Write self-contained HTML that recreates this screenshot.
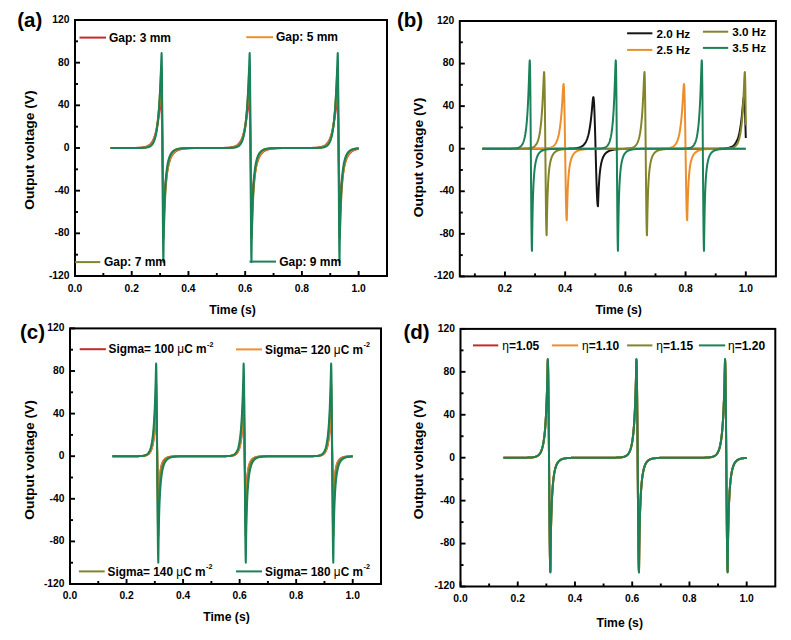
<!DOCTYPE html>
<html><head><meta charset="utf-8"><style>
html,body{margin:0;padding:0;background:#fff;}
svg{display:block;}
text{font-family:"Liberation Sans",sans-serif;font-weight:bold;fill:#000;}
.tk{font-size:10.3px;}
.lg{font-size:11.7px;}
.lga{font-size:12px;}
.lgc{font-size:11.85px;}
.ti{font-size:12.2px;}
.pl{font-size:20.5px;}
.mu{font-weight:normal;}
.sup{font-size:7.2px;}
</style></head><body>
<svg width="791" height="640" viewBox="0 0 791 640">
<rect width="791" height="640" fill="#fff"/>
<rect x="75.00" y="20.00" width="312.00" height="256.00" fill="none" stroke="#000" stroke-width="2.00"/>
<line x1="75.00" y1="276.00" x2="75.00" y2="271.00" stroke="#000" stroke-width="1.9"/>
<line x1="131.73" y1="276.00" x2="131.73" y2="271.00" stroke="#000" stroke-width="1.9"/>
<line x1="188.45" y1="276.00" x2="188.45" y2="271.00" stroke="#000" stroke-width="1.9"/>
<line x1="245.18" y1="276.00" x2="245.18" y2="271.00" stroke="#000" stroke-width="1.9"/>
<line x1="301.91" y1="276.00" x2="301.91" y2="271.00" stroke="#000" stroke-width="1.9"/>
<line x1="358.64" y1="276.00" x2="358.64" y2="271.00" stroke="#000" stroke-width="1.9"/>
<line x1="103.36" y1="276.00" x2="103.36" y2="273.00" stroke="#000" stroke-width="1.9"/>
<line x1="160.09" y1="276.00" x2="160.09" y2="273.00" stroke="#000" stroke-width="1.9"/>
<line x1="216.82" y1="276.00" x2="216.82" y2="273.00" stroke="#000" stroke-width="1.9"/>
<line x1="273.55" y1="276.00" x2="273.55" y2="273.00" stroke="#000" stroke-width="1.9"/>
<line x1="330.27" y1="276.00" x2="330.27" y2="273.00" stroke="#000" stroke-width="1.9"/>
<line x1="75.00" y1="276.00" x2="80.00" y2="276.00" stroke="#000" stroke-width="1.9"/>
<line x1="75.00" y1="233.33" x2="80.00" y2="233.33" stroke="#000" stroke-width="1.9"/>
<line x1="75.00" y1="190.67" x2="80.00" y2="190.67" stroke="#000" stroke-width="1.9"/>
<line x1="75.00" y1="148.00" x2="80.00" y2="148.00" stroke="#000" stroke-width="1.9"/>
<line x1="75.00" y1="105.33" x2="80.00" y2="105.33" stroke="#000" stroke-width="1.9"/>
<line x1="75.00" y1="62.67" x2="80.00" y2="62.67" stroke="#000" stroke-width="1.9"/>
<line x1="75.00" y1="20.00" x2="80.00" y2="20.00" stroke="#000" stroke-width="1.9"/>
<line x1="75.00" y1="254.67" x2="78.00" y2="254.67" stroke="#000" stroke-width="1.9"/>
<line x1="75.00" y1="212.00" x2="78.00" y2="212.00" stroke="#000" stroke-width="1.9"/>
<line x1="75.00" y1="169.33" x2="78.00" y2="169.33" stroke="#000" stroke-width="1.9"/>
<line x1="75.00" y1="126.67" x2="78.00" y2="126.67" stroke="#000" stroke-width="1.9"/>
<line x1="75.00" y1="84.00" x2="78.00" y2="84.00" stroke="#000" stroke-width="1.9"/>
<line x1="75.00" y1="41.33" x2="78.00" y2="41.33" stroke="#000" stroke-width="1.9"/>
<text x="75.00" y="291.50" class="tk" text-anchor="middle">0.0</text>
<text x="131.73" y="291.50" class="tk" text-anchor="middle">0.2</text>
<text x="188.45" y="291.50" class="tk" text-anchor="middle">0.4</text>
<text x="245.18" y="291.50" class="tk" text-anchor="middle">0.6</text>
<text x="301.91" y="291.50" class="tk" text-anchor="middle">0.8</text>
<text x="358.64" y="291.50" class="tk" text-anchor="middle">1.0</text>
<text x="69.50" y="278.90" class="tk" text-anchor="end">-120</text>
<text x="69.50" y="236.23" class="tk" text-anchor="end">-80</text>
<text x="69.50" y="193.57" class="tk" text-anchor="end">-40</text>
<text x="69.50" y="150.90" class="tk" text-anchor="end">0</text>
<text x="69.50" y="108.23" class="tk" text-anchor="end">40</text>
<text x="69.50" y="65.57" class="tk" text-anchor="end">80</text>
<text x="69.50" y="22.90" class="tk" text-anchor="end">120</text>
<path d="M110.45,148.00 111.95,148.00 113.45,148.00 114.95,148.00 116.45,148.00 117.95,148.00 119.45,148.00 120.95,148.00 122.45,148.00 123.95,147.99 125.45,147.99 126.95,147.99 128.46,147.98 129.96,147.98 131.46,147.96 132.96,147.95 134.46,147.93 135.96,147.89 137.46,147.84 138.96,147.77 139.35,147.75 139.75,147.72 140.16,147.69 140.56,147.66 140.96,147.62 141.35,147.58 141.75,147.54 142.16,147.49 142.56,147.44 142.96,147.38 143.35,147.31 143.75,147.24 144.16,147.16 144.56,147.07 144.96,146.97 145.35,146.87 145.75,146.75 146.16,146.61 146.56,146.47 146.96,146.31 147.35,146.13 147.75,145.93 148.16,145.72 148.56,145.48 148.96,145.21 149.35,144.92 149.75,144.60 150.16,144.24 150.56,143.84 150.96,143.41 151.35,142.92 151.75,142.39 152.16,141.80 152.56,141.15 152.96,140.43 153.35,139.64 153.75,138.76 154.16,137.79 154.56,136.72 154.96,135.54 155.35,134.23 155.75,132.79 156.16,131.20 156.56,129.44 156.96,127.50 157.35,125.37 157.75,123.01 157.85,122.39 157.96,121.75 158.06,121.09 158.16,120.42 158.25,119.73 158.35,119.03 158.46,118.31 158.56,117.57 158.66,116.82 158.75,116.05 158.85,115.26 158.96,114.45 159.06,113.63 159.16,112.79 159.25,111.93 159.35,111.06 159.46,110.16 159.56,109.26 159.66,108.33 159.75,107.40 159.85,106.45 159.96,105.49 160.06,104.53 160.16,103.57 160.25,102.62 160.35,101.69 160.46,100.80 160.56,99.96 160.66,99.21 160.75,98.58 160.85,98.13 160.96,97.89 161.00,97.87 161.06,97.95 161.16,98.53 161.25,99.67 161.35,101.36 161.46,103.58 161.56,106.31 161.66,109.50 161.75,113.14 161.85,117.18 161.96,121.57 162.06,126.27 162.16,131.22 162.25,136.38 162.35,141.68 162.46,147.06 162.56,152.48 162.66,157.86 162.75,163.16 162.85,168.30 162.96,173.24 163.06,177.92 163.16,182.29 163.25,186.30 163.35,189.91 163.46,193.08 163.56,195.77 163.66,197.96 163.75,199.61 163.85,200.72 163.96,201.27 164.00,201.33 164.06,201.21 164.16,200.58 164.25,199.63 164.35,198.48 164.46,197.22 164.56,195.91 164.66,194.59 164.75,193.29 164.85,192.00 164.96,190.75 165.06,189.53 165.16,188.35 165.25,187.21 165.35,186.11 165.46,185.05 165.56,184.02 165.66,183.02 165.75,182.06 165.85,181.14 165.96,180.24 166.06,179.37 166.16,178.53 166.25,177.72 166.35,176.94 166.46,176.18 166.56,175.44 166.66,174.73 166.75,174.04 166.85,173.37 166.96,172.72 167.06,172.10 167.16,171.49 167.25,170.89 167.35,170.32 167.46,169.76 167.56,169.22 167.96,167.21 168.35,165.41 168.75,163.81 169.16,162.37 169.56,161.08 169.96,159.91 170.35,158.86 170.75,157.91 171.16,157.05 171.56,156.28 171.96,155.57 172.35,154.93 172.75,154.35 173.16,153.82 173.56,153.34 173.96,152.90 174.35,152.50 174.75,152.13 175.16,151.80 175.56,151.49 175.96,151.21 176.35,150.96 176.75,150.72 177.16,150.51 177.56,150.31 177.96,150.13 178.35,149.96 178.75,149.81 179.16,149.67 179.56,149.54 179.96,149.42 180.35,149.32 180.75,149.21 181.16,149.12 181.56,149.04 181.96,148.96 182.35,148.89 182.75,148.82 183.16,148.76 183.56,148.70 183.96,148.65 184.35,148.60 184.75,148.56 185.16,148.52 185.56,148.48 185.96,148.44 186.35,148.41 186.75,148.38 187.16,148.35 187.56,148.33 189.06,148.25 190.56,148.19 192.06,148.14 193.56,148.11 195.06,148.08 196.56,148.06 198.06,148.05 199.56,148.04 201.06,148.03 202.56,148.02 204.06,148.02 205.56,148.01 207.06,148.01 208.56,148.01 210.06,148.00 211.56,148.00 213.06,148.00 214.56,147.99 216.06,147.99 217.56,147.98 219.06,147.97 220.56,147.96 222.06,147.93 223.56,147.90 225.06,147.86 226.56,147.80 226.96,147.78 227.35,147.75 227.75,147.73 228.16,147.70 228.56,147.66 228.96,147.63 229.35,147.59 229.75,147.55 230.16,147.50 230.56,147.45 230.96,147.39 231.35,147.32 231.75,147.25 232.16,147.17 232.56,147.09 232.96,146.99 233.35,146.89 233.75,146.77 234.16,146.64 234.56,146.50 234.96,146.34 235.35,146.16 235.75,145.97 236.16,145.76 236.56,145.52 236.96,145.26 237.35,144.97 237.75,144.65 238.16,144.30 238.56,143.91 238.96,143.48 239.35,143.01 239.75,142.49 240.16,141.91 240.56,141.27 240.96,140.56 241.35,139.78 241.75,138.92 242.16,137.96 242.56,136.91 242.96,135.75 243.35,134.47 243.75,133.05 244.16,131.48 244.56,129.76 244.96,127.85 245.35,125.75 245.75,123.43 245.85,122.82 245.96,122.19 246.06,121.55 246.16,120.89 246.25,120.21 246.35,119.52 246.46,118.81 246.56,118.08 246.66,117.34 246.75,116.58 246.85,115.81 246.96,115.01 247.06,114.20 247.16,113.37 247.25,112.53 247.35,111.66 247.46,110.78 247.56,109.88 247.66,108.97 247.75,108.04 247.85,107.10 247.96,106.15 248.06,105.20 248.16,104.24 248.25,103.28 248.35,102.33 248.46,101.41 248.56,100.53 248.66,99.72 248.75,99.00 248.85,98.42 248.96,98.03 249.06,97.87 249.07,97.87 249.16,98.07 249.25,98.83 249.35,100.14 249.46,102.00 249.56,104.37 249.66,107.25 249.75,110.58 249.85,114.35 249.96,118.50 250.06,122.99 250.16,127.77 250.25,132.80 250.35,138.00 250.46,143.34 250.56,148.74 250.66,154.15 250.75,159.51 250.85,164.76 250.96,169.85 251.06,174.72 251.16,179.31 251.25,183.57 251.35,187.46 251.46,190.94 251.56,193.97 251.66,196.50 251.75,198.53 251.85,200.02 251.96,200.95 252.06,201.33 252.07,201.33 252.16,201.06 252.25,200.31 252.35,199.29 252.46,198.10 252.56,196.82 252.66,195.51 252.75,194.19 252.85,192.89 252.96,191.61 253.06,190.37 253.16,189.16 253.25,188.00 253.35,186.87 253.46,185.78 253.56,184.72 253.66,183.71 253.75,182.72 253.85,181.77 253.96,180.86 254.06,179.97 254.16,179.11 254.25,178.28 254.35,177.48 254.46,176.70 254.56,175.95 254.66,175.22 254.75,174.52 254.85,173.83 254.96,173.17 255.06,172.53 255.16,171.91 255.25,171.30 255.35,170.72 255.46,170.15 255.56,169.59 255.66,169.06 256.06,167.06 256.45,165.28 256.86,163.69 257.25,162.26 257.65,160.98 258.06,159.83 258.45,158.78 258.86,157.84 259.25,156.99 259.65,156.22 260.06,155.52 260.45,154.88 260.86,154.31 261.25,153.78 261.65,153.30 262.06,152.87 262.45,152.47 262.86,152.10 263.25,151.77 263.65,151.47 264.06,151.19 264.45,150.94 264.86,150.70 265.25,150.49 265.65,150.30 266.06,150.12 266.45,149.95 266.86,149.80 267.25,149.66 267.65,149.53 268.06,149.42 268.45,149.31 268.86,149.21 269.25,149.12 269.65,149.03 270.06,148.95 270.45,148.88 270.86,148.82 271.25,148.76 271.65,148.70 272.06,148.65 272.45,148.60 272.86,148.56 273.25,148.51 273.65,148.48 274.06,148.44 274.45,148.41 274.86,148.38 275.25,148.35 275.65,148.33 277.15,148.25 278.65,148.19 280.15,148.14 281.65,148.11 283.15,148.08 284.65,148.06 286.15,148.05 287.65,148.04 289.15,148.03 290.65,148.02 292.15,148.02 293.65,148.01 295.15,148.01 296.65,148.01 298.15,148.00 299.65,148.00 301.15,148.00 302.65,147.99 304.15,147.99 305.65,147.98 307.15,147.97 308.65,147.96 310.15,147.93 311.65,147.90 313.15,147.86 314.65,147.80 315.06,147.77 315.45,147.75 315.86,147.72 316.25,147.69 316.65,147.66 317.06,147.63 317.45,147.59 317.86,147.54 318.25,147.50 318.65,147.44 319.06,147.38 319.45,147.32 319.86,147.25 320.25,147.17 320.65,147.08 321.06,146.98 321.45,146.88 321.86,146.76 322.25,146.63 322.65,146.48 323.06,146.32 323.45,146.15 323.86,145.95 324.25,145.74 324.65,145.50 325.06,145.24 325.45,144.95 325.86,144.63 326.25,144.27 326.65,143.88 327.06,143.45 327.45,142.97 327.86,142.44 328.25,141.86 328.65,141.21 329.06,140.50 329.45,139.72 329.86,138.85 330.25,137.89 330.65,136.83 331.06,135.65 331.45,134.36 331.86,132.93 332.25,131.36 332.65,129.62 333.06,127.70 333.45,125.58 333.86,123.25 333.95,122.63 334.06,121.99 334.15,121.34 334.25,120.68 334.36,120.00 334.45,119.30 334.56,118.59 334.65,117.86 334.75,117.11 334.86,116.34 334.95,115.56 335.06,114.76 335.15,113.95 335.25,113.11 335.36,112.26 335.45,111.39 335.56,110.51 335.65,109.60 335.75,108.69 335.86,107.76 335.95,106.81 336.06,105.86 336.15,104.90 336.25,103.94 336.36,102.98 336.45,102.04 336.56,101.13 336.65,100.27 336.75,99.48 336.86,98.80 336.95,98.28 337.06,97.96 337.14,97.87 337.15,97.87 337.25,98.24 337.36,99.17 337.45,100.66 337.56,102.68 337.65,105.21 337.75,108.23 337.86,111.70 337.95,115.59 338.06,119.85 338.15,124.44 338.25,129.30 338.36,134.39 338.45,139.64 338.56,145.00 338.65,150.41 338.75,155.82 338.86,161.15 338.95,166.36 339.06,171.38 339.15,176.17 339.25,180.66 339.36,184.82 339.45,188.58 339.56,191.93 339.65,194.80 339.75,197.19 339.86,199.05 339.95,200.37 340.06,201.13 340.14,201.33 340.15,201.32 340.25,200.86 340.36,200.02 340.45,198.93 340.56,197.71 340.65,196.42 340.75,195.10 340.86,193.78 340.95,192.49 341.06,191.22 341.15,189.99 341.25,188.80 341.36,187.64 341.45,186.53 341.56,185.45 341.65,184.41 341.75,183.40 341.86,182.43 341.95,181.49 342.06,180.58 342.15,179.70 342.25,178.85 342.36,178.03 342.45,177.24 342.56,176.47 342.65,175.72 342.75,175.00 342.86,174.30 342.95,173.63 343.06,172.97 343.15,172.33 343.25,171.72 343.36,171.12 343.45,170.54 343.56,169.97 343.65,169.43 344.06,167.39 344.45,165.58 344.86,163.96 345.25,162.50 345.65,161.19 346.06,160.02 346.45,158.96 346.86,158.00 347.25,157.13 347.65,156.35 348.06,155.64 348.45,154.99 348.86,154.40 349.25,153.87 349.65,153.38 350.06,152.94 350.45,152.53 350.86,152.16 351.25,151.83 351.65,151.52 352.06,151.24 352.45,150.98 352.86,150.74 353.25,150.53 353.65,150.33 354.06,150.15 354.45,149.98 354.86,149.82 355.25,149.68 355.65,149.55 356.06,149.43 356.45,149.33 356.86,149.22 357.25,149.13 357.65,149.05 358.06,148.97 358.45,148.89 358.64,148.86" fill="none" stroke="#c42a2c" stroke-width="2.00" stroke-linejoin="round"/>
<path d="M110.45,148.00 111.95,148.00 113.45,148.00 114.95,148.00 116.45,148.00 117.95,148.00 119.45,148.00 120.95,148.00 122.45,148.00 123.95,148.00 125.45,148.00 126.95,148.00 128.46,147.99 129.96,147.99 131.46,147.99 132.96,147.98 134.46,147.97 135.96,147.95 137.46,147.92 138.96,147.88 139.35,147.86 139.75,147.84 140.16,147.82 140.56,147.80 140.96,147.78 141.35,147.75 141.75,147.72 142.16,147.69 142.56,147.65 142.96,147.61 143.35,147.56 143.75,147.51 144.16,147.45 144.56,147.38 144.96,147.31 145.35,147.23 145.75,147.13 146.16,147.03 146.56,146.91 146.96,146.78 147.35,146.63 147.75,146.46 148.16,146.28 148.56,146.07 148.96,145.84 149.35,145.57 149.75,145.28 150.16,144.95 150.56,144.58 150.96,144.17 151.35,143.70 151.75,143.19 152.16,142.60 152.56,141.95 152.96,141.22 153.35,140.40 153.75,139.48 154.16,138.45 154.56,137.30 154.96,136.00 155.35,134.55 155.75,132.93 156.16,131.11 156.56,129.07 156.96,126.79 157.35,124.24 157.75,121.38 157.85,120.61 157.96,119.82 158.06,119.01 158.16,118.18 158.25,117.32 158.35,116.44 158.46,115.54 158.56,114.61 158.66,113.65 158.75,112.67 158.85,111.66 158.96,110.62 159.06,109.55 159.16,108.46 159.25,107.34 159.35,106.18 159.46,105.00 159.56,103.79 159.66,102.55 159.75,101.27 159.85,99.97 159.96,98.64 160.06,97.29 160.16,95.91 160.25,94.51 160.35,93.10 160.46,91.68 160.56,90.26 160.66,88.88 160.75,87.55 160.85,86.32 160.96,85.27 161.06,84.48 161.16,84.05 161.20,84.00 161.25,84.14 161.35,85.13 161.46,87.07 161.56,89.93 161.66,93.67 161.75,98.23 161.85,103.55 161.96,109.55 162.06,116.14 162.16,123.22 162.25,130.70 162.35,138.46 162.46,146.39 162.56,154.38 162.66,162.30 162.75,170.05 162.85,177.51 162.96,184.56 163.06,191.12 163.16,197.08 163.25,202.35 163.35,206.86 163.46,210.54 163.56,213.35 163.66,215.23 163.75,216.16 163.80,216.27 163.85,216.04 163.96,214.94 164.06,213.33 164.16,211.45 164.25,209.47 164.35,207.45 164.46,205.47 164.56,203.54 164.66,201.68 164.75,199.88 164.85,198.15 164.96,196.50 165.06,194.91 165.16,193.38 165.25,191.92 165.35,190.51 165.46,189.16 165.56,187.87 165.66,186.62 165.75,185.42 165.85,184.27 165.96,183.16 166.06,182.09 166.16,181.06 166.25,180.07 166.35,179.11 166.46,178.19 166.56,177.29 166.66,176.43 166.75,175.60 166.85,174.80 166.96,174.03 167.06,173.28 167.16,172.55 167.25,171.85 167.35,171.18 167.46,170.52 167.56,169.89 167.96,167.55 168.35,165.49 168.75,163.67 169.16,162.06 169.56,160.63 169.96,159.36 170.35,158.23 170.75,157.21 171.16,156.31 171.56,155.50 171.96,154.78 172.35,154.13 172.75,153.55 173.16,153.02 173.56,152.55 173.96,152.13 174.35,151.74 174.75,151.40 175.16,151.09 175.56,150.81 175.96,150.55 176.35,150.32 176.75,150.11 177.16,149.92 177.56,149.75 177.96,149.60 178.35,149.45 178.75,149.33 179.16,149.21 179.56,149.10 179.96,149.01 180.35,148.92 180.75,148.84 181.16,148.77 181.56,148.70 181.96,148.64 182.35,148.59 182.75,148.54 183.16,148.49 183.56,148.45 183.96,148.41 184.35,148.38 184.75,148.35 185.16,148.32 185.56,148.29 185.96,148.27 186.35,148.24 186.75,148.22 187.16,148.21 187.56,148.19 189.06,148.14 190.56,148.10 192.06,148.07 193.56,148.05 195.06,148.04 196.56,148.03 198.06,148.02 199.56,148.02 201.06,148.01 202.56,148.01 204.06,148.01 205.56,148.00 207.06,148.00 208.56,148.00 210.06,148.00 211.56,148.00 213.06,148.00 214.56,148.00 216.06,148.00 217.56,147.99 219.06,147.99 220.56,147.98 222.06,147.97 223.56,147.95 225.06,147.93 226.56,147.89 226.96,147.88 227.35,147.86 227.75,147.85 228.16,147.83 228.56,147.81 228.96,147.78 229.35,147.76 229.75,147.73 230.16,147.70 230.56,147.66 230.96,147.62 231.35,147.57 231.75,147.52 232.16,147.46 232.56,147.40 232.96,147.32 233.35,147.24 233.75,147.15 234.16,147.05 234.56,146.93 234.96,146.80 235.35,146.66 235.75,146.49 236.16,146.31 236.56,146.11 236.96,145.88 237.35,145.62 237.75,145.33 238.16,145.01 238.56,144.65 238.96,144.24 239.35,143.79 239.75,143.28 240.16,142.71 240.56,142.07 240.96,141.35 241.35,140.55 241.75,139.65 242.16,138.64 242.56,137.50 242.96,136.24 243.35,134.82 243.75,133.22 244.16,131.44 244.56,129.44 244.96,127.20 245.35,124.70 245.75,121.89 245.85,121.14 245.96,120.37 246.06,119.58 246.16,118.76 246.25,117.92 246.35,117.05 246.46,116.17 246.56,115.25 246.66,114.31 246.75,113.35 246.85,112.36 246.96,111.34 247.06,110.29 247.16,109.22 247.25,108.12 247.35,106.98 247.46,105.82 247.56,104.63 247.66,103.41 247.75,102.16 247.85,100.88 247.96,99.57 248.06,98.23 248.16,96.86 248.25,95.48 248.35,94.07 248.46,92.66 248.56,91.24 248.66,89.83 248.75,88.46 248.85,87.16 248.96,85.97 249.06,84.99 249.16,84.30 249.25,84.01 249.27,84.00 249.35,84.34 249.46,85.63 249.56,87.86 249.66,91.00 249.75,94.99 249.85,99.80 249.96,105.34 250.06,111.53 250.16,118.28 250.25,125.50 250.35,133.08 250.46,140.90 250.56,148.86 250.66,156.84 250.75,164.72 250.85,172.39 250.96,179.74 251.06,186.65 251.16,193.03 251.25,198.78 251.35,203.83 251.46,208.09 251.56,211.51 251.66,214.03 251.75,215.62 251.85,216.25 251.87,216.27 251.96,215.78 252.06,214.49 252.16,212.77 252.25,210.85 252.35,208.84 252.46,206.84 252.56,204.87 252.66,202.96 252.75,201.11 252.85,199.34 252.96,197.63 253.06,196.00 253.16,194.43 253.25,192.92 253.35,191.48 253.46,190.09 253.56,188.76 253.66,187.48 253.75,186.24 253.85,185.06 253.96,183.92 254.06,182.82 254.16,181.77 254.25,180.75 254.35,179.77 254.46,178.82 254.56,177.91 254.66,177.03 254.75,176.18 254.85,175.35 254.96,174.56 255.06,173.79 255.16,173.05 255.25,172.34 255.35,171.64 255.46,170.97 255.56,170.32 255.66,169.70 256.06,167.38 256.45,165.34 256.86,163.54 257.25,161.94 257.65,160.52 258.06,159.27 258.45,158.14 258.86,157.14 259.25,156.25 259.65,155.45 260.06,154.73 260.45,154.08 260.86,153.51 261.25,152.99 261.65,152.52 262.06,152.10 262.45,151.72 262.86,151.37 263.25,151.06 263.65,150.79 264.06,150.53 264.45,150.30 264.86,150.10 265.25,149.91 265.65,149.74 266.06,149.58 266.45,149.44 266.86,149.32 267.25,149.20 267.65,149.10 268.06,149.00 268.45,148.91 268.86,148.84 269.25,148.76 269.65,148.70 270.06,148.64 270.45,148.58 270.86,148.53 271.25,148.49 271.65,148.45 272.06,148.41 272.45,148.38 272.86,148.34 273.25,148.32 273.65,148.29 274.06,148.26 274.45,148.24 274.86,148.22 275.25,148.20 275.65,148.19 277.15,148.14 278.65,148.10 280.15,148.07 281.65,148.05 283.15,148.04 284.65,148.03 286.15,148.02 287.65,148.02 289.15,148.01 290.65,148.01 292.15,148.01 293.65,148.00 295.15,148.00 296.65,148.00 298.15,148.00 299.65,148.00 301.15,148.00 302.65,148.00 304.15,148.00 305.65,147.99 307.15,147.99 308.65,147.98 310.15,147.97 311.65,147.95 313.15,147.93 314.65,147.89 315.06,147.88 315.45,147.86 315.86,147.85 316.25,147.83 316.65,147.81 317.06,147.78 317.45,147.76 317.86,147.73 318.25,147.69 318.65,147.66 319.06,147.61 319.45,147.57 319.86,147.52 320.25,147.46 320.65,147.39 321.06,147.32 321.45,147.23 321.86,147.14 322.25,147.04 322.65,146.92 323.06,146.79 323.45,146.64 323.86,146.48 324.25,146.30 324.65,146.09 325.06,145.86 325.45,145.60 325.86,145.31 326.25,144.98 326.65,144.62 327.06,144.21 327.45,143.75 327.86,143.24 328.25,142.66 328.65,142.02 329.06,141.29 329.45,140.48 329.86,139.57 330.25,138.55 330.65,137.41 331.06,136.13 331.45,134.70 331.86,133.09 332.25,131.29 332.65,129.28 333.06,127.02 333.45,124.49 333.86,121.66 333.95,120.91 334.06,120.13 334.15,119.33 334.25,118.50 334.36,117.65 334.45,116.78 334.56,115.89 334.65,114.97 334.75,114.02 334.86,113.05 334.95,112.05 335.06,111.02 335.15,109.96 335.25,108.88 335.36,107.77 335.45,106.63 335.56,105.46 335.65,104.26 335.75,103.02 335.86,101.76 335.95,100.47 336.06,99.16 336.15,97.81 336.25,96.44 336.36,95.05 336.45,93.64 336.56,92.22 336.65,90.80 336.75,89.40 336.86,88.05 336.95,86.78 337.06,85.65 337.15,84.74 337.25,84.16 337.34,84.00 337.36,84.01 337.45,84.64 337.56,86.22 337.65,88.73 337.75,92.14 337.86,96.40 337.95,101.43 338.06,107.18 338.15,113.56 338.25,120.47 338.36,127.81 338.45,135.47 338.56,143.35 338.65,151.33 338.75,159.29 338.86,167.12 338.95,174.70 339.06,181.92 339.15,188.68 339.25,194.88 339.36,200.42 339.45,205.23 339.56,209.24 339.65,212.38 339.75,214.62 339.86,215.92 339.94,216.27 339.95,216.24 340.06,215.44 340.15,213.99 340.25,212.19 340.36,210.23 340.45,208.22 340.56,206.22 340.65,204.27 340.75,202.38 340.86,200.56 340.95,198.80 341.06,197.12 341.15,195.50 341.25,193.96 341.36,192.47 341.45,191.04 341.56,189.67 341.65,188.35 341.75,187.09 341.86,185.87 341.95,184.70 342.06,183.58 342.15,182.49 342.25,181.45 342.36,180.44 342.45,179.47 342.56,178.53 342.65,177.63 342.75,176.76 342.86,175.92 342.95,175.11 343.06,174.32 343.15,173.56 343.25,172.83 343.36,172.12 343.45,171.43 343.56,170.77 343.65,170.13 344.06,167.76 344.45,165.67 344.86,163.83 345.25,162.20 345.65,160.76 346.06,159.47 346.45,158.33 346.86,157.31 347.25,156.39 347.65,155.58 348.06,154.85 348.45,154.19 348.86,153.60 349.25,153.07 349.65,152.60 350.06,152.17 350.45,151.78 350.86,151.43 351.25,151.12 351.65,150.83 352.06,150.57 352.45,150.34 352.86,150.13 353.25,149.94 353.65,149.77 354.06,149.61 354.45,149.47 354.86,149.34 355.25,149.22 355.65,149.11 356.06,149.02 356.45,148.93 356.86,148.85 357.25,148.78 357.65,148.71 358.06,148.65 358.45,148.59 358.64,148.57" fill="none" stroke="#ec8e2e" stroke-width="2.00" stroke-linejoin="round"/>
<path d="M110.45,148.00 111.95,148.00 113.45,148.00 114.95,148.00 116.45,148.00 117.95,148.00 119.45,148.00 120.95,148.00 122.45,148.00 123.95,148.00 125.45,148.00 126.95,148.00 128.46,148.00 129.96,148.00 131.46,147.99 132.96,147.99 134.46,147.99 135.96,147.98 137.46,147.96 138.96,147.94 139.35,147.93 139.75,147.92 140.16,147.91 140.56,147.89 140.96,147.88 141.35,147.86 141.75,147.84 142.16,147.82 142.56,147.80 142.96,147.77 143.35,147.74 143.75,147.70 144.16,147.66 144.56,147.62 144.96,147.56 145.35,147.50 145.75,147.43 146.16,147.36 146.56,147.27 146.96,147.17 147.35,147.05 147.75,146.92 148.16,146.77 148.56,146.60 148.96,146.41 149.35,146.19 149.75,145.94 150.16,145.66 150.56,145.34 150.96,144.97 151.35,144.56 151.75,144.08 152.16,143.54 152.56,142.93 152.96,142.23 153.35,141.44 153.75,140.54 154.16,139.51 154.56,138.34 154.96,137.01 155.35,135.50 155.75,133.78 156.16,131.82 156.56,129.60 156.96,127.07 157.35,124.20 157.75,120.93 157.85,120.05 157.96,119.13 158.06,118.19 158.16,117.22 158.25,116.21 158.35,115.17 158.46,114.10 158.56,113.00 158.66,111.86 158.75,110.68 158.85,109.47 158.96,108.21 159.06,106.92 159.16,105.58 159.25,104.20 159.35,102.78 159.46,101.32 159.56,99.81 159.66,98.25 159.75,96.64 159.85,94.99 159.96,93.28 160.06,91.53 160.16,89.73 160.25,87.88 160.35,85.98 160.46,84.03 160.56,82.04 160.66,80.02 160.75,77.98 160.85,75.93 160.96,73.92 161.06,71.99 161.16,70.25 161.25,68.87 161.35,68.09 161.40,68.00 161.46,68.25 161.56,70.03 161.66,73.52 161.75,78.62 161.85,85.25 161.96,93.27 162.06,102.51 162.16,112.78 162.25,123.88 162.35,135.57 162.46,147.63 162.56,159.81 162.66,171.85 162.75,183.52 162.85,194.57 162.96,204.78 163.06,213.95 163.16,221.88 163.25,228.41 163.35,233.42 163.46,236.80 163.56,238.48 163.60,238.67 163.66,238.20 163.75,236.01 163.85,232.95 163.96,229.58 164.06,226.17 164.16,222.86 164.25,219.67 164.35,216.64 164.46,213.76 164.56,211.04 164.66,208.45 164.75,205.99 164.85,203.66 164.96,201.45 165.06,199.34 165.16,197.34 165.25,195.43 165.35,193.62 165.46,191.88 165.56,190.23 165.66,188.64 165.75,187.13 165.85,185.69 165.96,184.31 166.06,182.98 166.16,181.72 166.25,180.50 166.35,179.34 166.46,178.22 166.56,177.15 166.66,176.13 166.75,175.14 166.85,174.19 166.96,173.28 167.06,172.41 167.16,171.57 167.25,170.76 167.35,169.99 167.46,169.24 167.56,168.52 167.96,165.90 168.35,163.65 168.75,161.71 169.16,160.02 169.56,158.56 169.96,157.29 170.35,156.18 170.75,155.21 171.16,154.37 171.56,153.62 171.96,152.97 172.35,152.40 172.75,151.90 173.16,151.46 173.56,151.07 173.96,150.73 174.35,150.42 174.75,150.15 175.16,149.92 175.56,149.71 175.96,149.52 176.35,149.35 176.75,149.21 177.16,149.08 177.56,148.96 177.96,148.86 178.35,148.77 178.75,148.69 179.16,148.61 179.56,148.55 179.96,148.49 180.35,148.44 180.75,148.40 181.16,148.35 181.56,148.32 181.96,148.28 182.35,148.26 182.75,148.23 183.16,148.21 183.56,148.19 183.96,148.17 184.35,148.15 184.75,148.13 185.16,148.12 185.56,148.11 185.96,148.10 186.35,148.09 186.75,148.08 187.16,148.07 187.56,148.06 189.06,148.04 190.56,148.03 192.06,148.02 193.56,148.01 195.06,148.01 196.56,148.01 198.06,148.00 199.56,148.00 201.06,148.00 202.56,148.00 204.06,148.00 205.56,148.00 207.06,148.00 208.56,148.00 210.06,148.00 211.56,148.00 213.06,148.00 214.56,148.00 216.06,148.00 217.56,148.00 219.06,148.00 220.56,147.99 222.06,147.99 223.56,147.98 225.06,147.97 226.56,147.95 226.96,147.94 227.35,147.93 227.75,147.92 228.16,147.91 228.56,147.90 228.96,147.88 229.35,147.87 229.75,147.85 230.16,147.83 230.56,147.80 230.96,147.78 231.35,147.74 231.75,147.71 232.16,147.67 232.56,147.62 232.96,147.57 233.35,147.51 233.75,147.45 234.16,147.37 234.56,147.28 234.96,147.19 235.35,147.07 235.75,146.95 236.16,146.80 236.56,146.63 236.96,146.45 237.35,146.23 237.75,145.99 238.16,145.71 238.56,145.40 238.96,145.04 239.35,144.63 239.75,144.17 240.16,143.64 240.56,143.04 240.96,142.36 241.35,141.58 241.75,140.70 242.16,139.70 242.56,138.55 242.96,137.25 243.35,135.77 243.75,134.09 244.16,132.18 244.56,130.01 244.96,127.53 245.35,124.72 245.75,121.52 245.85,120.66 245.96,119.77 246.06,118.84 246.16,117.89 246.25,116.91 246.35,115.89 246.46,114.85 246.56,113.77 246.66,112.65 246.75,111.50 246.85,110.31 246.96,109.08 247.06,107.82 247.16,106.51 247.25,105.16 247.35,103.77 247.46,102.33 247.56,100.85 247.66,99.33 247.75,97.76 247.85,96.14 247.96,94.47 248.06,92.75 248.16,90.98 248.25,89.16 248.35,87.29 248.46,85.38 248.56,83.42 248.66,81.42 248.75,79.39 248.85,77.35 248.96,75.30 249.06,73.31 249.16,71.43 249.25,69.78 249.35,68.56 249.46,68.01 249.47,68.00 249.56,68.61 249.66,70.93 249.75,74.93 249.85,80.52 249.96,87.59 250.06,96.00 250.16,105.58 250.25,116.13 250.35,127.44 250.46,139.27 250.56,151.39 250.66,163.56 250.75,175.51 250.85,187.01 250.96,197.83 251.06,207.74 251.16,216.54 251.25,224.05 251.35,230.13 251.46,234.64 251.56,237.50 251.66,238.64 251.67,238.67 251.75,237.66 251.85,235.12 251.96,231.92 252.06,228.52 252.16,225.14 252.25,221.86 252.35,218.72 252.46,215.74 252.56,212.91 252.66,210.22 252.75,207.68 252.85,205.26 252.96,202.97 253.06,200.79 253.16,198.72 253.25,196.74 253.35,194.86 253.46,193.07 253.56,191.36 253.66,189.73 253.75,188.17 253.85,186.68 253.96,185.26 254.06,183.89 254.16,182.59 254.25,181.34 254.35,180.14 254.46,178.99 254.56,177.89 254.66,176.83 254.75,175.82 254.85,174.84 254.96,173.91 255.06,173.01 255.16,172.15 255.25,171.32 255.35,170.52 255.46,169.75 255.56,169.01 255.66,168.30 256.06,165.72 256.45,163.49 256.86,161.57 257.25,159.90 257.65,158.45 258.06,157.20 258.45,156.10 258.86,155.14 259.25,154.30 259.65,153.57 260.06,152.93 260.45,152.36 260.86,151.86 261.25,151.43 261.65,151.04 262.06,150.70 262.45,150.40 262.86,150.13 263.25,149.90 263.65,149.69 264.06,149.51 264.45,149.34 264.86,149.20 265.25,149.07 265.65,148.95 266.06,148.85 266.45,148.76 266.86,148.68 267.25,148.61 267.65,148.55 268.06,148.49 268.45,148.44 268.86,148.39 269.25,148.35 269.65,148.31 270.06,148.28 270.45,148.25 270.86,148.23 271.25,148.20 271.65,148.18 272.06,148.16 272.45,148.15 272.86,148.13 273.25,148.12 273.65,148.11 274.06,148.10 274.45,148.09 274.86,148.08 275.25,148.07 275.65,148.06 277.15,148.04 278.65,148.03 280.15,148.02 281.65,148.01 283.15,148.01 284.65,148.01 286.15,148.00 287.65,148.00 289.15,148.00 290.65,148.00 292.15,148.00 293.65,148.00 295.15,148.00 296.65,148.00 298.15,148.00 299.65,148.00 301.15,148.00 302.65,148.00 304.15,148.00 305.65,148.00 307.15,148.00 308.65,147.99 310.15,147.99 311.65,147.98 313.15,147.97 314.65,147.95 315.06,147.94 315.45,147.93 315.86,147.92 316.25,147.91 316.65,147.90 317.06,147.88 317.45,147.86 317.86,147.85 318.25,147.82 318.65,147.80 319.06,147.77 319.45,147.74 319.86,147.71 320.25,147.67 320.65,147.62 321.06,147.57 321.45,147.51 321.86,147.44 322.25,147.36 322.65,147.28 323.06,147.18 323.45,147.06 323.86,146.93 324.25,146.79 324.65,146.62 325.06,146.43 325.45,146.22 325.86,145.97 326.25,145.69 326.65,145.37 327.06,145.01 327.45,144.60 327.86,144.13 328.25,143.60 328.65,142.99 329.06,142.30 329.45,141.52 329.86,140.63 330.25,139.61 330.65,138.46 331.06,137.14 331.45,135.65 331.86,133.95 332.25,132.02 332.65,129.83 333.06,127.33 333.45,124.49 333.86,121.26 333.95,120.39 334.06,119.48 334.15,118.55 334.25,117.59 334.36,116.60 334.45,115.57 334.56,114.52 334.65,113.42 334.75,112.30 334.86,111.13 334.95,109.93 335.06,108.69 335.15,107.42 335.25,106.10 335.36,104.73 335.45,103.33 335.56,101.88 335.65,100.39 335.75,98.85 335.86,97.26 335.95,95.62 336.06,93.94 336.15,92.21 336.25,90.42 336.36,88.59 336.45,86.71 336.56,84.78 336.65,82.81 336.75,80.80 336.86,78.76 336.95,76.71 337.06,74.68 337.15,72.71 337.25,70.88 337.36,69.34 337.45,68.30 337.54,68.00 337.56,68.02 337.65,69.15 337.75,71.99 337.86,76.49 337.95,82.55 338.06,90.05 338.15,98.85 338.25,108.75 338.36,119.56 338.45,131.05 338.56,143.00 338.65,155.16 338.75,167.28 338.86,179.12 338.95,190.44 339.06,200.99 339.15,210.58 339.25,219.01 339.36,226.09 339.45,231.70 339.56,235.71 339.65,238.04 339.74,238.67 339.75,238.61 339.86,236.99 339.95,234.17 340.06,230.88 340.15,227.47 340.25,224.11 340.36,220.87 340.45,217.78 340.56,214.85 340.65,212.06 340.75,209.42 340.86,206.92 340.95,204.54 341.06,202.28 341.15,200.14 341.25,198.09 341.36,196.15 341.45,194.30 341.56,192.53 341.65,190.85 341.75,189.24 341.86,187.70 341.95,186.23 342.06,184.83 342.15,183.48 342.25,182.19 342.36,180.96 342.45,179.78 342.56,178.64 342.65,177.56 342.75,176.51 342.86,175.51 342.95,174.55 343.06,173.63 343.15,172.74 343.25,171.89 343.36,171.07 343.45,170.28 343.56,169.52 343.65,168.79 344.06,166.14 344.45,163.85 344.86,161.88 345.25,160.17 345.65,158.69 346.06,157.40 346.45,156.28 346.86,155.30 347.25,154.44 347.65,153.69 348.06,153.03 348.45,152.45 348.86,151.95 349.25,151.50 349.65,151.10 350.06,150.76 350.45,150.45 350.86,150.18 351.25,149.94 351.65,149.72 352.06,149.54 352.45,149.37 352.86,149.22 353.25,149.09 353.65,148.97 354.06,148.87 354.45,148.78 354.86,148.69 355.25,148.62 355.65,148.56 356.06,148.50 356.45,148.45 356.86,148.40 357.25,148.36 357.65,148.32 358.06,148.29 358.45,148.26 358.64,148.25" fill="none" stroke="#84842a" stroke-width="2.00" stroke-linejoin="round"/>
<path d="M110.45,148.00 111.95,148.00 113.45,148.00 114.95,148.00 116.45,148.00 117.95,148.00 119.45,148.00 120.95,148.00 122.45,148.00 123.95,148.00 125.45,148.00 126.95,148.00 128.46,148.00 129.96,148.00 131.46,148.00 132.96,148.00 134.46,147.99 135.96,147.99 137.46,147.98 138.96,147.97 139.35,147.96 139.75,147.96 140.16,147.95 140.56,147.95 140.96,147.94 141.35,147.93 141.75,147.92 142.16,147.90 142.56,147.89 142.96,147.87 143.35,147.85 143.75,147.83 144.16,147.80 144.56,147.77 144.96,147.74 145.35,147.70 145.75,147.65 146.16,147.60 146.56,147.54 146.96,147.46 147.35,147.38 147.75,147.29 148.16,147.18 148.56,147.05 148.96,146.91 149.35,146.74 149.75,146.54 150.16,146.32 150.56,146.06 150.96,145.77 151.35,145.42 151.75,145.03 152.16,144.57 152.56,144.04 152.96,143.44 153.35,142.74 153.75,141.93 154.16,140.99 154.56,139.92 154.96,138.68 155.35,137.25 155.75,135.60 156.16,133.69 156.56,131.50 156.96,128.96 157.35,126.04 157.75,122.67 157.85,121.75 157.96,120.80 158.06,119.81 158.16,118.79 158.25,117.73 158.35,116.63 158.46,115.49 158.56,114.31 158.66,113.08 158.75,111.82 158.85,110.50 158.96,109.14 159.06,107.73 159.16,106.27 159.25,104.75 159.35,103.19 159.46,101.56 159.56,99.88 159.66,98.13 159.75,96.32 159.85,94.45 159.96,92.51 160.06,90.50 160.16,88.42 160.25,86.27 160.35,84.04 160.46,81.73 160.56,79.35 160.66,76.88 160.75,74.33 160.85,71.70 160.96,68.99 161.06,66.20 161.16,63.36 161.25,60.49 161.35,57.66 161.46,55.08 161.56,53.31 161.60,53.07 161.66,53.52 161.75,56.78 161.85,63.11 161.96,72.31 162.06,84.10 162.16,98.12 162.25,113.95 162.35,131.11 162.46,149.07 162.56,167.29 162.66,185.22 162.75,202.30 162.85,218.03 162.96,231.93 163.06,243.56 163.16,252.58 163.25,258.72 163.35,261.78 163.40,262.13 163.46,259.03 163.56,250.46 163.66,242.41 163.75,235.48 163.85,229.50 163.96,224.28 164.06,219.64 164.16,215.49 164.25,211.74 164.35,208.33 164.46,205.20 164.56,202.32 164.66,199.66 164.75,197.20 164.85,194.90 164.96,192.76 165.06,190.76 165.16,188.88 165.25,187.12 165.35,185.46 165.46,183.89 165.56,182.42 165.66,181.02 165.75,179.70 165.85,178.45 165.96,177.26 166.06,176.14 166.16,175.07 166.25,174.05 166.35,173.08 166.46,172.15 166.56,171.27 166.66,170.43 166.75,169.63 166.85,168.86 166.96,168.13 167.06,167.43 167.16,166.75 167.25,166.11 167.35,165.50 167.46,164.91 167.56,164.34 167.96,162.29 168.35,160.55 168.75,159.05 169.16,157.76 169.56,156.64 169.96,155.67 170.35,154.83 170.75,154.08 171.16,153.43 171.56,152.86 171.96,152.36 172.35,151.91 172.75,151.52 173.16,151.17 173.56,150.85 173.96,150.57 174.35,150.33 174.75,150.10 175.16,149.91 175.56,149.73 175.96,149.57 176.35,149.42 176.75,149.29 177.16,149.18 177.56,149.07 177.96,148.98 178.35,148.89 178.75,148.81 179.16,148.74 179.56,148.68 179.96,148.62 180.35,148.57 180.75,148.52 181.16,148.48 181.56,148.44 181.96,148.40 182.35,148.37 182.75,148.34 183.16,148.31 183.56,148.29 183.96,148.26 184.35,148.24 184.75,148.22 185.16,148.20 185.56,148.19 185.96,148.17 186.35,148.16 186.75,148.15 187.16,148.14 187.56,148.13 189.06,148.09 190.56,148.07 192.06,148.05 193.56,148.04 195.06,148.03 196.56,148.02 198.06,148.02 199.56,148.01 201.06,148.01 202.56,148.01 204.06,148.01 205.56,148.00 207.06,148.00 208.56,148.00 210.06,148.00 211.56,148.00 213.06,148.00 214.56,148.00 216.06,148.00 217.56,148.00 219.06,148.00 220.56,148.00 222.06,148.00 223.56,147.99 225.06,147.98 226.56,147.97 226.96,147.97 227.35,147.97 227.75,147.96 228.16,147.95 228.56,147.95 228.96,147.94 229.35,147.93 229.75,147.92 230.16,147.91 230.56,147.89 230.96,147.87 231.35,147.86 231.75,147.83 232.16,147.81 232.56,147.78 232.96,147.74 233.35,147.71 233.75,147.66 234.16,147.61 234.56,147.55 234.96,147.48 235.35,147.40 235.75,147.30 236.16,147.20 236.56,147.07 236.96,146.93 237.35,146.77 237.75,146.58 238.16,146.36 238.56,146.11 238.96,145.82 239.35,145.49 239.75,145.10 240.16,144.65 240.56,144.14 240.96,143.55 241.35,142.86 241.75,142.08 242.16,141.17 242.56,140.12 242.96,138.91 243.35,137.51 243.75,135.90 244.16,134.04 244.56,131.90 244.96,129.43 245.35,126.58 245.75,123.29 245.85,122.39 245.96,121.46 246.06,120.50 246.16,119.50 246.25,118.46 246.35,117.39 246.46,116.28 246.56,115.13 246.66,113.93 246.75,112.70 246.85,111.41 246.96,110.09 247.06,108.71 247.16,107.28 247.25,105.81 247.35,104.28 247.46,102.69 247.56,101.05 247.66,99.34 247.75,97.58 247.85,95.75 247.96,93.86 248.06,91.90 248.16,89.87 248.25,87.77 248.35,85.59 248.46,83.34 248.56,81.00 248.66,78.59 248.75,76.10 248.85,73.52 248.96,70.87 249.06,68.13 249.16,65.33 249.25,62.47 249.35,59.60 249.46,56.82 249.56,54.40 249.66,53.10 249.67,53.07 249.75,54.19 249.85,58.42 249.96,65.66 250.06,75.69 250.16,88.21 250.25,102.84 250.35,119.13 250.46,136.60 250.56,154.70 250.66,172.89 250.75,190.61 250.85,207.33 250.96,222.54 251.06,235.78 251.16,246.64 251.25,254.80 251.35,260.00 251.46,262.09 251.47,262.13 251.56,256.48 251.66,247.85 251.75,240.15 251.85,233.54 251.96,227.82 252.06,222.79 252.16,218.31 252.25,214.29 252.35,210.65 252.46,207.33 252.56,204.28 252.66,201.48 252.75,198.88 252.85,196.47 252.96,194.22 253.06,192.13 253.16,190.16 253.25,188.32 253.35,186.59 253.46,184.96 253.56,183.43 253.66,181.98 253.75,180.61 253.85,179.31 253.96,178.08 254.06,176.91 254.16,175.80 254.25,174.74 254.35,173.74 254.46,172.79 254.56,171.88 254.66,171.01 254.75,170.18 254.85,169.39 254.96,168.63 255.06,167.91 255.16,167.22 255.25,166.55 255.35,165.92 255.46,165.31 255.56,164.73 255.66,164.17 256.06,162.15 256.45,160.42 256.86,158.94 257.25,157.67 257.65,156.56 258.06,155.60 258.45,154.76 258.86,154.03 259.25,153.39 259.65,152.82 260.06,152.32 260.45,151.88 260.86,151.49 261.25,151.14 261.65,150.83 262.06,150.55 262.45,150.31 262.86,150.09 263.25,149.89 263.65,149.71 264.06,149.56 264.45,149.41 264.86,149.28 265.25,149.17 265.65,149.06 266.06,148.97 266.45,148.88 266.86,148.81 267.25,148.74 267.65,148.67 268.06,148.62 268.45,148.56 268.86,148.52 269.25,148.47 269.65,148.43 270.06,148.40 270.45,148.37 270.86,148.34 271.25,148.31 271.65,148.28 272.06,148.26 272.45,148.24 272.86,148.22 273.25,148.20 273.65,148.19 274.06,148.17 274.45,148.16 274.86,148.15 275.25,148.14 275.65,148.13 277.15,148.09 278.65,148.07 280.15,148.05 281.65,148.04 283.15,148.03 284.65,148.02 286.15,148.02 287.65,148.01 289.15,148.01 290.65,148.01 292.15,148.01 293.65,148.00 295.15,148.00 296.65,148.00 298.15,148.00 299.65,148.00 301.15,148.00 302.65,148.00 304.15,148.00 305.65,148.00 307.15,148.00 308.65,148.00 310.15,148.00 311.65,147.99 313.15,147.98 314.65,147.97 315.06,147.97 315.45,147.97 315.86,147.96 316.25,147.95 316.65,147.95 317.06,147.94 317.45,147.93 317.86,147.92 318.25,147.90 318.65,147.89 319.06,147.87 319.45,147.85 319.86,147.83 320.25,147.81 320.65,147.78 321.06,147.74 321.45,147.70 321.86,147.66 322.25,147.60 322.65,147.54 323.06,147.47 323.45,147.39 323.86,147.30 324.25,147.19 324.65,147.06 325.06,146.92 325.45,146.76 325.86,146.56 326.25,146.34 326.65,146.09 327.06,145.80 327.45,145.46 327.86,145.07 328.25,144.62 328.65,144.10 329.06,143.50 329.45,142.81 329.86,142.01 330.25,141.09 330.65,140.03 331.06,138.81 331.45,137.39 331.86,135.77 332.25,133.89 332.65,131.72 333.06,129.22 333.45,126.34 333.86,123.02 333.95,122.11 334.06,121.17 334.15,120.19 334.25,119.18 334.36,118.14 334.45,117.05 334.56,115.93 334.65,114.76 334.75,113.56 334.86,112.31 334.95,111.01 335.06,109.67 335.15,108.28 335.25,106.83 335.36,105.34 335.45,103.79 335.56,102.19 335.65,100.53 335.75,98.80 335.86,97.02 335.95,95.17 336.06,93.26 336.15,91.28 336.25,89.23 336.36,87.10 336.45,84.90 336.56,82.62 336.65,80.27 336.75,77.83 336.86,75.31 336.95,72.71 337.06,70.03 337.15,67.27 337.25,64.45 337.36,61.58 337.45,58.72 337.56,56.01 337.65,53.82 337.74,53.07 337.75,53.10 337.86,55.17 337.95,60.34 338.06,68.47 338.15,79.31 338.25,92.53 338.36,107.72 338.45,124.43 338.56,142.15 338.65,160.34 338.75,178.44 338.86,195.91 338.95,212.22 339.06,226.87 339.15,239.41 339.25,249.47 339.36,256.73 339.45,260.99 339.54,262.13 339.56,261.59 339.65,253.78 339.75,245.35 339.86,238.00 339.95,231.69 340.06,226.19 340.15,221.35 340.25,217.03 340.36,213.13 340.45,209.59 340.56,206.36 340.65,203.39 340.75,200.65 340.86,198.12 340.95,195.76 341.06,193.56 341.15,191.51 341.25,189.58 341.36,187.78 341.45,186.08 341.56,184.48 341.65,182.97 341.75,181.54 341.86,180.20 341.95,178.92 342.06,177.71 342.15,176.56 342.25,175.47 342.36,174.43 342.45,173.44 342.56,172.50 342.65,171.60 342.75,170.75 342.86,169.93 342.95,169.15 343.06,168.40 343.15,167.69 343.25,167.01 343.36,166.35 343.45,165.73 343.56,165.13 343.65,164.55 344.06,162.47 344.45,160.70 344.86,159.18 345.25,157.87 345.65,156.74 346.06,155.76 346.45,154.90 346.86,154.15 347.25,153.49 347.65,152.91 348.06,152.40 348.45,151.95 348.86,151.55 349.25,151.20 349.65,150.88 350.06,150.60 350.45,150.35 350.86,150.12 351.25,149.92 351.65,149.74 352.06,149.58 352.45,149.44 352.86,149.31 353.25,149.19 353.65,149.08 354.06,148.99 354.45,148.90 354.86,148.82 355.25,148.75 355.65,148.68 356.06,148.63 356.45,148.57 356.86,148.52 357.25,148.48 357.65,148.44 358.06,148.40 358.45,148.37 358.64,148.36" fill="none" stroke="#1a8159" stroke-width="2.00" stroke-linejoin="round"/>
<rect x="459.80" y="21.00" width="316.10" height="255.40" fill="none" stroke="#000" stroke-width="2.00"/>
<line x1="504.96" y1="276.40" x2="504.96" y2="271.40" stroke="#000" stroke-width="1.9"/>
<line x1="565.17" y1="276.40" x2="565.17" y2="271.40" stroke="#000" stroke-width="1.9"/>
<line x1="625.38" y1="276.40" x2="625.38" y2="271.40" stroke="#000" stroke-width="1.9"/>
<line x1="685.59" y1="276.40" x2="685.59" y2="271.40" stroke="#000" stroke-width="1.9"/>
<line x1="745.80" y1="276.40" x2="745.80" y2="271.40" stroke="#000" stroke-width="1.9"/>
<line x1="474.85" y1="276.40" x2="474.85" y2="273.40" stroke="#000" stroke-width="1.9"/>
<line x1="535.06" y1="276.40" x2="535.06" y2="273.40" stroke="#000" stroke-width="1.9"/>
<line x1="595.27" y1="276.40" x2="595.27" y2="273.40" stroke="#000" stroke-width="1.9"/>
<line x1="655.48" y1="276.40" x2="655.48" y2="273.40" stroke="#000" stroke-width="1.9"/>
<line x1="715.69" y1="276.40" x2="715.69" y2="273.40" stroke="#000" stroke-width="1.9"/>
<line x1="459.80" y1="276.40" x2="464.80" y2="276.40" stroke="#000" stroke-width="1.9"/>
<line x1="459.80" y1="233.83" x2="464.80" y2="233.83" stroke="#000" stroke-width="1.9"/>
<line x1="459.80" y1="191.27" x2="464.80" y2="191.27" stroke="#000" stroke-width="1.9"/>
<line x1="459.80" y1="148.70" x2="464.80" y2="148.70" stroke="#000" stroke-width="1.9"/>
<line x1="459.80" y1="106.13" x2="464.80" y2="106.13" stroke="#000" stroke-width="1.9"/>
<line x1="459.80" y1="63.57" x2="464.80" y2="63.57" stroke="#000" stroke-width="1.9"/>
<line x1="459.80" y1="21.00" x2="464.80" y2="21.00" stroke="#000" stroke-width="1.9"/>
<line x1="459.80" y1="255.12" x2="462.80" y2="255.12" stroke="#000" stroke-width="1.9"/>
<line x1="459.80" y1="212.55" x2="462.80" y2="212.55" stroke="#000" stroke-width="1.9"/>
<line x1="459.80" y1="169.98" x2="462.80" y2="169.98" stroke="#000" stroke-width="1.9"/>
<line x1="459.80" y1="127.42" x2="462.80" y2="127.42" stroke="#000" stroke-width="1.9"/>
<line x1="459.80" y1="84.85" x2="462.80" y2="84.85" stroke="#000" stroke-width="1.9"/>
<line x1="459.80" y1="42.28" x2="462.80" y2="42.28" stroke="#000" stroke-width="1.9"/>
<text x="504.96" y="291.90" class="tk" text-anchor="middle">0.2</text>
<text x="565.17" y="291.90" class="tk" text-anchor="middle">0.4</text>
<text x="625.38" y="291.90" class="tk" text-anchor="middle">0.6</text>
<text x="685.59" y="291.90" class="tk" text-anchor="middle">0.8</text>
<text x="745.80" y="291.90" class="tk" text-anchor="middle">1.0</text>
<text x="454.30" y="279.30" class="tk" text-anchor="end">-120</text>
<text x="454.30" y="236.73" class="tk" text-anchor="end">-80</text>
<text x="454.30" y="194.17" class="tk" text-anchor="end">-40</text>
<text x="454.30" y="151.60" class="tk" text-anchor="end">0</text>
<text x="454.30" y="109.03" class="tk" text-anchor="end">40</text>
<text x="454.30" y="66.47" class="tk" text-anchor="end">80</text>
<text x="454.30" y="23.90" class="tk" text-anchor="end">120</text>
<path d="M482.38,148.70 483.88,148.70 485.38,148.70 486.88,148.70 488.38,148.70 489.88,148.70 491.38,148.70 492.88,148.70 494.38,148.70 495.88,148.70 497.38,148.70 498.88,148.70 500.38,148.70 501.88,148.70 503.38,148.70 504.88,148.70 506.38,148.70 507.88,148.70 509.38,148.70 510.88,148.70 512.38,148.70 513.88,148.70 515.38,148.70 516.88,148.70 518.38,148.70 519.88,148.70 521.38,148.70 522.88,148.70 524.38,148.70 525.88,148.70 527.38,148.70 528.88,148.70 530.38,148.70 531.88,148.70 533.38,148.70 534.88,148.70 536.38,148.70 537.88,148.70 539.38,148.70 540.88,148.70 542.38,148.70 543.88,148.70 545.38,148.70 546.88,148.70 548.38,148.70 549.88,148.70 551.38,148.70 552.88,148.70 554.38,148.70 555.88,148.70 557.38,148.69 558.88,148.69 560.38,148.69 561.88,148.68 563.38,148.68 564.88,148.67 566.38,148.65 567.88,148.63 569.38,148.60 570.88,148.56 571.28,148.54 571.68,148.52 572.08,148.51 572.48,148.49 572.88,148.46 573.28,148.44 573.68,148.41 574.08,148.38 574.48,148.35 574.88,148.31 575.28,148.27 575.68,148.22 576.08,148.17 576.48,148.12 576.88,148.05 577.28,147.99 577.68,147.91 578.08,147.82 578.48,147.73 578.88,147.62 579.28,147.51 579.68,147.38 580.08,147.23 580.48,147.07 580.88,146.89 581.28,146.69 581.68,146.47 582.08,146.22 582.48,145.94 582.88,145.64 583.28,145.29 583.68,144.91 584.08,144.47 584.48,143.99 584.88,143.45 585.28,142.85 585.68,142.17 586.08,141.41 586.48,140.56 586.88,139.60 587.28,138.53 587.68,137.32 588.08,135.95 588.48,134.41 588.88,132.68 589.28,130.71 589.68,128.50 590.08,125.99 590.48,123.16 590.88,119.96 590.98,119.10 591.08,118.22 591.18,117.31 591.28,116.37 591.38,115.41 591.48,114.42 591.58,113.41 591.68,112.37 591.78,111.31 591.88,110.23 591.98,109.13 592.08,108.01 592.18,106.89 592.28,105.76 592.38,104.63 592.48,103.51 592.58,102.42 592.68,101.37 592.78,100.38 592.88,99.46 592.98,98.65 593.08,97.98 593.18,97.46 593.28,97.15 593.34,97.09 593.38,97.11 593.48,97.34 593.58,97.82 593.68,98.55 593.78,99.54 593.88,100.76 593.98,102.22 594.08,103.91 594.18,105.83 594.28,107.95 594.38,110.28 594.48,112.81 594.58,115.51 594.68,118.38 594.78,121.41 594.88,124.58 594.98,127.88 595.08,131.28 595.18,134.78 595.28,138.36 595.38,142.00 595.48,145.69 595.58,149.40 595.68,153.13 595.78,156.84 595.88,160.54 595.98,164.19 596.08,167.78 596.18,171.30 596.28,174.72 596.38,178.04 596.48,181.24 596.58,184.29 596.68,187.20 596.78,189.93 596.88,192.49 596.98,194.86 597.08,197.03 597.18,198.99 597.28,200.72 597.38,202.23 597.48,203.50 597.58,204.53 597.68,205.31 597.78,205.84 597.88,206.12 597.94,206.16 597.98,205.53 598.08,203.37 598.18,200.98 598.28,198.54 598.38,196.13 598.48,193.80 598.58,191.57 598.68,189.46 598.78,187.48 598.88,185.62 598.98,183.87 599.08,182.24 599.18,180.72 599.28,179.29 599.38,177.95 599.48,176.70 599.58,175.53 599.68,174.43 599.78,173.39 599.88,172.42 599.98,171.50 600.08,170.63 600.18,169.81 600.28,169.04 600.38,168.30 600.48,167.60 600.58,166.94 600.68,166.32 601.08,164.09 601.48,162.24 601.88,160.69 602.28,159.37 602.68,158.25 603.08,157.27 603.48,156.42 603.88,155.68 604.28,155.03 604.68,154.46 605.08,153.95 605.48,153.49 605.88,153.09 606.28,152.72 606.68,152.40 607.08,152.10 607.48,151.84 607.88,151.59 608.28,151.38 608.68,151.18 609.08,150.99 609.48,150.83 609.88,150.68 610.28,150.54 610.68,150.41 611.08,150.29 611.48,150.19 611.88,150.09 612.28,149.99 612.68,149.91 613.08,149.83 613.48,149.76 613.88,149.69 614.28,149.63 614.68,149.57 615.08,149.52 615.48,149.47 615.88,149.42 616.28,149.38 616.68,149.34 617.08,149.30 617.48,149.27 617.88,149.23 618.28,149.20 618.68,149.18 619.08,149.15 619.48,149.12 619.88,149.10 620.28,149.08 620.68,149.06 622.18,148.99 623.68,148.94 625.18,148.90 626.68,148.86 628.18,148.83 629.68,148.81 631.18,148.79 632.68,148.78 634.18,148.77 635.68,148.75 637.18,148.75 638.68,148.74 640.18,148.73 641.68,148.73 643.18,148.72 644.68,148.72 646.18,148.72 647.68,148.72 649.18,148.71 650.68,148.71 652.18,148.71 653.68,148.71 655.18,148.71 656.68,148.71 658.18,148.71 659.68,148.70 661.18,148.70 662.68,148.70 664.18,148.70 665.68,148.70 667.18,148.70 668.68,148.70 670.18,148.70 671.68,148.70 673.18,148.70 674.68,148.70 676.18,148.70 677.68,148.70 679.18,148.70 680.68,148.70 682.18,148.70 683.68,148.70 685.18,148.70 686.68,148.70 688.18,148.70 689.68,148.70 691.18,148.70 692.68,148.70 694.18,148.70 695.68,148.70 697.18,148.70 698.68,148.70 700.18,148.70 701.68,148.70 703.18,148.70 704.68,148.70 706.18,148.70 707.68,148.69 709.18,148.69 710.68,148.69 712.18,148.68 713.68,148.68 715.18,148.67 716.68,148.65 718.18,148.63 719.68,148.61 721.18,148.56 721.58,148.55 721.98,148.53 722.38,148.52 722.78,148.50 723.18,148.48 723.58,148.45 723.98,148.43 724.38,148.40 724.78,148.37 725.18,148.33 725.58,148.29 725.98,148.25 726.38,148.20 726.78,148.15 727.18,148.09 727.58,148.03 727.98,147.95 728.38,147.87 728.78,147.78 729.18,147.68 729.58,147.57 729.98,147.45 730.38,147.31 730.78,147.16 731.18,146.99 731.58,146.81 731.98,146.60 732.38,146.36 732.78,146.10 733.18,145.81 733.58,145.49 733.98,145.13 734.38,144.72 734.78,144.27 735.18,143.76 735.58,143.20 735.98,142.56 736.38,141.85 736.78,141.05 737.18,140.15 737.58,139.14 737.98,138.01 738.38,136.73 738.78,135.30 739.18,133.67 739.58,131.84 739.98,129.77 740.38,127.43 740.78,124.79 741.18,121.80 741.28,120.99 741.38,120.16 741.48,119.31 741.58,118.43 741.68,117.53 741.78,116.59 741.88,115.64 741.98,114.66 742.08,113.65 742.18,112.62 742.28,111.56 742.38,110.49 742.48,109.39 742.58,108.28 742.68,107.16 742.78,106.03 742.88,104.90 742.98,103.78 743.08,102.68 743.18,101.62 743.28,100.61 743.38,99.67 743.48,98.83 743.58,98.12 743.68,97.57 743.78,97.21 743.86,97.09 743.88,97.09 743.98,97.26 744.08,97.68 744.18,98.36 744.28,99.28 744.38,100.45 744.48,101.85 744.58,103.49 744.68,105.35 744.78,107.43 744.88,109.71 744.98,112.19 745.08,114.85 745.18,117.69 745.28,120.68 745.38,123.82 745.48,127.08 745.58,130.46 745.68,133.94 745.78,137.50 745.79,138.08" fill="none" stroke="#151515" stroke-width="2.00" stroke-linejoin="round"/>
<path d="M482.38,148.70 483.88,148.70 485.38,148.70 486.88,148.70 488.38,148.70 489.88,148.70 491.38,148.70 492.88,148.70 494.38,148.70 495.88,148.70 497.38,148.70 498.88,148.70 500.38,148.70 501.88,148.70 503.38,148.70 504.88,148.70 506.38,148.70 507.88,148.70 509.38,148.70 510.88,148.70 512.38,148.70 513.88,148.70 515.38,148.70 516.88,148.70 518.38,148.70 519.88,148.70 521.38,148.70 522.88,148.70 524.38,148.70 525.88,148.70 527.38,148.70 528.88,148.70 530.38,148.70 531.88,148.69 533.38,148.69 534.88,148.69 536.38,148.68 537.88,148.67 539.38,148.66 540.88,148.63 541.28,148.63 541.68,148.62 542.08,148.61 542.48,148.60 542.88,148.58 543.28,148.57 543.68,148.55 544.08,148.54 544.48,148.52 544.88,148.49 545.28,148.47 545.68,148.44 546.08,148.41 546.48,148.37 546.88,148.33 547.28,148.29 547.68,148.23 548.08,148.18 548.48,148.11 548.88,148.04 549.28,147.95 549.68,147.86 550.08,147.75 550.48,147.63 550.88,147.49 551.28,147.34 551.68,147.17 552.08,146.97 552.48,146.75 552.88,146.49 553.28,146.20 553.68,145.88 554.08,145.51 554.48,145.09 554.88,144.61 555.28,144.06 555.68,143.44 556.08,142.73 556.48,141.92 556.88,141.00 557.28,139.94 557.68,138.74 558.08,137.35 558.48,135.76 558.88,133.94 559.28,131.84 559.68,129.42 560.08,126.63 560.48,123.41 560.58,122.53 560.68,121.62 560.78,120.67 560.88,119.69 560.98,118.67 561.08,117.62 561.18,116.52 561.28,115.39 561.38,114.22 561.48,113.00 561.58,111.74 561.68,110.43 561.78,109.08 561.88,107.68 561.98,106.24 562.08,104.76 562.18,103.23 562.28,101.65 562.38,100.04 562.48,98.40 562.58,96.73 562.68,95.05 562.78,93.36 562.88,91.70 562.98,90.09 563.08,88.56 563.18,87.17 563.28,85.95 563.38,84.98 563.48,84.33 563.57,84.11 563.58,84.11 563.68,84.52 563.78,85.58 563.88,87.28 563.98,89.61 564.08,92.54 564.18,96.05 564.28,100.09 564.38,104.64 564.48,109.65 564.58,115.06 564.68,120.84 564.78,126.91 564.88,133.23 564.98,139.73 565.08,146.36 565.18,153.04 565.28,159.71 565.38,166.31 565.48,172.77 565.58,179.03 565.68,185.04 565.78,190.73 565.88,196.05 565.98,200.95 566.08,205.38 566.18,209.29 566.28,212.66 566.38,215.45 566.48,217.62 566.58,219.17 566.68,220.07 566.77,220.32 566.78,220.08 566.88,216.97 566.98,213.36 567.08,209.70 567.18,206.13 567.28,202.75 567.38,199.57 567.48,196.63 567.58,193.91 567.68,191.40 567.78,189.08 567.88,186.95 567.98,184.98 568.08,183.15 568.18,181.47 568.28,179.90 568.38,178.44 568.48,177.09 568.58,175.82 568.68,174.64 568.78,173.53 568.88,172.49 568.98,171.51 569.08,170.59 569.18,169.72 569.28,168.90 569.38,168.13 569.48,167.40 569.58,166.70 569.68,166.04 569.78,165.42 569.88,164.83 569.98,164.26 570.08,163.72 570.18,163.21 570.58,161.38 570.98,159.85 571.38,158.56 571.78,157.46 572.18,156.51 572.58,155.69 572.98,154.98 573.38,154.35 573.78,153.81 574.18,153.32 574.58,152.90 574.98,152.52 575.38,152.18 575.78,151.87 576.18,151.60 576.58,151.36 576.98,151.14 577.38,150.94 577.78,150.76 578.18,150.60 578.58,150.45 578.98,150.31 579.38,150.19 579.78,150.08 580.18,149.98 580.58,149.88 580.98,149.80 581.38,149.72 581.78,149.65 582.18,149.58 582.58,149.52 582.98,149.47 583.38,149.41 583.78,149.37 584.18,149.32 584.58,149.28 584.98,149.24 585.38,149.21 585.78,149.17 586.18,149.14 586.58,149.12 586.98,149.09 587.38,149.07 587.78,149.04 588.18,149.02 588.58,149.00 588.98,148.99 589.38,148.97 589.78,148.95 590.18,148.94 591.68,148.89 593.18,148.85 594.68,148.82 596.18,148.80 597.68,148.78 599.18,148.77 600.68,148.75 602.18,148.75 603.68,148.74 605.18,148.73 606.68,148.73 608.18,148.72 609.68,148.72 611.18,148.72 612.68,148.71 614.18,148.71 615.68,148.71 617.18,148.71 618.68,148.71 620.18,148.71 621.68,148.70 623.18,148.70 624.68,148.70 626.18,148.70 627.68,148.70 629.18,148.70 630.68,148.70 632.18,148.70 633.68,148.70 635.18,148.70 636.68,148.70 638.18,148.70 639.68,148.70 641.18,148.70 642.68,148.70 644.18,148.70 645.68,148.70 647.18,148.70 648.68,148.70 650.18,148.70 651.68,148.70 653.18,148.69 654.68,148.69 656.18,148.68 657.68,148.68 659.18,148.66 660.68,148.64 661.08,148.64 661.48,148.63 661.88,148.62 662.28,148.61 662.68,148.60 663.08,148.59 663.48,148.58 663.88,148.56 664.28,148.55 664.68,148.53 665.08,148.51 665.48,148.48 665.88,148.46 666.28,148.43 666.68,148.39 667.08,148.35 667.48,148.31 667.88,148.26 668.28,148.21 668.68,148.15 669.08,148.08 669.48,148.00 669.88,147.91 670.28,147.81 670.68,147.70 671.08,147.57 671.48,147.43 671.88,147.26 672.28,147.08 672.68,146.87 673.08,146.63 673.48,146.37 673.88,146.06 674.28,145.72 674.68,145.32 675.08,144.88 675.48,144.37 675.88,143.79 676.28,143.13 676.68,142.38 677.08,141.52 677.48,140.54 677.88,139.42 678.28,138.13 678.68,136.66 679.08,134.97 679.48,133.03 679.88,130.79 680.28,128.21 680.68,125.23 680.78,124.42 680.88,123.58 680.98,122.70 681.08,121.80 681.18,120.86 681.28,119.88 681.38,118.87 681.48,117.82 681.58,116.74 681.68,115.61 681.78,114.44 681.88,113.23 681.98,111.98 682.08,110.68 682.18,109.34 682.28,107.95 682.38,106.52 682.48,105.04 682.58,103.52 682.68,101.96 682.78,100.35 682.88,98.71 682.98,97.05 683.08,95.37 683.18,93.68 683.28,92.02 683.38,90.39 683.48,88.85 683.58,87.42 683.68,86.16 683.78,85.14 683.88,84.43 683.98,84.11 683.99,84.11 684.08,84.39 684.18,85.33 684.28,86.91 684.38,89.12 684.48,91.94 684.58,95.33 684.68,99.28 684.78,103.74 684.88,108.66 684.98,114.00 685.08,119.71 685.18,125.73 685.28,132.01 685.38,138.48 685.48,145.09 685.58,151.76 685.68,158.44 685.78,165.06 685.88,171.55 685.98,177.86 686.08,183.92 686.18,189.68 686.28,195.07 686.38,200.05 686.48,204.57 686.58,208.59 686.68,212.06 686.78,214.96 686.88,217.25 686.98,218.92 687.08,219.95 687.18,220.32 687.19,220.32 687.28,217.62 687.38,214.06 687.48,210.39 687.58,206.80 687.68,203.37 687.78,200.16 687.88,197.17 687.98,194.41 688.08,191.86 688.18,189.51 688.28,187.34 688.38,185.34 688.48,183.49 688.58,181.78 688.68,180.19 688.78,178.71 688.88,177.34 688.98,176.06 689.08,174.86 689.18,173.73 689.28,172.68 689.38,171.69 689.48,170.76 689.58,169.88 689.68,169.05 689.78,168.27 689.88,167.53 689.98,166.83 690.08,166.17 690.18,165.54 690.28,164.94 690.38,164.37 690.48,163.82 690.58,163.31 690.68,162.81 691.08,161.05 691.48,159.58 691.88,158.32 692.28,157.26 692.68,156.34 693.08,155.54 693.48,154.85 693.88,154.24 694.28,153.70 694.68,153.23 695.08,152.81 695.48,152.44 695.88,152.11 696.28,151.82 696.68,151.55 697.08,151.31 697.48,151.10 697.88,150.90 698.28,150.73 698.68,150.57 699.08,150.42 699.48,150.29 699.88,150.17 700.28,150.06 700.68,149.96 701.08,149.87 701.48,149.78 701.88,149.71 702.28,149.63 702.68,149.57 703.08,149.51 703.48,149.45 703.88,149.40 704.28,149.36 704.68,149.31 705.08,149.27 705.48,149.24 705.88,149.20 706.28,149.17 706.68,149.14 707.08,149.11 707.48,149.09 707.88,149.06 708.28,149.04 708.68,149.02 709.08,149.00 709.48,148.98 709.88,148.96 710.28,148.95 710.68,148.93 712.18,148.89 713.68,148.85 715.18,148.82 716.68,148.80 718.18,148.78 719.68,148.77 721.18,148.75 722.68,148.74 724.18,148.74 725.68,148.73 727.18,148.73 728.68,148.72 730.18,148.72 731.68,148.71 733.18,148.71 734.68,148.71 736.18,148.71 737.68,148.71 739.18,148.71 740.68,148.71 742.18,148.70 743.68,148.70 745.18,148.70 745.79,148.70" fill="none" stroke="#ec8e2e" stroke-width="2.00" stroke-linejoin="round"/>
<path d="M482.38,148.70 483.88,148.70 485.38,148.70 486.88,148.70 488.38,148.70 489.88,148.70 491.38,148.70 492.88,148.70 494.38,148.70 495.88,148.70 497.38,148.70 498.88,148.70 500.38,148.70 501.88,148.70 503.38,148.70 504.88,148.70 506.38,148.70 507.88,148.70 509.38,148.70 510.88,148.70 512.38,148.70 513.88,148.70 515.38,148.70 516.88,148.69 518.38,148.69 519.88,148.68 521.38,148.67 521.78,148.66 522.18,148.66 522.58,148.65 522.98,148.65 523.38,148.64 523.78,148.63 524.18,148.62 524.58,148.61 524.98,148.60 525.38,148.59 525.78,148.57 526.18,148.55 526.58,148.53 526.98,148.51 527.38,148.48 527.78,148.45 528.18,148.41 528.58,148.37 528.98,148.33 529.38,148.28 529.78,148.22 530.18,148.15 530.58,148.07 530.98,147.98 531.38,147.87 531.78,147.75 532.18,147.62 532.58,147.46 532.98,147.28 533.38,147.07 533.78,146.83 534.18,146.56 534.58,146.24 534.98,145.87 535.38,145.45 535.78,144.96 536.18,144.39 536.58,143.74 536.98,142.98 537.38,142.09 537.78,141.07 538.18,139.88 538.58,138.50 538.98,136.88 539.38,135.00 539.78,132.79 540.18,130.21 540.58,127.18 540.68,126.34 540.78,125.47 540.88,124.56 540.98,123.61 541.08,122.63 541.18,121.60 541.28,120.53 541.38,119.41 541.48,118.25 541.58,117.04 541.68,115.77 541.78,114.45 541.88,113.08 541.98,111.65 542.08,110.16 542.18,108.60 542.28,106.99 542.38,105.30 542.48,103.54 542.58,101.72 542.68,99.82 542.78,97.85 542.88,95.81 542.98,93.70 543.08,91.52 543.18,89.29 543.28,87.02 543.38,84.72 543.48,82.42 543.58,80.16 543.68,78.01 543.78,76.02 543.88,74.31 543.98,72.99 544.08,72.21 544.13,72.08 544.18,72.24 544.28,73.53 544.38,76.09 544.48,79.86 544.58,84.81 544.68,90.84 544.78,97.86 544.88,105.76 544.98,114.41 545.08,123.69 545.18,133.44 545.28,143.51 545.38,153.74 545.48,163.97 545.58,174.04 545.68,183.78 545.78,193.06 545.88,201.71 545.98,209.60 546.08,216.62 546.18,222.64 546.28,227.57 546.38,231.34 546.48,233.88 546.58,235.16 546.63,235.32 546.68,233.43 546.78,228.54 546.88,223.37 546.98,218.33 547.08,213.59 547.18,209.20 547.28,205.20 547.38,201.55 547.48,198.24 547.58,195.23 547.68,192.48 547.78,189.97 547.88,187.68 547.98,185.57 548.08,183.64 548.18,181.85 548.28,180.19 548.38,178.66 548.48,177.23 548.58,175.90 548.68,174.66 548.78,173.50 548.88,172.42 548.98,171.40 549.08,170.44 549.18,169.54 549.28,168.69 549.38,167.89 549.48,167.13 549.58,166.41 549.68,165.73 549.78,165.09 549.88,164.48 549.98,163.90 550.08,163.34 550.18,162.82 550.28,162.32 550.38,161.84 550.78,160.14 551.18,158.72 551.58,157.51 551.98,156.49 552.38,155.61 552.78,154.86 553.18,154.20 553.58,153.63 553.98,153.13 554.38,152.69 554.78,152.30 555.18,151.96 555.58,151.65 555.98,151.38 556.38,151.14 556.78,150.92 557.18,150.73 557.58,150.55 557.98,150.39 558.38,150.25 558.78,150.12 559.18,150.01 559.58,149.90 559.98,149.81 560.38,149.72 560.78,149.64 561.18,149.57 561.58,149.50 561.98,149.44 562.38,149.39 562.78,149.34 563.18,149.29 563.58,149.25 563.98,149.21 564.38,149.17 564.78,149.14 565.18,149.11 565.58,149.08 565.98,149.05 566.38,149.03 566.78,149.01 567.18,148.99 567.58,148.97 567.98,148.95 568.38,148.93 568.78,148.92 569.18,148.91 569.58,148.89 569.98,148.88 570.38,148.87 571.88,148.83 573.38,148.81 574.88,148.78 576.38,148.77 577.88,148.75 579.38,148.74 580.88,148.74 582.38,148.73 583.88,148.72 585.38,148.72 586.88,148.72 588.38,148.71 589.88,148.71 591.38,148.71 592.88,148.71 594.38,148.71 595.88,148.71 597.38,148.70 598.88,148.70 600.38,148.70 601.88,148.70 603.38,148.70 604.88,148.70 606.38,148.70 607.88,148.70 609.38,148.70 610.88,148.70 612.38,148.70 613.88,148.70 615.38,148.70 616.88,148.69 618.38,148.69 619.88,148.68 621.38,148.67 621.78,148.67 622.18,148.66 622.58,148.66 622.98,148.65 623.38,148.65 623.78,148.64 624.18,148.63 624.58,148.62 624.98,148.61 625.38,148.60 625.78,148.58 626.18,148.57 626.58,148.55 626.98,148.53 627.38,148.50 627.78,148.48 628.18,148.45 628.58,148.41 628.98,148.37 629.38,148.32 629.78,148.27 630.18,148.21 630.58,148.14 630.98,148.06 631.38,147.97 631.78,147.86 632.18,147.74 632.58,147.60 632.98,147.44 633.38,147.25 633.78,147.04 634.18,146.80 634.58,146.52 634.98,146.19 635.38,145.82 635.78,145.39 636.18,144.89 636.58,144.31 636.98,143.64 637.38,142.87 637.78,141.97 638.18,140.93 638.58,139.72 638.98,138.31 639.38,136.66 639.78,134.74 640.18,132.49 640.58,129.85 640.98,126.76 641.08,125.90 641.18,125.01 641.28,124.08 641.38,123.12 641.48,122.11 641.58,121.06 641.68,119.97 641.78,118.83 641.88,117.64 641.98,116.40 642.08,115.11 642.18,113.76 642.28,112.36 642.38,110.90 642.48,109.38 642.58,107.79 642.68,106.14 642.78,104.42 642.88,102.62 642.98,100.76 643.08,98.83 643.18,96.82 643.28,94.74 643.38,92.60 643.48,90.40 643.58,88.14 643.68,85.85 643.78,83.55 643.88,81.27 643.98,79.05 644.08,76.97 644.18,75.12 644.28,73.59 644.38,72.52 644.48,72.08 644.48,72.08 644.58,72.74 644.68,74.67 644.78,77.86 644.88,82.23 644.98,87.74 645.08,94.28 645.18,101.77 645.28,110.07 645.38,119.06 645.48,128.59 645.58,138.52 645.68,148.70 645.78,158.95 645.88,169.11 645.98,179.04 646.08,188.56 646.18,197.54 646.28,205.82 646.38,213.28 646.48,219.80 646.58,225.28 646.68,229.64 646.78,232.79 646.88,234.69 646.98,235.32 646.98,235.30 647.08,231.02 647.18,225.91 647.28,220.78 647.38,215.88 647.48,211.31 647.58,207.12 647.68,203.30 647.78,199.83 647.88,196.67 647.98,193.80 648.08,191.18 648.18,188.78 648.28,186.59 648.38,184.57 648.48,182.71 648.58,180.99 648.68,179.40 648.78,177.92 648.88,176.55 648.98,175.26 649.08,174.07 649.18,172.94 649.28,171.89 649.38,170.90 649.48,169.98 649.58,169.10 649.68,168.28 649.78,167.50 649.88,166.76 649.98,166.06 650.08,165.40 650.18,164.77 650.28,164.18 650.38,163.61 650.48,163.07 650.58,162.56 650.68,162.07 651.08,160.33 651.48,158.88 651.88,157.65 652.28,156.61 652.68,155.71 653.08,154.94 653.48,154.28 653.88,153.69 654.28,153.19 654.68,152.74 655.08,152.34 655.48,152.00 655.88,151.69 656.28,151.41 656.68,151.17 657.08,150.95 657.48,150.75 657.88,150.57 658.28,150.41 658.68,150.27 659.08,150.14 659.48,150.02 659.88,149.92 660.28,149.82 660.68,149.73 661.08,149.65 661.48,149.58 661.88,149.51 662.28,149.45 662.68,149.39 663.08,149.34 663.48,149.30 663.88,149.25 664.28,149.21 664.68,149.18 665.08,149.14 665.48,149.11 665.88,149.08 666.28,149.06 666.68,149.03 667.08,149.01 667.48,148.99 667.88,148.97 668.28,148.95 668.68,148.94 669.08,148.92 669.48,148.91 669.88,148.89 670.28,148.88 670.68,148.87 672.18,148.83 673.68,148.81 675.18,148.78 676.68,148.77 678.18,148.75 679.68,148.74 681.18,148.74 682.68,148.73 684.18,148.72 685.68,148.72 687.18,148.72 688.68,148.71 690.18,148.71 691.68,148.71 693.18,148.71 694.68,148.71 696.18,148.71 697.68,148.70 699.18,148.70 700.68,148.70 702.18,148.70 703.68,148.70 705.18,148.70 706.68,148.70 708.18,148.70 709.68,148.70 711.18,148.70 712.68,148.70 714.18,148.70 715.68,148.70 717.18,148.69 718.68,148.69 720.18,148.68 721.68,148.67 722.08,148.67 722.48,148.66 722.88,148.66 723.28,148.65 723.68,148.65 724.08,148.64 724.48,148.63 724.88,148.62 725.28,148.61 725.68,148.60 726.08,148.59 726.48,148.57 726.88,148.55 727.28,148.53 727.68,148.51 728.08,148.48 728.48,148.45 728.88,148.41 729.28,148.37 729.68,148.33 730.08,148.28 730.48,148.22 730.88,148.15 731.28,148.07 731.68,147.98 732.08,147.87 732.48,147.75 732.88,147.62 733.28,147.46 733.68,147.28 734.08,147.07 734.48,146.83 734.88,146.55 735.28,146.24 735.68,145.87 736.08,145.44 736.48,144.95 736.88,144.39 737.28,143.73 737.68,142.97 738.08,142.09 738.48,141.07 738.88,139.88 739.28,138.49 739.68,136.88 740.08,134.99 740.48,132.78 740.88,130.20 741.28,127.16 741.38,126.33 741.48,125.45 741.58,124.54 741.68,123.60 741.78,122.61 741.88,121.58 741.98,120.51 742.08,119.39 742.18,118.23 742.28,117.02 742.38,115.75 742.48,114.43 742.58,113.06 742.68,111.63 742.78,110.13 742.88,108.58 742.98,106.96 743.08,105.27 743.18,103.52 743.28,101.69 743.38,99.79 743.48,97.82 743.58,95.78 743.68,93.66 743.78,91.49 743.88,89.26 743.98,86.98 744.08,84.68 744.18,82.38 744.28,80.13 744.38,77.97 744.48,76.00 744.58,74.29 744.68,72.98 744.78,72.20 744.83,72.08 744.88,72.25 744.98,73.56 745.08,76.14 745.18,79.93 745.28,84.89 745.38,90.94 745.48,97.97 745.58,105.89 745.68,114.56 745.78,123.84 745.79,125.37" fill="none" stroke="#84842a" stroke-width="2.00" stroke-linejoin="round"/>
<path d="M482.38,148.70 483.88,148.70 485.38,148.70 486.88,148.70 488.38,148.70 489.88,148.70 491.38,148.70 492.88,148.70 494.38,148.70 495.88,148.70 497.38,148.70 498.88,148.70 500.38,148.70 501.88,148.70 503.38,148.70 504.88,148.69 506.38,148.69 506.78,148.69 507.18,148.68 507.58,148.68 507.98,148.68 508.38,148.67 508.78,148.67 509.18,148.67 509.58,148.66 509.98,148.65 510.38,148.65 510.78,148.64 511.18,148.63 511.58,148.62 511.98,148.61 512.38,148.59 512.78,148.58 513.18,148.56 513.58,148.53 513.98,148.51 514.38,148.48 514.78,148.44 515.18,148.40 515.58,148.36 515.98,148.30 516.38,148.24 516.78,148.17 517.18,148.08 517.58,147.98 517.98,147.87 518.38,147.73 518.78,147.58 519.18,147.39 519.58,147.18 519.98,146.93 520.38,146.64 520.78,146.30 521.18,145.90 521.58,145.43 521.98,144.88 522.38,144.23 522.78,143.47 523.18,142.58 523.58,141.52 523.98,140.27 524.38,138.80 524.78,137.05 525.18,134.98 525.58,132.52 525.98,129.58 526.08,128.77 526.18,127.91 526.28,127.02 526.38,126.08 526.48,125.10 526.58,124.08 526.68,123.01 526.78,121.89 526.88,120.72 526.98,119.49 527.08,118.20 527.18,116.86 527.28,115.45 527.38,113.97 527.48,112.43 527.58,110.81 527.68,109.11 527.78,107.33 527.88,105.47 527.98,103.52 528.08,101.48 528.18,99.34 528.28,97.10 528.38,94.76 528.48,92.31 528.58,89.76 528.68,87.10 528.78,84.34 528.88,81.49 528.98,78.57 529.08,75.59 529.18,72.59 529.28,69.65 529.38,66.85 529.48,64.33 529.58,62.25 529.68,60.83 529.76,60.37 529.78,60.40 529.88,61.72 529.98,64.94 530.08,70.01 530.18,76.83 530.28,85.24 530.38,95.09 530.48,106.18 530.58,118.26 530.68,131.11 530.78,144.46 530.88,158.03 530.98,171.56 531.08,184.76 531.18,197.37 531.28,209.13 531.38,219.79 531.48,229.16 531.58,237.02 531.68,243.23 531.78,247.65 531.88,250.20 531.96,250.86 531.98,250.11 532.08,243.83 532.18,236.90 532.28,230.16 532.38,223.90 532.48,218.21 532.58,213.10 532.68,208.50 532.78,204.39 532.88,200.69 532.98,197.35 533.08,194.33 533.18,191.59 533.28,189.10 533.38,186.81 533.48,184.72 533.58,182.79 533.68,181.02 533.78,179.37 533.88,177.84 533.98,176.43 534.08,175.10 534.18,173.87 534.28,172.72 534.38,171.64 534.48,170.62 534.58,169.67 534.68,168.78 534.78,167.93 534.88,167.14 534.98,166.38 535.08,165.67 535.18,165.00 535.28,164.36 535.38,163.75 535.48,163.18 535.58,162.63 535.68,162.12 535.78,161.62 536.18,159.87 536.58,158.41 536.98,157.18 537.38,156.15 537.78,155.26 538.18,154.51 538.58,153.85 538.98,153.29 539.38,152.80 539.78,152.37 540.18,151.99 540.58,151.66 540.98,151.37 541.38,151.11 541.78,150.88 542.18,150.67 542.58,150.49 542.98,150.33 543.38,150.18 543.78,150.05 544.18,149.93 544.58,149.83 544.98,149.73 545.38,149.64 545.78,149.56 546.18,149.49 546.58,149.43 546.98,149.37 547.38,149.32 547.78,149.27 548.18,149.22 548.58,149.18 548.98,149.15 549.38,149.11 549.78,149.08 550.18,149.05 550.58,149.03 550.98,149.00 551.38,148.98 551.78,148.96 552.18,148.94 552.58,148.93 552.98,148.91 553.38,148.89 553.78,148.88 554.18,148.87 554.58,148.86 554.98,148.85 555.38,148.84 555.78,148.83 557.28,148.80 558.78,148.78 560.28,148.76 561.78,148.75 563.28,148.74 564.78,148.73 566.28,148.72 567.78,148.72 569.28,148.72 570.78,148.71 572.28,148.71 573.78,148.71 575.28,148.71 576.78,148.71 578.28,148.70 579.78,148.70 581.28,148.70 582.78,148.70 584.28,148.70 585.78,148.70 587.28,148.70 588.78,148.70 590.28,148.69 591.78,148.69 592.18,148.69 592.58,148.69 592.98,148.68 593.38,148.68 593.78,148.68 594.18,148.68 594.58,148.67 594.98,148.67 595.38,148.66 595.78,148.66 596.18,148.65 596.58,148.64 596.98,148.64 597.38,148.63 597.78,148.61 598.18,148.60 598.58,148.59 598.98,148.57 599.38,148.55 599.78,148.52 600.18,148.50 600.58,148.46 600.98,148.43 601.38,148.38 601.78,148.33 602.18,148.28 602.58,148.21 602.98,148.13 603.38,148.04 603.78,147.93 604.18,147.81 604.58,147.66 604.98,147.50 605.38,147.30 605.78,147.07 606.18,146.80 606.58,146.49 606.98,146.12 607.38,145.69 607.78,145.18 608.18,144.59 608.58,143.89 608.98,143.07 609.38,142.11 609.78,140.97 610.18,139.62 610.58,138.02 610.98,136.13 611.38,133.89 611.78,131.22 611.88,130.47 611.98,129.69 612.08,128.88 612.18,128.03 612.28,127.14 612.38,126.21 612.48,125.24 612.58,124.22 612.68,123.16 612.78,122.04 612.88,120.88 612.98,119.66 613.08,118.38 613.18,117.04 613.28,115.64 613.38,114.18 613.48,112.64 613.58,111.03 613.68,109.35 613.78,107.58 613.88,105.73 613.98,103.79 614.08,101.76 614.18,99.63 614.28,97.41 614.38,95.08 614.48,92.65 614.58,90.11 614.68,87.47 614.78,84.72 614.88,81.89 614.98,78.97 615.08,75.99 615.18,73.00 615.28,70.05 615.38,67.22 615.48,64.65 615.58,62.50 615.68,60.98 615.77,60.37 615.78,60.38 615.88,61.43 615.98,64.39 616.08,69.22 616.18,75.80 616.28,84.01 616.38,93.68 616.48,104.60 616.58,116.57 616.68,129.33 616.78,142.62 616.88,156.18 616.98,169.73 617.08,182.99 617.18,195.70 617.28,207.59 617.38,218.42 617.48,227.97 617.58,236.05 617.68,242.49 617.78,247.16 617.88,249.97 617.98,250.86 617.98,250.73 618.08,244.76 618.18,237.84 618.28,231.06 618.38,224.72 618.48,218.95 618.58,213.76 618.68,209.10 618.78,204.92 618.88,201.17 618.98,197.79 619.08,194.73 619.18,191.95 619.28,189.42 619.38,187.11 619.48,185.00 619.58,183.05 619.68,181.25 619.78,179.59 619.88,178.05 619.98,176.61 620.08,175.28 620.18,174.03 620.28,172.87 620.38,171.78 620.48,170.76 620.58,169.80 620.68,168.89 620.78,168.04 620.88,167.24 620.98,166.48 621.08,165.77 621.18,165.09 621.28,164.44 621.38,163.84 621.48,163.26 621.58,162.71 621.68,162.18 621.78,161.69 622.18,159.92 622.58,158.45 622.98,157.22 623.38,156.18 623.78,155.29 624.18,154.53 624.58,153.87 624.98,153.31 625.38,152.81 625.78,152.38 626.18,152.00 626.58,151.67 626.98,151.38 627.38,151.12 627.78,150.88 628.18,150.68 628.58,150.50 628.98,150.33 629.38,150.19 629.78,150.05 630.18,149.94 630.58,149.83 630.98,149.73 631.38,149.65 631.78,149.57 632.18,149.50 632.58,149.43 632.98,149.37 633.38,149.32 633.78,149.27 634.18,149.23 634.58,149.18 634.98,149.15 635.38,149.11 635.78,149.08 636.18,149.05 636.58,149.03 636.98,149.00 637.38,148.98 637.78,148.96 638.18,148.94 638.58,148.93 638.98,148.91 639.38,148.90 639.78,148.88 640.18,148.87 640.58,148.86 640.98,148.85 641.38,148.84 641.78,148.83 643.28,148.80 644.78,148.78 646.28,148.76 647.78,148.75 649.28,148.74 650.78,148.73 652.28,148.72 653.78,148.72 655.28,148.72 656.78,148.71 658.28,148.71 659.78,148.71 661.28,148.71 662.78,148.71 664.28,148.70 665.78,148.70 667.28,148.70 668.78,148.70 670.28,148.70 671.78,148.70 673.28,148.70 674.78,148.70 676.28,148.69 677.78,148.69 679.28,148.68 679.68,148.68 680.08,148.68 680.48,148.67 680.88,148.67 681.28,148.67 681.68,148.66 682.08,148.65 682.48,148.65 682.88,148.64 683.28,148.63 683.68,148.62 684.08,148.61 684.48,148.59 684.88,148.57 685.28,148.55 685.68,148.53 686.08,148.50 686.48,148.47 686.88,148.44 687.28,148.40 687.68,148.35 688.08,148.29 688.48,148.23 688.88,148.15 689.28,148.07 689.68,147.96 690.08,147.85 690.48,147.71 690.88,147.55 691.28,147.36 691.68,147.14 692.08,146.88 692.48,146.58 692.88,146.23 693.28,145.82 693.68,145.34 694.08,144.77 694.48,144.10 694.88,143.32 695.28,142.40 695.68,141.31 696.08,140.02 696.48,138.50 696.88,136.70 697.28,134.57 697.68,132.02 698.08,128.99 698.18,128.15 698.28,127.26 698.38,126.34 698.48,125.37 698.58,124.36 698.68,123.31 698.78,122.20 698.88,121.04 698.98,119.83 699.08,118.56 699.18,117.23 699.28,115.84 699.38,114.38 699.48,112.85 699.58,111.25 699.68,109.58 699.78,107.82 699.88,105.99 699.98,104.06 700.08,102.04 700.18,99.93 700.28,97.72 700.38,95.40 700.48,92.99 700.58,90.46 700.68,87.83 700.78,85.10 700.88,82.28 700.98,79.37 701.08,76.40 701.18,73.41 701.28,70.44 701.38,67.59 701.48,64.98 701.58,62.76 701.68,61.14 701.78,60.38 701.79,60.37 701.88,61.17 701.98,63.88 702.08,68.46 702.18,74.81 702.28,82.80 702.38,92.28 702.48,103.05 702.58,114.89 702.68,127.56 702.78,140.79 702.88,154.33 702.98,167.90 703.08,181.22 703.18,194.01 703.28,206.03 703.38,217.01 703.48,226.75 703.58,235.04 703.68,241.71 703.78,246.63 703.88,249.70 703.98,250.85 703.99,250.86 704.08,245.67 704.18,238.79 704.28,231.96 704.38,225.55 704.48,219.71 704.58,214.43 704.68,209.70 704.78,205.46 704.88,201.66 704.98,198.23 705.08,195.13 705.18,192.31 705.28,189.75 705.38,187.42 705.48,185.27 705.58,183.30 705.68,181.49 705.78,179.81 705.88,178.25 705.98,176.80 706.08,175.46 706.18,174.20 706.28,173.02 706.38,171.92 706.48,170.89 706.58,169.93 706.68,169.01 706.78,168.16 706.88,167.35 706.98,166.58 707.08,165.86 707.18,165.18 707.28,164.53 707.38,163.92 707.48,163.33 707.58,162.78 707.68,162.25 707.78,161.75 707.88,161.28 708.28,159.58 708.68,158.17 709.08,156.98 709.48,155.97 709.88,155.12 710.28,154.38 710.68,153.74 711.08,153.19 711.48,152.71 711.88,152.29 712.28,151.93 712.68,151.60 713.08,151.32 713.48,151.06 713.88,150.84 714.28,150.64 714.68,150.46 715.08,150.30 715.48,150.16 715.88,150.03 716.28,149.91 716.68,149.81 717.08,149.71 717.48,149.63 717.88,149.55 718.28,149.48 718.68,149.42 719.08,149.36 719.48,149.31 719.88,149.26 720.28,149.22 720.68,149.18 721.08,149.14 721.48,149.11 721.88,149.08 722.28,149.05 722.68,149.02 723.08,149.00 723.48,148.98 723.88,148.96 724.28,148.94 724.68,148.92 725.08,148.91 725.48,148.89 725.88,148.88 726.28,148.87 726.68,148.86 727.08,148.84 727.48,148.83 727.88,148.83 729.38,148.80 730.88,148.78 732.38,148.76 733.88,148.75 735.38,148.74 736.88,148.73 738.38,148.72 739.88,148.72 741.38,148.72 742.88,148.71 744.38,148.71 745.79,148.71" fill="none" stroke="#1a8159" stroke-width="2.00" stroke-linejoin="round"/>
<rect x="70.00" y="328.40" width="311.00" height="255.60" fill="none" stroke="#000" stroke-width="2.00"/>
<line x1="70.00" y1="584.00" x2="70.00" y2="579.00" stroke="#000" stroke-width="1.9"/>
<line x1="126.55" y1="584.00" x2="126.55" y2="579.00" stroke="#000" stroke-width="1.9"/>
<line x1="183.09" y1="584.00" x2="183.09" y2="579.00" stroke="#000" stroke-width="1.9"/>
<line x1="239.64" y1="584.00" x2="239.64" y2="579.00" stroke="#000" stroke-width="1.9"/>
<line x1="296.18" y1="584.00" x2="296.18" y2="579.00" stroke="#000" stroke-width="1.9"/>
<line x1="352.73" y1="584.00" x2="352.73" y2="579.00" stroke="#000" stroke-width="1.9"/>
<line x1="98.27" y1="584.00" x2="98.27" y2="581.00" stroke="#000" stroke-width="1.9"/>
<line x1="154.82" y1="584.00" x2="154.82" y2="581.00" stroke="#000" stroke-width="1.9"/>
<line x1="211.36" y1="584.00" x2="211.36" y2="581.00" stroke="#000" stroke-width="1.9"/>
<line x1="267.91" y1="584.00" x2="267.91" y2="581.00" stroke="#000" stroke-width="1.9"/>
<line x1="324.45" y1="584.00" x2="324.45" y2="581.00" stroke="#000" stroke-width="1.9"/>
<line x1="70.00" y1="584.00" x2="75.00" y2="584.00" stroke="#000" stroke-width="1.9"/>
<line x1="70.00" y1="541.40" x2="75.00" y2="541.40" stroke="#000" stroke-width="1.9"/>
<line x1="70.00" y1="498.80" x2="75.00" y2="498.80" stroke="#000" stroke-width="1.9"/>
<line x1="70.00" y1="456.20" x2="75.00" y2="456.20" stroke="#000" stroke-width="1.9"/>
<line x1="70.00" y1="413.60" x2="75.00" y2="413.60" stroke="#000" stroke-width="1.9"/>
<line x1="70.00" y1="371.00" x2="75.00" y2="371.00" stroke="#000" stroke-width="1.9"/>
<line x1="70.00" y1="328.40" x2="75.00" y2="328.40" stroke="#000" stroke-width="1.9"/>
<line x1="70.00" y1="562.70" x2="73.00" y2="562.70" stroke="#000" stroke-width="1.9"/>
<line x1="70.00" y1="520.10" x2="73.00" y2="520.10" stroke="#000" stroke-width="1.9"/>
<line x1="70.00" y1="477.50" x2="73.00" y2="477.50" stroke="#000" stroke-width="1.9"/>
<line x1="70.00" y1="434.90" x2="73.00" y2="434.90" stroke="#000" stroke-width="1.9"/>
<line x1="70.00" y1="392.30" x2="73.00" y2="392.30" stroke="#000" stroke-width="1.9"/>
<line x1="70.00" y1="349.70" x2="73.00" y2="349.70" stroke="#000" stroke-width="1.9"/>
<text x="70.00" y="598.60" class="tk" text-anchor="middle">0.0</text>
<text x="126.55" y="598.60" class="tk" text-anchor="middle">0.2</text>
<text x="183.09" y="598.60" class="tk" text-anchor="middle">0.4</text>
<text x="239.64" y="598.60" class="tk" text-anchor="middle">0.6</text>
<text x="296.18" y="598.60" class="tk" text-anchor="middle">0.8</text>
<text x="352.73" y="598.60" class="tk" text-anchor="middle">1.0</text>
<text x="64.50" y="586.90" class="tk" text-anchor="end">-120</text>
<text x="64.50" y="544.30" class="tk" text-anchor="end">-80</text>
<text x="64.50" y="501.70" class="tk" text-anchor="end">-40</text>
<text x="64.50" y="459.10" class="tk" text-anchor="end">0</text>
<text x="64.50" y="416.50" class="tk" text-anchor="end">40</text>
<text x="64.50" y="373.90" class="tk" text-anchor="end">80</text>
<text x="64.50" y="331.30" class="tk" text-anchor="end">120</text>
<path d="M112.41,456.20 113.91,456.20 115.41,456.20 116.91,456.20 118.41,456.20 119.91,456.20 121.41,456.20 122.91,456.20 124.41,456.20 125.91,456.20 127.41,456.20 128.91,456.20 130.41,456.20 131.91,456.19 133.41,456.19 133.81,456.19 134.21,456.19 134.61,456.18 135.01,456.18 135.41,456.18 135.81,456.18 136.21,456.17 136.61,456.17 137.01,456.16 137.41,456.16 137.81,456.15 138.21,456.15 138.61,456.14 139.01,456.13 139.41,456.12 139.81,456.11 140.21,456.09 140.61,456.08 141.01,456.06 141.41,456.04 141.81,456.01 142.21,455.98 142.61,455.95 143.01,455.91 143.41,455.86 143.81,455.81 144.21,455.75 144.61,455.68 145.01,455.60 145.41,455.51 145.81,455.40 146.21,455.27 146.61,455.12 147.01,454.95 147.41,454.75 147.81,454.51 148.21,454.24 148.61,453.92 149.01,453.54 149.41,453.10 149.81,452.58 150.21,451.98 150.61,451.26 151.01,450.42 151.41,449.42 151.81,448.24 152.21,446.84 152.61,445.18 152.71,444.72 152.81,444.23 152.91,443.73 153.01,443.20 153.11,442.64 153.21,442.06 153.31,441.46 153.41,440.82 153.51,440.16 153.61,439.46 153.71,438.73 153.81,437.97 153.91,437.17 154.01,436.33 154.11,435.45 154.21,434.52 154.31,433.56 154.41,432.54 154.51,431.48 154.61,430.36 154.71,429.19 154.81,427.96 154.91,426.67 155.01,425.33 155.11,423.92 155.21,422.47 155.31,420.97 155.41,419.43 155.51,417.91 155.61,416.44 155.71,415.12 155.81,414.11 155.91,413.61 155.92,413.60 156.01,413.84 156.11,414.72 156.21,416.21 156.31,418.30 156.41,420.96 156.51,424.15 156.61,427.82 156.71,431.93 156.81,436.40 156.91,441.17 157.01,446.18 157.11,451.35 157.21,456.61 157.31,461.88 157.41,467.08 157.51,472.14 157.61,476.98 157.71,481.53 157.81,485.73 157.91,489.51 158.01,492.83 158.11,495.62 158.21,497.86 158.31,499.50 158.41,500.53 158.51,500.93 158.52,500.93 158.61,499.59 158.71,497.26 158.81,494.72 158.91,492.23 159.01,489.90 159.11,487.76 159.21,485.80 159.31,484.02 159.41,482.38 159.51,480.89 159.61,479.52 159.71,478.26 159.81,477.09 159.91,476.01 160.01,475.01 160.11,474.08 160.21,473.21 160.31,472.40 160.41,471.64 160.51,470.92 160.61,470.26 160.71,469.63 160.81,469.03 160.91,468.48 161.01,467.95 161.11,467.45 161.21,466.98 161.31,466.53 161.41,466.11 161.51,465.71 161.61,465.33 161.71,464.97 161.81,464.62 161.91,464.30 162.01,463.98 162.11,463.69 162.21,463.40 162.31,463.13 162.71,462.17 163.11,461.36 163.51,460.68 163.91,460.10 164.31,459.61 164.71,459.19 165.11,458.83 165.51,458.52 165.91,458.25 166.31,458.01 166.71,457.81 167.11,457.63 167.51,457.47 167.91,457.33 168.31,457.21 168.71,457.10 169.11,457.01 169.51,456.92 169.91,456.85 170.31,456.78 170.71,456.72 171.11,456.67 171.51,456.63 171.91,456.58 172.31,456.55 172.71,456.51 173.11,456.48 173.51,456.46 173.91,456.43 174.31,456.41 174.71,456.39 175.11,456.37 175.51,456.36 175.91,456.34 176.31,456.33 176.71,456.32 177.11,456.31 177.51,456.30 177.91,456.29 178.31,456.28 178.71,456.28 179.11,456.27 179.51,456.26 179.91,456.26 180.31,456.25 180.71,456.25 181.11,456.24 181.51,456.24 181.91,456.24 182.31,456.23 183.81,456.22 185.31,456.22 186.81,456.21 188.31,456.21 189.81,456.21 191.31,456.21 192.81,456.20 194.31,456.20 195.81,456.20 197.31,456.20 198.81,456.20 200.31,456.20 201.81,456.20 203.31,456.20 204.81,456.20 206.31,456.20 207.81,456.20 209.31,456.20 210.81,456.20 212.31,456.20 213.81,456.20 215.31,456.20 216.81,456.20 218.31,456.20 219.81,456.19 220.21,456.19 220.61,456.19 221.01,456.19 221.41,456.19 221.81,456.19 222.21,456.18 222.61,456.18 223.01,456.18 223.41,456.18 223.81,456.17 224.21,456.17 224.61,456.16 225.01,456.16 225.41,456.15 225.81,456.14 226.21,456.14 226.61,456.13 227.01,456.12 227.41,456.10 227.81,456.09 228.21,456.07 228.61,456.05 229.01,456.03 229.41,456.00 229.81,455.97 230.21,455.94 230.61,455.90 231.01,455.85 231.41,455.80 231.81,455.74 232.21,455.66 232.61,455.58 233.01,455.48 233.41,455.37 233.81,455.24 234.21,455.08 234.61,454.90 235.01,454.69 235.41,454.45 235.81,454.16 236.21,453.83 236.61,453.44 237.01,452.98 237.41,452.45 237.81,451.81 238.21,451.07 238.61,450.19 239.01,449.16 239.41,447.93 239.81,446.47 239.91,446.07 240.01,445.64 240.11,445.20 240.21,444.74 240.31,444.25 240.41,443.75 240.51,443.22 240.61,442.67 240.71,442.09 240.81,441.48 240.91,440.85 241.01,440.18 241.11,439.49 241.21,438.76 241.31,438.00 241.41,437.20 241.51,436.36 241.61,435.48 241.71,434.56 241.81,433.60 241.91,432.58 242.01,431.52 242.11,430.41 242.21,429.24 242.31,428.01 242.41,426.73 242.51,425.38 242.61,423.98 242.71,422.53 242.81,421.03 242.91,419.50 243.01,417.97 243.11,416.49 243.21,415.17 243.31,414.14 243.41,413.62 243.43,413.60 243.51,413.82 243.61,414.67 243.71,416.14 243.81,418.21 243.91,420.84 244.01,424.01 244.11,427.67 244.21,431.75 244.31,436.21 244.41,440.97 244.51,445.97 244.61,451.14 244.71,456.40 244.81,461.67 244.91,466.87 245.01,471.93 245.11,476.78 245.21,481.35 245.31,485.56 245.41,489.37 245.51,492.70 245.61,495.52 245.71,497.78 245.81,499.45 245.91,500.50 246.01,500.92 246.03,500.93 246.11,499.68 246.21,497.36 246.31,494.82 246.41,492.33 246.51,490.00 246.61,487.84 246.71,485.88 246.81,484.09 246.91,482.45 247.01,480.95 247.11,479.57 247.21,478.31 247.31,477.14 247.41,476.05 247.51,475.05 247.61,474.11 247.71,473.24 247.81,472.43 247.91,471.67 248.01,470.95 248.11,470.28 248.21,469.65 248.31,469.06 248.41,468.50 248.51,467.97 248.61,467.47 248.71,467.00 248.81,466.55 248.91,466.13 249.01,465.73 249.11,465.34 249.21,464.98 249.31,464.64 249.41,464.31 249.51,464.00 249.61,463.70 249.71,463.41 249.81,463.14 250.21,462.18 250.61,461.37 251.01,460.69 251.41,460.11 251.81,459.62 252.21,459.20 252.61,458.83 253.01,458.52 253.41,458.25 253.81,458.01 254.21,457.81 254.61,457.63 255.01,457.47 255.41,457.33 255.81,457.21 256.21,457.10 256.61,457.01 257.01,456.92 257.41,456.85 257.81,456.78 258.21,456.73 258.61,456.67 259.01,456.63 259.41,456.58 259.81,456.55 260.21,456.51 260.61,456.48 261.01,456.46 261.41,456.43 261.81,456.41 262.21,456.39 262.61,456.37 263.01,456.36 263.41,456.34 263.81,456.33 264.21,456.32 264.61,456.31 265.01,456.30 265.41,456.29 265.81,456.28 266.21,456.28 266.61,456.27 267.01,456.26 267.41,456.26 267.81,456.25 268.21,456.25 268.61,456.24 269.01,456.24 269.41,456.24 269.81,456.23 271.31,456.22 272.81,456.22 274.31,456.21 275.81,456.21 277.31,456.21 278.81,456.21 280.31,456.20 281.81,456.20 283.31,456.20 284.81,456.20 286.31,456.20 287.81,456.20 289.31,456.20 290.81,456.20 292.31,456.20 293.81,456.20 295.31,456.20 296.81,456.20 298.31,456.20 299.81,456.20 301.31,456.20 302.81,456.20 304.31,456.20 305.81,456.20 307.31,456.19 307.71,456.19 308.11,456.19 308.51,456.19 308.91,456.19 309.31,456.19 309.71,456.18 310.11,456.18 310.51,456.18 310.91,456.18 311.31,456.17 311.71,456.17 312.11,456.16 312.51,456.16 312.91,456.15 313.31,456.14 313.71,456.14 314.11,456.13 314.51,456.12 314.91,456.10 315.31,456.09 315.71,456.07 316.11,456.05 316.51,456.03 316.91,456.00 317.31,455.97 317.71,455.94 318.11,455.90 318.51,455.85 318.91,455.80 319.31,455.74 319.71,455.66 320.11,455.58 320.51,455.48 320.91,455.37 321.31,455.24 321.71,455.08 322.11,454.90 322.51,454.70 322.91,454.45 323.31,454.17 323.71,453.84 324.11,453.45 324.51,452.99 324.91,452.45 325.31,451.82 325.71,451.08 326.11,450.20 326.51,449.17 326.91,447.94 327.31,446.49 327.41,446.08 327.51,445.66 327.61,445.22 327.71,444.76 327.81,444.27 327.91,443.77 328.01,443.24 328.11,442.69 328.21,442.11 328.31,441.51 328.41,440.87 328.51,440.21 328.61,439.52 328.71,438.79 328.81,438.03 328.91,437.23 329.01,436.40 329.11,435.52 329.21,434.60 329.31,433.64 329.41,432.63 329.51,431.57 329.61,430.45 329.71,429.29 329.81,428.06 329.91,426.78 330.01,425.44 330.11,424.04 330.21,422.59 330.31,421.09 330.41,419.56 330.51,418.03 330.61,416.55 330.71,415.22 330.81,414.18 330.91,413.62 330.93,413.60 331.01,413.80 331.11,414.62 331.21,416.07 331.31,418.11 331.41,420.72 331.51,423.87 331.61,427.51 331.71,431.58 331.81,436.02 331.91,440.77 332.01,445.77 332.11,450.93 332.21,456.18 332.31,461.45 332.41,466.66 332.51,471.73 332.61,476.59 332.71,481.17 332.81,485.40 332.91,489.22 333.01,492.57 333.11,495.41 333.21,497.70 333.31,499.39 333.41,500.47 333.51,500.92 333.53,500.93 333.61,499.76 333.71,497.46 333.81,494.93 333.91,492.43 334.01,490.09 334.11,487.93 334.21,485.96 334.31,484.16 334.41,482.51 334.51,481.01 334.61,479.63 334.71,478.36 334.81,477.18 334.91,476.10 335.01,475.09 335.11,474.15 335.21,473.28 335.31,472.46 335.41,471.70 335.51,470.98 335.61,470.31 335.71,469.68 335.81,469.08 335.91,468.52 336.01,467.99 336.11,467.49 336.21,467.02 336.31,466.57 336.41,466.14 336.51,465.74 336.61,465.36 336.71,465.00 336.81,464.65 336.91,464.32 337.01,464.01 337.11,463.71 337.21,463.43 337.31,463.15 337.71,462.19 338.11,461.38 338.51,460.69 338.91,460.12 339.31,459.62 339.71,459.20 340.11,458.84 340.51,458.52 340.91,458.25 341.31,458.02 341.71,457.81 342.11,457.63 342.51,457.47 342.91,457.33 343.31,457.21 343.71,457.10 344.11,457.01 344.51,456.93 344.91,456.85 345.31,456.78 345.71,456.73 346.11,456.67 346.51,456.63 346.91,456.59 347.31,456.55 347.71,456.51 348.11,456.48 348.51,456.46 348.91,456.43 349.31,456.41 349.71,456.39 350.11,456.37 350.51,456.36 350.91,456.34 351.31,456.33 351.71,456.32 352.11,456.31 352.51,456.30 352.73,456.29" fill="none" stroke="#c42a2c" stroke-width="2.00" stroke-linejoin="round"/>
<path d="M112.41,456.20 113.91,456.20 115.41,456.20 116.91,456.20 118.41,456.20 119.91,456.20 121.41,456.20 122.91,456.20 124.41,456.20 125.91,456.20 127.41,456.20 128.91,456.20 130.41,456.20 131.91,456.19 133.41,456.19 133.81,456.19 134.21,456.19 134.61,456.19 135.01,456.18 135.41,456.18 135.81,456.18 136.21,456.17 136.61,456.17 137.01,456.17 137.41,456.16 137.81,456.16 138.21,456.15 138.61,456.14 139.01,456.13 139.41,456.12 139.81,456.11 140.21,456.10 140.61,456.08 141.01,456.06 141.41,456.04 141.81,456.02 142.21,455.99 142.61,455.95 143.01,455.91 143.41,455.87 143.81,455.82 144.21,455.76 144.61,455.69 145.01,455.60 145.41,455.51 145.81,455.40 146.21,455.27 146.61,455.11 147.01,454.94 147.41,454.73 147.81,454.49 148.21,454.20 148.61,453.87 149.01,453.47 149.41,453.01 149.81,452.47 150.21,451.83 150.61,451.08 151.01,450.18 151.41,449.13 151.81,447.87 152.21,446.38 152.61,444.59 152.71,444.10 152.81,443.58 152.91,443.03 153.01,442.46 153.11,441.86 153.21,441.24 153.31,440.59 153.41,439.90 153.51,439.18 153.61,438.43 153.71,437.64 153.81,436.81 153.91,435.94 154.01,435.03 154.11,434.07 154.21,433.06 154.31,432.01 154.41,430.89 154.51,429.72 154.61,428.50 154.71,427.20 154.81,425.84 154.91,424.40 155.01,422.89 155.11,421.31 155.21,419.63 155.31,417.88 155.41,416.05 155.51,414.14 155.61,412.19 155.71,410.24 155.81,408.41 155.91,406.93 156.01,406.16 156.02,406.15 156.11,406.48 156.21,407.70 156.31,409.76 156.41,412.65 156.51,416.32 156.61,420.69 156.71,425.69 156.81,431.25 156.91,437.26 157.01,443.62 157.11,450.23 157.21,456.96 157.31,463.71 157.41,470.36 157.51,476.79 157.61,482.90 157.71,488.57 157.81,493.73 157.91,498.26 158.01,502.11 158.11,505.19 158.21,507.47 158.31,508.89 158.41,509.44 158.42,509.45 158.51,507.47 158.61,504.15 158.71,500.72 158.81,497.52 158.91,494.63 159.01,492.03 159.11,489.69 159.21,487.59 159.31,485.69 159.41,483.95 159.51,482.37 159.61,480.92 159.71,479.58 159.81,478.35 159.91,477.20 160.01,476.14 160.11,475.15 160.21,474.23 160.31,473.37 160.41,472.56 160.51,471.81 160.61,471.09 160.71,470.42 160.81,469.79 160.91,469.20 161.01,468.64 161.11,468.11 161.21,467.61 161.31,467.13 161.41,466.68 161.51,466.25 161.61,465.85 161.71,465.46 161.81,465.09 161.91,464.74 162.01,464.41 162.11,464.09 162.21,463.79 162.31,463.50 162.71,462.48 163.11,461.62 163.51,460.89 163.91,460.28 164.31,459.76 164.71,459.31 165.11,458.93 165.51,458.60 165.91,458.32 166.31,458.07 166.71,457.85 167.11,457.66 167.51,457.50 167.91,457.36 168.31,457.23 168.71,457.12 169.11,457.02 169.51,456.93 169.91,456.86 170.31,456.79 170.71,456.73 171.11,456.67 171.51,456.63 171.91,456.58 172.31,456.55 172.71,456.51 173.11,456.48 173.51,456.45 173.91,456.43 174.31,456.41 174.71,456.39 175.11,456.37 175.51,456.36 175.91,456.34 176.31,456.33 176.71,456.32 177.11,456.31 177.51,456.30 177.91,456.29 178.31,456.28 178.71,456.27 179.11,456.27 179.51,456.26 179.91,456.26 180.31,456.25 180.71,456.25 181.11,456.24 181.51,456.24 181.91,456.24 182.31,456.23 183.81,456.22 185.31,456.22 186.81,456.21 188.31,456.21 189.81,456.21 191.31,456.20 192.81,456.20 194.31,456.20 195.81,456.20 197.31,456.20 198.81,456.20 200.31,456.20 201.81,456.20 203.31,456.20 204.81,456.20 206.31,456.20 207.81,456.20 209.31,456.20 210.81,456.20 212.31,456.20 213.81,456.20 215.31,456.20 216.81,456.20 218.31,456.20 219.81,456.19 220.21,456.19 220.61,456.19 221.01,456.19 221.41,456.19 221.81,456.19 222.21,456.19 222.61,456.18 223.01,456.18 223.41,456.18 223.81,456.17 224.21,456.17 224.61,456.17 225.01,456.16 225.41,456.15 225.81,456.15 226.21,456.14 226.61,456.13 227.01,456.12 227.41,456.11 227.81,456.09 228.21,456.08 228.61,456.06 229.01,456.04 229.41,456.01 229.81,455.98 230.21,455.94 230.61,455.90 231.01,455.86 231.41,455.80 231.81,455.74 232.21,455.67 232.61,455.58 233.01,455.48 233.41,455.37 233.81,455.23 234.21,455.07 234.61,454.89 235.01,454.67 235.41,454.42 235.81,454.13 236.21,453.78 236.61,453.37 237.01,452.89 237.41,452.33 237.81,451.66 238.21,450.88 238.61,449.95 239.01,448.85 239.41,447.54 239.81,445.98 239.91,445.54 240.01,445.09 240.11,444.61 240.21,444.12 240.31,443.60 240.41,443.05 240.51,442.49 240.61,441.89 240.71,441.27 240.81,440.61 240.91,439.93 241.01,439.21 241.11,438.46 241.21,437.67 241.31,436.84 241.41,435.98 241.51,435.07 241.61,434.11 241.71,433.10 241.81,432.05 241.91,430.94 242.01,429.77 242.11,428.55 242.21,427.26 242.31,425.90 242.41,424.46 242.51,422.96 242.61,421.37 242.71,419.70 242.81,417.95 242.91,416.12 243.01,414.22 243.11,412.27 243.21,410.32 243.31,408.48 243.41,406.98 243.51,406.17 243.53,406.15 243.61,406.45 243.71,407.63 243.81,409.66 243.91,412.52 244.01,416.15 244.11,420.50 244.21,425.48 244.31,431.01 244.41,437.01 244.51,443.36 244.61,449.95 244.71,456.69 244.81,463.44 244.91,470.09 245.01,476.53 245.11,482.65 245.21,488.35 245.31,493.53 245.41,498.09 245.51,501.96 245.61,505.08 245.71,507.39 245.81,508.85 245.91,509.44 245.93,509.45 246.01,507.60 246.11,504.29 246.21,500.86 246.31,497.65 246.41,494.74 246.51,492.13 246.61,489.78 246.71,487.67 246.81,485.76 246.91,484.02 247.01,482.43 247.11,480.98 247.21,479.63 247.31,478.40 247.41,477.25 247.51,476.18 247.61,475.19 247.71,474.27 247.81,473.40 247.91,472.59 248.01,471.84 248.11,471.12 248.21,470.45 248.31,469.82 248.41,469.22 248.51,468.66 248.61,468.13 248.71,467.63 248.81,467.15 248.91,466.70 249.01,466.27 249.11,465.86 249.21,465.47 249.31,465.11 249.41,464.76 249.51,464.42 249.61,464.11 249.71,463.80 249.81,463.52 250.21,462.49 250.61,461.62 251.01,460.90 251.41,460.29 251.81,459.76 252.21,459.32 252.61,458.93 253.01,458.60 253.41,458.32 253.81,458.07 254.21,457.85 254.61,457.67 255.01,457.50 255.41,457.36 255.81,457.23 256.21,457.12 256.61,457.02 257.01,456.93 257.41,456.86 257.81,456.79 258.21,456.73 258.61,456.68 259.01,456.63 259.41,456.58 259.81,456.55 260.21,456.51 260.61,456.48 261.01,456.45 261.41,456.43 261.81,456.41 262.21,456.39 262.61,456.37 263.01,456.36 263.41,456.34 263.81,456.33 264.21,456.32 264.61,456.31 265.01,456.30 265.41,456.29 265.81,456.28 266.21,456.27 266.61,456.27 267.01,456.26 267.41,456.26 267.81,456.25 268.21,456.25 268.61,456.24 269.01,456.24 269.41,456.24 269.81,456.23 271.31,456.22 272.81,456.22 274.31,456.21 275.81,456.21 277.31,456.21 278.81,456.20 280.31,456.20 281.81,456.20 283.31,456.20 284.81,456.20 286.31,456.20 287.81,456.20 289.31,456.20 290.81,456.20 292.31,456.20 293.81,456.20 295.31,456.20 296.81,456.20 298.31,456.20 299.81,456.20 301.31,456.20 302.81,456.20 304.31,456.20 305.81,456.20 307.31,456.19 307.71,456.19 308.11,456.19 308.51,456.19 308.91,456.19 309.31,456.19 309.71,456.19 310.11,456.18 310.51,456.18 310.91,456.18 311.31,456.17 311.71,456.17 312.11,456.17 312.51,456.16 312.91,456.15 313.31,456.15 313.71,456.14 314.11,456.13 314.51,456.12 314.91,456.11 315.31,456.09 315.71,456.08 316.11,456.06 316.51,456.04 316.91,456.01 317.31,455.98 317.71,455.95 318.11,455.91 318.51,455.86 318.91,455.80 319.31,455.74 319.71,455.67 320.11,455.58 320.51,455.48 320.91,455.37 321.31,455.23 321.71,455.08 322.11,454.89 322.51,454.68 322.91,454.42 323.31,454.13 323.71,453.78 324.11,453.38 324.51,452.90 324.91,452.33 325.31,451.67 325.71,450.89 326.11,449.96 326.51,448.86 326.91,447.55 327.31,446.00 327.41,445.56 327.51,445.11 327.61,444.63 327.71,444.14 327.81,443.62 327.91,443.08 328.01,442.51 328.11,441.91 328.21,441.29 328.31,440.64 328.41,439.96 328.51,439.24 328.61,438.49 328.71,437.70 328.81,436.88 328.91,436.01 329.01,435.10 329.11,434.15 329.21,433.15 329.31,432.09 329.41,430.99 329.51,429.82 329.61,428.60 329.71,427.31 329.81,425.95 329.91,424.52 330.01,423.02 330.11,421.44 330.21,419.77 330.31,418.03 330.41,416.20 330.51,414.30 330.61,412.35 330.71,410.40 330.81,408.55 330.91,407.03 331.01,406.18 331.03,406.15 331.11,406.42 331.21,407.56 331.31,409.56 331.41,412.39 331.51,415.99 331.61,420.30 331.71,425.26 331.81,430.78 331.91,436.75 332.01,443.09 332.11,449.68 332.21,456.41 332.31,463.16 332.41,469.82 332.51,476.27 332.61,482.41 332.71,488.13 332.81,493.33 332.91,497.92 333.01,501.82 333.11,504.97 333.21,507.31 333.31,508.81 333.41,509.43 333.43,509.45 333.51,507.72 333.61,504.43 333.71,501.00 333.81,497.77 333.91,494.85 334.01,492.23 334.11,489.88 334.21,487.75 334.31,485.84 334.41,484.09 334.51,482.49 334.61,481.03 334.71,479.69 334.81,478.44 334.91,477.29 335.01,476.23 335.11,475.23 335.21,474.30 335.31,473.44 335.41,472.63 335.51,471.87 335.61,471.15 335.71,470.48 335.81,469.84 335.91,469.25 336.01,468.68 336.11,468.15 336.21,467.65 336.31,467.17 336.41,466.71 336.51,466.29 336.61,465.88 336.71,465.49 336.81,465.12 336.91,464.77 337.01,464.44 337.11,464.12 337.21,463.82 337.31,463.53 337.71,462.50 338.11,461.63 338.51,460.91 338.91,460.29 339.31,459.77 339.71,459.32 340.11,458.94 340.51,458.61 340.91,458.32 341.31,458.07 341.71,457.86 342.11,457.67 342.51,457.50 342.91,457.36 343.31,457.23 343.71,457.12 344.11,457.02 344.51,456.94 344.91,456.86 345.31,456.79 345.71,456.73 346.11,456.68 346.51,456.63 346.91,456.59 347.31,456.55 347.71,456.51 348.11,456.48 348.51,456.46 348.91,456.43 349.31,456.41 349.71,456.39 350.11,456.37 350.51,456.36 350.91,456.34 351.31,456.33 351.71,456.32 352.11,456.31 352.51,456.30 352.73,456.29" fill="none" stroke="#ec8e2e" stroke-width="2.00" stroke-linejoin="round"/>
<path d="M112.41,456.20 113.91,456.20 115.41,456.20 116.91,456.20 118.41,456.20 119.91,456.20 121.41,456.20 122.91,456.20 124.41,456.20 125.91,456.20 127.41,456.20 128.91,456.20 130.41,456.20 131.91,456.19 133.41,456.19 133.81,456.19 134.21,456.19 134.61,456.18 135.01,456.18 135.41,456.18 135.81,456.18 136.21,456.17 136.61,456.17 137.01,456.16 137.41,456.16 137.81,456.15 138.21,456.14 138.61,456.13 139.01,456.12 139.41,456.11 139.81,456.10 140.21,456.08 140.61,456.06 141.01,456.04 141.41,456.01 141.81,455.98 142.21,455.95 142.61,455.91 143.01,455.86 143.41,455.80 143.81,455.74 144.21,455.67 144.61,455.58 145.01,455.48 145.41,455.36 145.81,455.22 146.21,455.06 146.61,454.86 147.01,454.64 147.41,454.38 147.81,454.07 148.21,453.71 148.61,453.29 149.01,452.78 149.41,452.19 149.81,451.50 150.21,450.67 150.61,449.70 151.01,448.54 151.41,447.17 151.81,445.53 152.21,443.58 152.61,441.24 152.71,440.59 152.81,439.90 152.91,439.19 153.01,438.44 153.11,437.65 153.21,436.82 153.31,435.96 153.41,435.06 153.51,434.11 153.61,433.11 153.71,432.06 153.81,430.97 153.91,429.81 154.01,428.60 154.11,427.33 154.21,425.99 154.31,424.58 154.41,423.10 154.51,421.54 154.61,419.90 154.71,418.16 154.81,416.34 154.91,414.41 155.01,412.37 155.11,410.21 155.21,407.93 155.31,405.52 155.41,402.96 155.51,400.26 155.61,397.40 155.71,394.39 155.81,391.28 155.91,388.16 156.01,385.39 156.11,383.81 156.12,383.78 156.21,384.38 156.31,386.50 156.41,390.11 156.51,395.15 156.61,401.51 156.71,409.05 156.81,417.63 156.91,427.08 157.01,437.19 157.11,447.76 157.21,458.58 157.31,469.43 157.41,480.09 157.51,490.33 157.61,499.96 157.71,508.77 157.81,516.59 157.91,523.25 158.01,528.62 158.11,532.60 158.21,535.10 158.31,536.06 158.32,536.07 158.41,532.13 158.51,526.00 158.61,520.24 158.71,515.19 158.81,510.79 158.91,506.93 159.01,503.51 159.11,500.45 159.21,497.70 159.31,495.21 159.41,492.94 159.51,490.86 159.61,488.96 159.71,487.20 159.81,485.57 159.91,484.06 160.01,482.65 160.11,481.34 160.21,480.12 160.31,478.98 160.41,477.90 160.51,476.90 160.61,475.95 160.71,475.06 160.81,474.22 160.91,473.43 161.01,472.68 161.11,471.97 161.21,471.30 161.31,470.67 161.41,470.07 161.51,469.49 161.61,468.95 161.71,468.44 161.81,467.95 161.91,467.48 162.01,467.04 162.11,466.61 162.21,466.21 162.31,465.83 162.71,464.46 163.11,463.31 163.51,462.35 163.91,461.53 164.31,460.84 164.71,460.25 165.11,459.74 165.51,459.31 165.91,458.93 166.31,458.61 166.71,458.32 167.11,458.08 167.51,457.86 167.91,457.68 168.31,457.51 168.71,457.37 169.11,457.24 169.51,457.13 169.91,457.03 170.31,456.94 170.71,456.86 171.11,456.79 171.51,456.73 171.91,456.68 172.31,456.63 172.71,456.59 173.11,456.55 173.51,456.51 173.91,456.48 174.31,456.46 174.71,456.43 175.11,456.41 175.51,456.39 175.91,456.37 176.31,456.36 176.71,456.34 177.11,456.33 177.51,456.32 177.91,456.31 178.31,456.30 178.71,456.29 179.11,456.28 179.51,456.27 179.91,456.27 180.31,456.26 180.71,456.25 181.11,456.25 181.51,456.25 181.91,456.24 182.31,456.24 183.81,456.23 185.31,456.22 186.81,456.21 188.31,456.21 189.81,456.21 191.31,456.21 192.81,456.20 194.31,456.20 195.81,456.20 197.31,456.20 198.81,456.20 200.31,456.20 201.81,456.20 203.31,456.20 204.81,456.20 206.31,456.20 207.81,456.20 209.31,456.20 210.81,456.20 212.31,456.20 213.81,456.20 215.31,456.20 216.81,456.20 218.31,456.20 219.81,456.19 220.21,456.19 220.61,456.19 221.01,456.19 221.41,456.19 221.81,456.19 222.21,456.18 222.61,456.18 223.01,456.18 223.41,456.17 223.81,456.17 224.21,456.17 224.61,456.16 225.01,456.15 225.41,456.15 225.81,456.14 226.21,456.13 226.61,456.12 227.01,456.11 227.41,456.09 227.81,456.07 228.21,456.05 228.61,456.03 229.01,456.00 229.41,455.97 229.81,455.94 230.21,455.90 230.61,455.85 231.01,455.79 231.41,455.72 231.81,455.65 232.21,455.55 232.61,455.45 233.01,455.33 233.41,455.18 233.81,455.01 234.21,454.81 234.61,454.58 235.01,454.31 235.41,453.99 235.81,453.61 236.21,453.17 236.61,452.65 237.01,452.04 237.41,451.31 237.81,450.45 238.21,449.44 238.61,448.23 239.01,446.80 239.41,445.09 239.81,443.06 239.91,442.49 240.01,441.89 240.11,441.27 240.21,440.61 240.31,439.93 240.41,439.22 240.51,438.47 240.61,437.68 240.71,436.86 240.81,436.00 240.91,435.09 241.01,434.15 241.11,433.15 241.21,432.11 241.31,431.01 241.41,429.86 241.51,428.65 241.61,427.38 241.71,426.05 241.81,424.64 241.91,423.16 242.01,421.61 242.11,419.97 242.21,418.24 242.31,416.41 242.41,414.49 242.51,412.45 242.61,410.30 242.71,408.03 242.81,405.62 242.91,403.07 243.01,400.37 243.11,397.52 243.21,394.52 243.31,391.41 243.41,388.29 243.51,385.48 243.61,383.83 243.62,383.78 243.71,384.32 243.81,386.38 243.91,389.94 244.01,394.92 244.11,401.22 244.21,408.72 244.31,417.27 244.41,426.68 244.51,436.76 244.61,447.32 244.71,458.14 244.81,468.99 244.91,479.66 245.01,489.92 245.11,499.58 245.21,508.43 245.31,516.29 245.41,523.00 245.51,528.43 245.61,532.47 245.71,535.02 245.81,536.05 245.82,536.07 245.91,532.37 246.01,526.25 246.11,520.47 246.21,515.39 246.31,510.96 246.41,507.08 246.51,503.64 246.61,500.57 246.71,497.81 246.81,495.31 246.91,493.03 247.01,490.95 247.11,489.03 247.21,487.27 247.31,485.63 247.41,484.12 247.51,482.71 247.61,481.40 247.71,480.17 247.81,479.02 247.91,477.95 248.01,476.94 248.11,475.99 248.21,475.10 248.31,474.25 248.41,473.46 248.51,472.71 248.61,472.00 248.71,471.33 248.81,470.69 248.91,470.09 249.01,469.52 249.11,468.97 249.21,468.46 249.31,467.97 249.41,467.50 249.51,467.05 249.61,466.63 249.71,466.23 249.81,465.84 250.21,464.47 250.61,463.32 251.01,462.36 251.41,461.54 251.81,460.85 252.21,460.26 252.61,459.75 253.01,459.31 253.41,458.94 253.81,458.61 254.21,458.33 254.61,458.08 255.01,457.87 255.41,457.68 255.81,457.51 256.21,457.37 256.61,457.24 257.01,457.13 257.41,457.03 257.81,456.94 258.21,456.86 258.61,456.80 259.01,456.73 259.41,456.68 259.81,456.63 260.21,456.59 260.61,456.55 261.01,456.51 261.41,456.48 261.81,456.46 262.21,456.43 262.61,456.41 263.01,456.39 263.41,456.37 263.81,456.36 264.21,456.34 264.61,456.33 265.01,456.32 265.41,456.31 265.81,456.30 266.21,456.29 266.61,456.28 267.01,456.27 267.41,456.27 267.81,456.26 268.21,456.25 268.61,456.25 269.01,456.25 269.41,456.24 269.81,456.24 271.31,456.23 272.81,456.22 274.31,456.21 275.81,456.21 277.31,456.21 278.81,456.21 280.31,456.20 281.81,456.20 283.31,456.20 284.81,456.20 286.31,456.20 287.81,456.20 289.31,456.20 290.81,456.20 292.31,456.20 293.81,456.20 295.31,456.20 296.81,456.20 298.31,456.20 299.81,456.20 301.31,456.20 302.81,456.20 304.31,456.20 305.81,456.20 307.31,456.19 307.71,456.19 308.11,456.19 308.51,456.19 308.91,456.19 309.31,456.19 309.71,456.18 310.11,456.18 310.51,456.18 310.91,456.17 311.31,456.17 311.71,456.17 312.11,456.16 312.51,456.15 312.91,456.15 313.31,456.14 313.71,456.13 314.11,456.12 314.51,456.11 314.91,456.09 315.31,456.07 315.71,456.05 316.11,456.03 316.51,456.01 316.91,455.97 317.31,455.94 317.71,455.90 318.11,455.85 318.51,455.79 318.91,455.72 319.31,455.65 319.71,455.56 320.11,455.45 320.51,455.33 320.91,455.18 321.31,455.01 321.71,454.82 322.11,454.58 322.51,454.31 322.91,453.99 323.31,453.62 323.71,453.18 324.11,452.66 324.51,452.04 324.91,451.32 325.31,450.46 325.71,449.45 326.11,448.25 326.51,446.82 326.91,445.11 327.31,443.08 327.41,442.51 327.51,441.91 327.61,441.29 327.71,440.64 327.81,439.96 327.91,439.25 328.01,438.50 328.11,437.71 328.21,436.89 328.31,436.03 328.41,435.13 328.51,434.18 328.61,433.19 328.71,432.15 328.81,431.06 328.91,429.91 329.01,428.70 329.11,427.44 329.21,426.10 329.31,424.70 329.41,423.23 329.51,421.67 329.61,420.04 329.71,418.31 329.81,416.49 329.91,414.57 330.01,412.54 330.11,410.39 330.21,408.12 330.31,405.72 330.41,403.18 330.51,400.48 330.61,397.64 330.71,394.65 330.81,391.53 330.91,388.41 331.01,385.58 331.11,383.86 331.13,383.78 331.21,384.27 331.31,386.27 331.41,389.76 331.51,394.69 331.61,400.94 331.71,408.39 331.81,416.90 331.91,426.28 332.01,436.34 332.11,446.88 332.21,457.69 332.31,468.55 332.41,479.23 332.51,489.51 332.61,499.20 332.71,508.08 332.81,515.99 332.91,522.75 333.01,528.24 333.11,532.33 333.21,534.95 333.31,536.04 333.33,536.07 333.41,532.60 333.51,526.50 333.61,520.69 333.71,515.58 333.81,511.13 333.91,507.23 334.01,503.77 334.11,500.69 334.21,497.92 334.31,495.40 334.41,493.12 334.51,491.03 334.61,489.11 334.71,487.33 334.81,485.70 334.91,484.18 335.01,482.76 335.11,481.45 335.21,480.22 335.31,479.07 335.41,477.99 335.51,476.98 335.61,476.03 335.71,475.13 335.81,474.29 335.91,473.49 336.01,472.74 336.11,472.03 336.21,471.36 336.31,470.72 336.41,470.11 336.51,469.54 336.61,469.00 336.71,468.48 336.81,467.99 336.91,467.52 337.01,467.07 337.11,466.65 337.21,466.24 337.31,465.86 337.71,464.48 338.11,463.33 338.51,462.37 338.91,461.55 339.31,460.85 339.71,460.26 340.11,459.75 340.51,459.32 340.91,458.94 341.31,458.61 341.71,458.33 342.11,458.08 342.51,457.87 342.91,457.68 343.31,457.51 343.71,457.37 344.11,457.24 344.51,457.13 344.91,457.03 345.31,456.94 345.71,456.86 346.11,456.80 346.51,456.73 346.91,456.68 347.31,456.63 347.71,456.59 348.11,456.55 348.51,456.52 348.91,456.48 349.31,456.46 349.71,456.43 350.11,456.41 350.51,456.39 350.91,456.37 351.31,456.36 351.71,456.34 352.11,456.33 352.51,456.32 352.73,456.31" fill="none" stroke="#84842a" stroke-width="2.00" stroke-linejoin="round"/>
<path d="M112.41,456.20 113.91,456.20 115.41,456.20 116.91,456.20 118.41,456.20 119.91,456.20 121.41,456.20 122.91,456.20 124.41,456.20 125.91,456.20 127.41,456.20 128.91,456.20 130.41,456.20 131.91,456.19 133.41,456.19 133.81,456.18 134.21,456.18 134.61,456.18 135.01,456.18 135.41,456.17 135.81,456.17 136.21,456.16 136.61,456.16 137.01,456.15 137.41,456.14 137.81,456.14 138.21,456.13 138.61,456.12 139.01,456.10 139.41,456.09 139.81,456.07 140.21,456.05 140.61,456.02 141.01,456.00 141.41,455.96 141.81,455.93 142.21,455.88 142.61,455.83 143.01,455.77 143.41,455.70 143.81,455.62 144.21,455.53 144.61,455.42 145.01,455.29 145.41,455.14 145.81,454.97 146.21,454.76 146.61,454.52 147.01,454.24 147.41,453.91 147.81,453.53 148.21,453.08 148.61,452.54 149.01,451.91 149.41,451.17 149.81,450.30 150.21,449.27 150.61,448.04 151.01,446.59 151.41,444.87 151.81,442.82 152.21,440.37 152.61,437.45 152.71,436.63 152.81,435.77 152.91,434.87 153.01,433.93 153.11,432.95 153.21,431.91 153.31,430.83 153.41,429.70 153.51,428.51 153.61,427.26 153.71,425.95 153.81,424.58 153.91,423.13 154.01,421.61 154.11,420.02 154.21,418.34 154.31,416.58 154.41,414.72 154.51,412.77 154.61,410.71 154.71,408.53 154.81,406.24 154.91,403.82 155.01,401.26 155.11,398.55 155.21,395.68 155.31,392.63 155.41,389.40 155.51,385.97 155.61,382.32 155.71,378.44 155.81,374.34 155.91,370.11 156.01,366.09 156.11,363.60 156.12,363.55 156.21,364.32 156.31,367.10 156.41,371.83 156.51,378.42 156.61,386.73 156.71,396.59 156.81,407.82 156.91,420.16 157.01,433.39 157.11,447.21 157.21,461.36 157.31,475.55 157.41,489.49 157.51,502.88 157.61,515.47 157.71,526.99 157.81,537.22 157.91,545.93 158.01,552.96 158.11,558.16 158.21,561.42 158.31,562.68 158.32,562.70 158.41,556.88 158.51,548.50 158.61,541.07 158.71,534.72 158.81,529.23 158.91,524.43 159.01,520.17 159.11,516.35 159.21,512.89 159.31,509.75 159.41,506.88 159.51,504.24 159.61,501.80 159.71,499.54 159.81,497.44 159.91,495.48 160.01,493.65 160.11,491.94 160.21,490.34 160.31,488.83 160.41,487.41 160.51,486.07 160.61,484.81 160.71,483.62 160.81,482.49 160.91,481.42 161.01,480.41 161.11,479.45 161.21,478.54 161.31,477.67 161.41,476.85 161.51,476.06 161.61,475.31 161.71,474.60 161.81,473.92 161.91,473.27 162.01,472.65 162.11,472.05 162.21,471.48 162.31,470.94 162.71,468.99 163.11,467.34 163.51,465.94 163.91,464.74 164.31,463.71 164.71,462.82 165.11,462.05 165.51,461.39 165.91,460.80 166.31,460.29 166.71,459.85 167.11,459.46 167.51,459.11 167.91,458.80 168.31,458.53 168.71,458.30 169.11,458.08 169.51,457.89 169.91,457.73 170.31,457.58 170.71,457.44 171.11,457.32 171.51,457.22 171.91,457.12 172.31,457.03 172.71,456.96 173.11,456.89 173.51,456.82 173.91,456.77 174.31,456.72 174.71,456.67 175.11,456.63 175.51,456.59 175.91,456.56 176.31,456.52 176.71,456.50 177.11,456.47 177.51,456.45 177.91,456.43 178.31,456.41 178.71,456.39 179.11,456.37 179.51,456.36 179.91,456.35 180.31,456.33 180.71,456.32 181.11,456.31 181.51,456.30 181.91,456.30 182.31,456.29 183.81,456.26 185.31,456.25 186.81,456.24 188.31,456.23 189.81,456.22 191.31,456.21 192.81,456.21 194.31,456.21 195.81,456.21 197.31,456.20 198.81,456.20 200.31,456.20 201.81,456.20 203.31,456.20 204.81,456.20 206.31,456.20 207.81,456.20 209.31,456.20 210.81,456.20 212.31,456.20 213.81,456.20 215.31,456.20 216.81,456.20 218.31,456.19 219.81,456.19 220.21,456.19 220.61,456.19 221.01,456.19 221.41,456.18 221.81,456.18 222.21,456.18 222.61,456.18 223.01,456.17 223.41,456.17 223.81,456.16 224.21,456.16 224.61,456.15 225.01,456.14 225.41,456.13 225.81,456.12 226.21,456.11 226.61,456.10 227.01,456.08 227.41,456.06 227.81,456.04 228.21,456.02 228.61,455.99 229.01,455.95 229.41,455.92 229.81,455.87 230.21,455.82 230.61,455.76 231.01,455.68 231.41,455.60 231.81,455.50 232.21,455.39 232.61,455.26 233.01,455.10 233.41,454.92 233.81,454.71 234.21,454.46 234.61,454.17 235.01,453.83 235.41,453.43 235.81,452.96 236.21,452.40 236.61,451.75 237.01,450.98 237.41,450.07 237.81,448.99 238.21,447.72 238.61,446.21 239.01,444.41 239.41,442.27 239.81,439.72 239.91,439.01 240.01,438.26 240.11,437.48 240.21,436.66 240.31,435.80 240.41,434.91 240.51,433.97 240.61,432.99 240.71,431.96 240.81,430.88 240.91,429.75 241.01,428.56 241.11,427.31 241.21,426.01 241.31,424.63 241.41,423.19 241.51,421.68 241.61,420.09 241.71,418.41 241.81,416.65 241.91,414.80 242.01,412.85 242.11,410.79 242.21,408.62 242.31,406.34 242.41,403.92 242.51,401.36 242.61,398.66 242.71,395.80 242.81,392.76 242.91,389.54 243.01,386.11 243.11,382.47 243.21,378.60 243.31,374.51 243.41,370.28 243.51,366.24 243.61,363.64 243.62,363.55 243.71,364.25 243.81,366.95 243.91,371.60 244.01,378.11 244.11,386.36 244.21,396.16 244.31,407.33 244.41,419.64 244.51,432.83 244.61,446.64 244.71,460.78 244.81,474.97 244.91,488.92 245.01,502.35 245.11,514.98 245.21,526.55 245.31,536.83 245.41,545.60 245.51,552.70 245.61,557.98 245.71,561.33 245.81,562.67 245.82,562.70 245.91,557.22 246.01,548.82 246.11,541.35 246.21,534.96 246.31,529.44 246.41,524.61 246.51,520.33 246.61,516.49 246.71,513.03 246.81,509.88 246.91,506.99 247.01,504.34 247.11,501.89 247.21,499.63 247.31,497.52 247.41,495.56 247.51,493.72 247.61,492.01 247.71,490.40 247.81,488.89 247.91,487.47 248.01,486.13 248.11,484.86 248.21,483.67 248.31,482.54 248.41,481.47 248.51,480.45 248.61,479.49 248.71,478.57 248.81,477.71 248.91,476.88 249.01,476.09 249.11,475.34 249.21,474.63 249.31,473.94 249.41,473.29 249.51,472.67 249.61,472.08 249.71,471.51 249.81,470.96 250.21,469.01 250.61,467.36 251.01,465.95 251.41,464.75 251.81,463.72 252.21,462.83 252.61,462.06 253.01,461.39 253.41,460.81 253.81,460.30 254.21,459.85 254.61,459.46 255.01,459.11 255.41,458.81 255.81,458.54 256.21,458.30 256.61,458.09 257.01,457.90 257.41,457.73 257.81,457.58 258.21,457.44 258.61,457.32 259.01,457.22 259.41,457.12 259.81,457.03 260.21,456.96 260.61,456.89 261.01,456.82 261.41,456.77 261.81,456.72 262.21,456.67 262.61,456.63 263.01,456.59 263.41,456.56 263.81,456.52 264.21,456.50 264.61,456.47 265.01,456.45 265.41,456.43 265.81,456.41 266.21,456.39 266.61,456.37 267.01,456.36 267.41,456.35 267.81,456.33 268.21,456.32 268.61,456.31 269.01,456.30 269.41,456.30 269.81,456.29 271.31,456.26 272.81,456.25 274.31,456.24 275.81,456.23 277.31,456.22 278.81,456.21 280.31,456.21 281.81,456.21 283.31,456.21 284.81,456.20 286.31,456.20 287.81,456.20 289.31,456.20 290.81,456.20 292.31,456.20 293.81,456.20 295.31,456.20 296.81,456.20 298.31,456.20 299.81,456.20 301.31,456.20 302.81,456.20 304.31,456.20 305.81,456.19 307.31,456.19 307.71,456.19 308.11,456.19 308.51,456.19 308.91,456.18 309.31,456.18 309.71,456.18 310.11,456.18 310.51,456.17 310.91,456.17 311.31,456.16 311.71,456.16 312.11,456.15 312.51,456.14 312.91,456.13 313.31,456.12 313.71,456.11 314.11,456.10 314.51,456.08 314.91,456.06 315.31,456.04 315.71,456.02 316.11,455.99 316.51,455.96 316.91,455.92 317.31,455.87 317.71,455.82 318.11,455.76 318.51,455.69 318.91,455.60 319.31,455.50 319.71,455.39 320.11,455.26 320.51,455.10 320.91,454.92 321.31,454.71 321.71,454.46 322.11,454.17 322.51,453.83 322.91,453.43 323.31,452.96 323.71,452.41 324.11,451.75 324.51,450.99 324.91,450.08 325.31,449.00 325.71,447.73 326.11,446.23 326.51,444.43 326.91,442.30 327.31,439.75 327.41,439.04 327.51,438.29 327.61,437.51 327.71,436.69 327.81,435.84 327.91,434.95 328.01,434.01 328.11,433.03 328.21,432.00 328.31,430.92 328.41,429.79 328.51,428.61 328.61,427.36 328.71,426.06 328.81,424.69 328.91,423.25 329.01,421.74 329.11,420.15 329.21,418.48 329.31,416.73 329.41,414.88 329.51,412.93 329.61,410.88 329.71,408.72 329.81,406.43 329.91,404.02 330.01,401.47 330.11,398.77 330.21,395.92 330.31,392.89 330.41,389.67 330.51,386.26 330.61,382.62 330.71,378.76 330.81,374.69 330.91,370.46 331.01,366.39 331.11,363.68 331.13,363.55 331.21,364.19 331.31,366.80 331.41,371.37 331.51,377.81 331.61,385.99 331.71,395.73 331.81,406.85 331.91,419.12 332.01,432.28 332.11,446.07 332.21,460.20 332.31,474.40 332.41,488.36 332.51,501.81 332.61,514.48 332.71,526.10 332.81,536.43 332.91,545.28 333.01,552.45 333.11,557.80 333.21,561.23 333.31,562.66 333.33,562.70 333.41,557.57 333.51,549.15 333.61,541.63 333.71,535.20 333.81,529.65 333.91,524.80 334.01,520.50 334.11,516.64 334.21,513.16 334.31,510.00 334.41,507.10 334.51,504.44 334.61,501.99 334.71,499.71 334.81,497.60 334.91,495.63 335.01,493.80 335.11,492.08 335.21,490.46 335.31,488.95 335.41,487.52 335.51,486.18 335.61,484.91 335.71,483.72 335.81,482.58 335.91,481.51 336.01,480.49 336.11,479.53 336.21,478.61 336.31,477.74 336.41,476.91 336.51,476.12 336.61,475.37 336.71,474.65 336.81,473.97 336.91,473.32 337.01,472.69 337.11,472.10 337.21,471.53 337.31,470.99 337.71,469.03 338.11,467.37 338.51,465.97 338.91,464.76 339.31,463.73 339.71,462.84 340.11,462.07 340.51,461.40 340.91,460.81 341.31,460.30 341.71,459.86 342.11,459.46 342.51,459.12 342.91,458.81 343.31,458.54 343.71,458.30 344.11,458.09 344.51,457.90 344.91,457.73 345.31,457.58 345.71,457.45 346.11,457.33 346.51,457.22 346.91,457.12 347.31,457.03 347.71,456.96 348.11,456.89 348.51,456.82 348.91,456.77 349.31,456.72 349.71,456.67 350.11,456.63 350.51,456.59 350.91,456.56 351.31,456.52 351.71,456.50 352.11,456.47 352.51,456.45 352.73,456.44" fill="none" stroke="#1a8159" stroke-width="2.00" stroke-linejoin="round"/>
<rect x="460.50" y="328.90" width="314.80" height="257.60" fill="none" stroke="#000" stroke-width="2.00"/>
<line x1="460.50" y1="586.50" x2="460.50" y2="581.50" stroke="#000" stroke-width="1.9"/>
<line x1="517.74" y1="586.50" x2="517.74" y2="581.50" stroke="#000" stroke-width="1.9"/>
<line x1="574.97" y1="586.50" x2="574.97" y2="581.50" stroke="#000" stroke-width="1.9"/>
<line x1="632.21" y1="586.50" x2="632.21" y2="581.50" stroke="#000" stroke-width="1.9"/>
<line x1="689.45" y1="586.50" x2="689.45" y2="581.50" stroke="#000" stroke-width="1.9"/>
<line x1="746.68" y1="586.50" x2="746.68" y2="581.50" stroke="#000" stroke-width="1.9"/>
<line x1="489.12" y1="586.50" x2="489.12" y2="583.50" stroke="#000" stroke-width="1.9"/>
<line x1="546.35" y1="586.50" x2="546.35" y2="583.50" stroke="#000" stroke-width="1.9"/>
<line x1="603.59" y1="586.50" x2="603.59" y2="583.50" stroke="#000" stroke-width="1.9"/>
<line x1="660.83" y1="586.50" x2="660.83" y2="583.50" stroke="#000" stroke-width="1.9"/>
<line x1="718.06" y1="586.50" x2="718.06" y2="583.50" stroke="#000" stroke-width="1.9"/>
<line x1="460.50" y1="586.50" x2="465.50" y2="586.50" stroke="#000" stroke-width="1.9"/>
<line x1="460.50" y1="543.57" x2="465.50" y2="543.57" stroke="#000" stroke-width="1.9"/>
<line x1="460.50" y1="500.63" x2="465.50" y2="500.63" stroke="#000" stroke-width="1.9"/>
<line x1="460.50" y1="457.70" x2="465.50" y2="457.70" stroke="#000" stroke-width="1.9"/>
<line x1="460.50" y1="414.77" x2="465.50" y2="414.77" stroke="#000" stroke-width="1.9"/>
<line x1="460.50" y1="371.83" x2="465.50" y2="371.83" stroke="#000" stroke-width="1.9"/>
<line x1="460.50" y1="328.90" x2="465.50" y2="328.90" stroke="#000" stroke-width="1.9"/>
<line x1="460.50" y1="565.03" x2="463.50" y2="565.03" stroke="#000" stroke-width="1.9"/>
<line x1="460.50" y1="522.10" x2="463.50" y2="522.10" stroke="#000" stroke-width="1.9"/>
<line x1="460.50" y1="479.17" x2="463.50" y2="479.17" stroke="#000" stroke-width="1.9"/>
<line x1="460.50" y1="436.23" x2="463.50" y2="436.23" stroke="#000" stroke-width="1.9"/>
<line x1="460.50" y1="393.30" x2="463.50" y2="393.30" stroke="#000" stroke-width="1.9"/>
<line x1="460.50" y1="350.37" x2="463.50" y2="350.37" stroke="#000" stroke-width="1.9"/>
<text x="460.50" y="602.00" class="tk" text-anchor="middle">0.0</text>
<text x="517.74" y="602.00" class="tk" text-anchor="middle">0.2</text>
<text x="574.97" y="602.00" class="tk" text-anchor="middle">0.4</text>
<text x="632.21" y="602.00" class="tk" text-anchor="middle">0.6</text>
<text x="689.45" y="602.00" class="tk" text-anchor="middle">0.8</text>
<text x="746.68" y="602.00" class="tk" text-anchor="middle">1.0</text>
<text x="455.00" y="589.40" class="tk" text-anchor="end">-120</text>
<text x="455.00" y="546.47" class="tk" text-anchor="end">-80</text>
<text x="455.00" y="503.53" class="tk" text-anchor="end">-40</text>
<text x="455.00" y="460.60" class="tk" text-anchor="end">0</text>
<text x="455.00" y="417.67" class="tk" text-anchor="end">40</text>
<text x="455.00" y="374.73" class="tk" text-anchor="end">80</text>
<text x="455.00" y="331.80" class="tk" text-anchor="end">120</text>
<path d="M503.43,457.70 504.93,457.70 506.43,457.70 507.93,457.70 509.43,457.70 510.93,457.70 512.43,457.70 513.93,457.70 515.43,457.70 516.93,457.70 518.43,457.69 519.93,457.69 521.43,457.69 522.93,457.68 524.43,457.67 524.83,457.66 525.23,457.66 525.63,457.66 526.03,457.65 526.43,457.64 526.83,457.64 527.23,457.63 527.63,457.62 528.03,457.61 528.43,457.60 528.83,457.58 529.23,457.57 529.63,457.55 530.03,457.53 530.43,457.51 530.83,457.48 531.23,457.46 531.63,457.42 532.03,457.39 532.43,457.34 532.83,457.30 533.23,457.24 533.63,457.18 534.03,457.11 534.43,457.03 534.83,456.94 535.23,456.83 535.63,456.71 536.03,456.58 536.43,456.42 536.83,456.24 537.23,456.03 537.63,455.80 538.03,455.52 538.43,455.21 538.83,454.85 539.23,454.43 539.63,453.95 540.03,453.39 540.43,452.74 540.83,451.99 541.23,451.12 541.63,450.11 542.03,448.92 542.43,447.54 542.83,445.92 543.23,444.01 543.63,441.77 544.03,439.11 544.43,435.95 544.53,435.07 544.63,434.15 544.73,433.19 544.83,432.18 544.93,431.13 545.03,430.02 545.13,428.87 545.23,427.66 545.33,426.39 545.43,425.05 545.53,423.65 545.63,422.19 545.73,420.64 545.83,419.02 545.93,417.31 546.03,415.51 546.13,413.61 546.23,411.61 546.33,409.50 546.43,407.26 546.53,404.90 546.63,402.39 546.73,399.73 546.83,396.89 546.93,393.87 547.03,390.65 547.13,387.19 547.23,383.48 547.33,379.48 547.43,375.18 547.53,370.58 547.63,365.85 547.73,361.88 547.77,361.10 547.83,361.32 547.93,362.90 548.03,365.98 548.13,370.51 548.23,376.44 548.33,383.66 548.43,392.09 548.53,401.58 548.63,412.01 548.73,423.23 548.83,435.07 548.93,447.35 549.03,459.90 549.13,472.54 549.23,485.08 549.33,497.33 549.43,509.13 549.53,520.29 549.63,530.66 549.73,540.08 549.83,548.42 549.93,555.55 550.03,561.37 550.13,565.80 550.23,568.77 550.33,570.24 550.37,570.40 550.43,567.07 550.53,558.02 550.63,549.58 550.73,542.36 550.83,536.17 550.93,530.78 551.03,526.03 551.13,521.79 551.23,517.97 551.33,514.51 551.43,511.36 551.53,508.46 551.63,505.80 551.73,503.34 551.83,501.06 551.93,498.93 552.03,496.96 552.13,495.11 552.23,493.38 552.33,491.76 552.43,490.23 552.53,488.80 552.63,487.45 552.73,486.17 552.83,484.97 552.93,483.83 553.03,482.75 553.13,481.73 553.23,480.76 553.33,479.84 553.43,478.96 553.53,478.13 553.63,477.34 553.73,476.58 553.83,475.87 553.93,475.18 554.03,474.53 554.13,473.90 554.53,471.67 554.93,469.80 555.33,468.22 555.73,466.88 556.13,465.74 556.53,464.75 556.93,463.91 557.33,463.17 557.73,462.54 558.13,461.99 558.53,461.50 558.93,461.08 559.33,460.71 559.73,460.39 560.13,460.10 560.53,459.85 560.93,459.62 561.33,459.42 561.73,459.25 562.13,459.09 562.53,458.95 562.93,458.83 563.33,458.72 563.73,458.62 564.13,458.53 564.53,458.45 564.93,458.38 565.33,458.31 565.73,458.26 566.13,458.21 566.53,458.16 566.93,458.12 567.33,458.08 567.73,458.04 568.13,458.01 568.53,457.99 568.93,457.96 569.33,457.94 569.73,457.92 570.13,457.90 570.53,457.88 570.93,457.87 571.33,457.85 571.73,457.84 572.13,457.83 572.53,457.82 572.93,457.81 573.33,457.80 573.73,457.79 574.13,457.78 575.63,457.76 577.13,457.74 578.63,457.73 580.13,457.72 581.63,457.72 583.13,457.71 584.63,457.71 586.13,457.71 587.63,457.71 589.13,457.70 590.63,457.70 592.13,457.70 593.63,457.70 595.13,457.70 596.63,457.70 598.13,457.70 599.63,457.70 601.13,457.70 602.63,457.70 604.13,457.70 605.63,457.70 607.13,457.69 608.63,457.69 610.13,457.69 611.63,457.68 613.13,457.67 613.53,457.66 613.93,457.66 614.33,457.65 614.73,457.65 615.13,457.64 615.53,457.63 615.93,457.63 616.33,457.62 616.73,457.61 617.13,457.59 617.53,457.58 617.93,457.57 618.33,457.55 618.73,457.53 619.13,457.51 619.53,457.48 619.93,457.45 620.33,457.42 620.73,457.38 621.13,457.34 621.53,457.29 621.93,457.23 622.33,457.17 622.73,457.10 623.13,457.02 623.53,456.92 623.93,456.81 624.33,456.69 624.73,456.55 625.13,456.39 625.53,456.21 625.93,455.99 626.33,455.75 626.73,455.47 627.13,455.15 627.53,454.78 627.93,454.35 628.33,453.86 628.73,453.28 629.13,452.62 629.53,451.85 629.93,450.96 630.33,449.92 630.73,448.70 631.13,447.28 631.53,445.61 631.93,443.65 632.33,441.34 632.73,438.60 632.83,437.84 632.93,437.04 633.03,436.21 633.13,435.34 633.23,434.43 633.33,433.49 633.43,432.49 633.53,431.45 633.63,430.37 633.73,429.23 633.83,428.03 633.93,426.78 634.03,425.47 634.13,424.09 634.23,422.64 634.33,421.12 634.43,419.52 634.53,417.84 634.63,416.07 634.73,414.20 634.83,412.24 634.93,410.16 635.03,407.96 635.13,405.64 635.23,403.17 635.33,400.56 635.43,397.78 635.53,394.82 635.63,391.65 635.73,388.27 635.83,384.64 635.93,380.73 636.03,376.52 636.13,372.01 636.23,367.28 636.33,362.89 636.40,361.10 636.43,361.14 636.53,362.26 636.63,364.88 636.73,368.98 636.83,374.49 636.93,381.33 637.03,389.40 637.13,398.58 637.23,408.74 637.33,419.74 637.43,431.40 637.53,443.57 637.63,456.05 637.73,468.69 637.83,481.27 637.93,493.63 638.03,505.59 638.13,516.96 638.23,527.59 638.33,537.32 638.43,546.00 638.53,553.51 638.63,559.74 638.73,564.60 638.83,568.02 638.93,569.95 639.00,570.40 639.03,569.34 639.13,560.81 639.23,552.02 639.33,544.44 639.43,537.97 639.53,532.35 639.63,527.42 639.73,523.03 639.83,519.09 639.93,515.53 640.03,512.29 640.13,509.32 640.23,506.59 640.33,504.07 640.43,501.73 640.53,499.57 640.63,497.55 640.73,495.66 640.83,493.89 640.93,492.24 641.03,490.69 641.13,489.23 641.23,487.85 641.33,486.55 641.43,485.33 641.53,484.17 641.63,483.07 641.73,482.03 641.83,481.05 641.93,480.11 642.03,479.22 642.13,478.38 642.23,477.57 642.33,476.81 642.43,476.08 642.53,475.39 642.63,474.72 642.73,474.09 643.13,471.83 643.53,469.93 643.93,468.33 644.33,466.98 644.73,465.82 645.13,464.82 645.53,463.97 645.93,463.23 646.33,462.58 646.73,462.02 647.13,461.54 647.53,461.11 647.93,460.74 648.33,460.41 648.73,460.12 649.13,459.86 649.53,459.64 649.93,459.44 650.33,459.26 650.73,459.10 651.13,458.96 651.53,458.84 651.93,458.72 652.33,458.62 652.73,458.54 653.13,458.46 653.53,458.38 653.93,458.32 654.33,458.26 654.73,458.21 655.13,458.16 655.53,458.12 655.93,458.08 656.33,458.05 656.73,458.02 657.13,457.99 657.53,457.96 657.93,457.94 658.33,457.92 658.73,457.90 659.13,457.88 659.53,457.87 659.93,457.85 660.33,457.84 660.73,457.83 661.13,457.82 661.53,457.81 661.93,457.80 662.33,457.79 662.73,457.78 664.23,457.76 665.73,457.74 667.23,457.73 668.73,457.72 670.23,457.72 671.73,457.71 673.23,457.71 674.73,457.71 676.23,457.71 677.73,457.70 679.23,457.70 680.73,457.70 682.23,457.70 683.73,457.70 685.23,457.70 686.73,457.70 688.23,457.70 689.73,457.70 691.23,457.70 692.73,457.70 694.23,457.70 695.73,457.69 697.23,457.69 698.73,457.69 700.23,457.68 701.73,457.67 702.13,457.66 702.53,457.66 702.93,457.65 703.33,457.65 703.73,457.64 704.13,457.64 704.53,457.63 704.93,457.62 705.33,457.61 705.73,457.60 706.13,457.58 706.53,457.57 706.93,457.55 707.33,457.53 707.73,457.51 708.13,457.48 708.53,457.45 708.93,457.42 709.33,457.38 709.73,457.34 710.13,457.29 710.53,457.24 710.93,457.17 711.33,457.10 711.73,457.02 712.13,456.93 712.53,456.82 712.93,456.70 713.33,456.56 713.73,456.40 714.13,456.22 714.53,456.01 714.93,455.77 715.33,455.49 715.73,455.18 716.13,454.81 716.53,454.39 716.93,453.90 717.33,453.33 717.73,452.68 718.13,451.91 718.53,451.03 718.93,450.00 719.33,448.80 719.73,447.39 720.13,445.75 720.53,443.81 720.93,441.53 721.33,438.82 721.73,435.61 721.83,434.72 721.93,433.78 722.03,432.80 722.13,431.78 722.23,430.70 722.33,429.58 722.43,428.40 722.53,427.17 722.63,425.87 722.73,424.52 722.83,423.09 722.93,421.59 723.03,420.02 723.13,418.36 723.23,416.62 723.33,414.78 723.43,412.85 723.53,410.80 723.63,408.64 723.73,406.36 723.83,403.94 723.93,401.37 724.03,398.64 724.13,395.74 724.23,392.64 724.33,389.33 724.43,385.77 724.53,381.95 724.63,377.84 724.73,373.42 724.83,368.73 724.93,364.11 725.03,361.13 725.03,361.10 725.13,361.76 725.23,363.92 725.33,367.58 725.43,372.66 725.53,379.10 725.63,386.81 725.73,395.67 725.83,405.55 725.93,416.30 726.03,427.78 726.13,439.81 726.23,452.22 726.33,464.83 726.43,477.45 726.53,489.90 726.63,502.00 726.73,513.57 726.83,524.44 726.93,534.45 727.03,543.47 727.13,551.35 727.23,557.98 727.33,563.27 727.43,567.13 727.53,569.52 727.63,570.40 727.63,570.40 727.73,563.63 727.83,554.58 727.93,546.63 728.03,539.84 728.13,533.99 728.23,528.86 728.33,524.32 728.43,520.25 728.53,516.58 728.63,513.25 728.73,510.20 728.83,507.40 728.93,504.82 729.03,502.43 729.13,500.21 729.23,498.15 729.33,496.22 729.43,494.42 729.53,492.73 729.63,491.15 729.73,489.66 729.83,488.26 729.93,486.94 730.03,485.69 730.13,484.51 730.23,483.40 730.33,482.34 730.43,481.34 730.53,480.39 730.63,479.49 730.73,478.63 730.83,477.82 730.93,477.04 731.03,476.30 731.13,475.59 731.23,474.92 731.33,474.28 731.43,473.67 731.83,471.48 732.23,469.64 732.63,468.08 733.03,466.76 733.43,465.63 733.83,464.66 734.23,463.83 734.63,463.11 735.03,462.48 735.43,461.94 735.83,461.46 736.23,461.04 736.63,460.68 737.03,460.36 737.43,460.07 737.83,459.82 738.23,459.60 738.63,459.40 739.03,459.23 739.43,459.08 739.83,458.94 740.23,458.82 740.63,458.71 741.03,458.61 741.43,458.52 741.83,458.44 742.23,458.37 742.63,458.31 743.03,458.25 743.43,458.20 743.83,458.15 744.23,458.11 744.63,458.08 745.03,458.04 745.43,458.01 745.83,457.98 746.23,457.96 746.63,457.94 746.68,457.93" fill="none" stroke="#c42a2c" stroke-width="2.00" stroke-linejoin="round"/>
<path d="M503.43,457.70 504.93,457.70 506.43,457.70 507.93,457.70 509.43,457.70 510.93,457.70 512.43,457.70 513.93,457.70 515.43,457.70 516.93,457.70 518.43,457.69 519.93,457.69 521.43,457.69 522.93,457.68 524.43,457.67 524.83,457.66 525.23,457.66 525.63,457.65 526.03,457.65 526.43,457.64 526.83,457.64 527.23,457.63 527.63,457.62 528.03,457.61 528.43,457.60 528.83,457.58 529.23,457.57 529.63,457.55 530.03,457.53 530.43,457.51 530.83,457.48 531.23,457.45 531.63,457.42 532.03,457.38 532.43,457.34 532.83,457.29 533.23,457.24 533.63,457.18 534.03,457.10 534.43,457.02 534.83,456.93 535.23,456.82 535.63,456.70 536.03,456.56 536.43,456.41 536.83,456.22 537.23,456.01 537.63,455.77 538.03,455.50 538.43,455.18 538.83,454.82 539.23,454.39 539.63,453.91 540.03,453.34 540.43,452.69 540.83,451.93 541.23,451.05 541.63,450.02 542.03,448.83 542.43,447.43 542.83,445.79 543.23,443.86 543.63,441.59 544.03,438.90 544.43,435.71 544.53,434.82 544.63,433.89 544.73,432.91 544.83,431.90 544.93,430.83 545.03,429.72 545.13,428.55 545.23,427.32 545.33,426.04 545.43,424.69 545.53,423.28 545.63,421.79 545.73,420.23 545.83,418.59 545.93,416.86 546.03,415.04 546.13,413.12 546.23,411.10 546.33,408.96 546.43,406.70 546.53,404.31 546.63,401.78 546.73,399.08 546.83,396.22 546.93,393.16 547.03,389.90 547.13,386.41 547.23,382.65 547.33,378.61 547.43,374.26 547.53,369.61 547.63,364.83 547.73,360.82 547.77,360.03 547.83,360.25 547.93,361.85 548.03,364.96 548.13,369.54 548.23,375.52 548.33,382.82 548.43,391.33 548.53,400.92 548.63,411.46 548.73,422.79 548.83,434.75 548.93,447.16 549.03,459.84 549.13,472.61 549.23,485.28 549.33,497.66 549.43,509.57 549.53,520.85 549.63,531.33 549.73,540.84 549.83,549.27 549.93,556.47 550.03,562.35 550.13,566.83 550.23,569.83 550.33,571.31 550.37,571.47 550.43,568.11 550.53,558.98 550.63,550.46 550.73,543.17 550.83,536.92 550.93,531.48 551.03,526.68 551.13,522.40 551.23,518.54 551.33,515.05 551.43,511.87 551.53,508.95 551.63,506.26 551.73,503.77 551.83,501.47 551.93,499.33 552.03,497.33 552.13,495.46 552.23,493.72 552.33,492.08 552.43,490.54 552.53,489.09 552.63,487.73 552.73,486.44 552.83,485.23 552.93,484.07 553.03,482.99 553.13,481.95 553.23,480.98 553.33,480.05 553.43,479.16 553.53,478.32 553.63,477.52 553.73,476.76 553.83,476.04 553.93,475.35 554.03,474.69 554.13,474.06 554.53,471.81 554.93,469.92 555.33,468.32 555.73,466.97 556.13,465.81 556.53,464.82 556.93,463.96 557.33,463.23 557.73,462.58 558.13,462.03 558.53,461.54 558.93,461.11 559.33,460.74 559.73,460.41 560.13,460.12 560.53,459.87 560.93,459.64 561.33,459.44 561.73,459.26 562.13,459.10 562.53,458.96 562.93,458.84 563.33,458.73 563.73,458.63 564.13,458.54 564.53,458.46 564.93,458.38 565.33,458.32 565.73,458.26 566.13,458.21 566.53,458.16 566.93,458.12 567.33,458.08 567.73,458.05 568.13,458.02 568.53,457.99 568.93,457.96 569.33,457.94 569.73,457.92 570.13,457.90 570.53,457.88 570.93,457.87 571.33,457.85 571.73,457.84 572.13,457.83 572.53,457.82 572.93,457.81 573.33,457.80 573.73,457.79 574.13,457.78 575.63,457.76 577.13,457.74 578.63,457.73 580.13,457.72 581.63,457.72 583.13,457.71 584.63,457.71 586.13,457.71 587.63,457.71 589.13,457.70 590.63,457.70 592.13,457.70 593.63,457.70 595.13,457.70 596.63,457.70 598.13,457.70 599.63,457.70 601.13,457.70 602.63,457.70 604.13,457.70 605.63,457.70 607.13,457.69 608.63,457.69 610.13,457.69 611.63,457.68 613.13,457.67 613.53,457.66 613.93,457.66 614.33,457.65 614.73,457.65 615.13,457.64 615.53,457.63 615.93,457.63 616.33,457.62 616.73,457.61 617.13,457.59 617.53,457.58 617.93,457.56 618.33,457.55 618.73,457.53 619.13,457.50 619.53,457.48 619.93,457.45 620.33,457.41 620.73,457.38 621.13,457.33 621.53,457.28 621.93,457.23 622.33,457.16 622.73,457.09 623.13,457.01 623.53,456.91 623.93,456.80 624.33,456.68 624.73,456.54 625.13,456.38 625.53,456.19 625.93,455.98 626.33,455.73 626.73,455.45 627.13,455.12 627.53,454.75 627.93,454.31 628.33,453.81 628.73,453.24 629.13,452.56 629.53,451.79 629.93,450.88 630.33,449.83 630.73,448.60 631.13,447.16 631.53,445.48 631.93,443.49 632.33,441.15 632.73,438.39 632.83,437.62 632.93,436.81 633.03,435.97 633.13,435.09 633.23,434.18 633.33,433.22 633.43,432.21 633.53,431.16 633.63,430.06 633.73,428.91 633.83,427.70 633.93,426.44 634.03,425.11 634.13,423.72 634.23,422.25 634.33,420.71 634.43,419.10 634.53,417.40 634.63,415.61 634.73,413.72 634.83,411.73 634.93,409.63 635.03,407.41 635.13,405.06 635.23,402.57 635.33,399.92 635.43,397.11 635.53,394.12 635.63,390.92 635.73,387.50 635.83,383.83 635.93,379.88 636.03,375.62 636.13,371.06 636.23,366.27 636.33,361.83 636.40,360.03 636.43,360.07 636.53,361.20 636.63,363.85 636.73,367.99 636.83,373.55 636.93,380.46 637.03,388.61 637.13,397.89 637.23,408.16 637.33,419.26 637.43,431.05 637.53,443.34 637.63,455.96 637.73,468.72 637.83,481.43 637.93,493.92 638.03,506.00 638.13,517.49 638.23,528.22 638.33,538.05 638.43,546.82 638.53,554.41 638.63,560.70 638.73,565.62 638.83,569.07 638.93,571.02 639.00,571.47 639.03,570.41 639.13,561.79 639.23,552.92 639.33,545.27 639.43,538.73 639.53,533.06 639.63,528.08 639.73,523.65 639.83,519.68 639.93,516.08 640.03,512.81 640.13,509.81 640.23,507.05 640.33,504.51 640.43,502.15 640.53,499.96 640.63,497.92 640.73,496.02 640.83,494.24 640.93,492.57 641.03,491.00 641.13,489.53 641.23,488.14 641.33,486.83 641.43,485.59 641.53,484.42 641.63,483.31 641.73,482.26 641.83,481.27 641.93,480.32 642.03,479.43 642.13,478.58 642.23,477.76 642.33,476.99 642.43,476.26 642.53,475.55 642.63,474.89 642.73,474.25 643.13,471.96 643.53,470.05 643.93,468.44 644.33,467.06 644.73,465.89 645.13,464.89 645.53,464.03 645.93,463.28 646.33,462.63 646.73,462.07 647.13,461.57 647.53,461.14 647.93,460.77 648.33,460.43 648.73,460.14 649.13,459.88 649.53,459.66 649.93,459.45 650.33,459.27 650.73,459.12 651.13,458.97 651.53,458.85 651.93,458.73 652.33,458.63 652.73,458.54 653.13,458.46 653.53,458.39 653.93,458.32 654.33,458.27 654.73,458.21 655.13,458.17 655.53,458.12 655.93,458.09 656.33,458.05 656.73,458.02 657.13,457.99 657.53,457.96 657.93,457.94 658.33,457.92 658.73,457.90 659.13,457.88 659.53,457.87 659.93,457.85 660.33,457.84 660.73,457.83 661.13,457.82 661.53,457.81 661.93,457.80 662.33,457.79 662.73,457.78 664.23,457.76 665.73,457.74 667.23,457.73 668.73,457.72 670.23,457.72 671.73,457.71 673.23,457.71 674.73,457.71 676.23,457.71 677.73,457.70 679.23,457.70 680.73,457.70 682.23,457.70 683.73,457.70 685.23,457.70 686.73,457.70 688.23,457.70 689.73,457.70 691.23,457.70 692.73,457.70 694.23,457.70 695.73,457.69 697.23,457.69 698.73,457.69 700.23,457.68 701.73,457.67 702.13,457.66 702.53,457.66 702.93,457.65 703.33,457.65 703.73,457.64 704.13,457.63 704.53,457.63 704.93,457.62 705.33,457.61 705.73,457.59 706.13,457.58 706.53,457.56 706.93,457.55 707.33,457.53 707.73,457.50 708.13,457.48 708.53,457.45 708.93,457.42 709.33,457.38 709.73,457.34 710.13,457.29 710.53,457.23 710.93,457.17 711.33,457.10 711.73,457.01 712.13,456.92 712.53,456.81 712.93,456.69 713.33,456.55 713.73,456.39 714.13,456.20 714.53,455.99 714.93,455.75 715.33,455.47 715.73,455.15 716.13,454.78 716.53,454.35 716.93,453.85 717.33,453.28 717.73,452.62 718.13,451.85 718.53,450.96 718.93,449.92 719.33,448.70 719.73,447.28 720.13,445.61 720.53,443.66 720.93,441.35 721.33,438.61 721.73,435.37 721.83,434.46 721.93,433.51 722.03,432.52 722.13,431.49 722.23,430.40 722.33,429.27 722.43,428.08 722.53,426.83 722.63,425.52 722.73,424.15 722.83,422.71 722.93,421.19 723.03,419.60 723.13,417.93 723.23,416.16 723.33,414.31 723.43,412.35 723.53,410.28 723.63,408.10 723.73,405.79 723.83,403.34 723.93,400.75 724.03,397.99 724.13,395.05 724.23,391.92 724.33,388.57 724.43,384.97 724.53,381.11 724.63,376.95 724.73,372.48 724.83,367.74 724.93,363.07 725.03,360.06 725.03,360.03 725.13,360.69 725.23,362.88 725.33,366.57 725.43,371.71 725.53,378.22 725.63,386.00 725.73,394.95 725.83,404.93 725.93,415.80 726.03,427.39 726.13,439.55 726.23,452.08 726.33,464.82 726.43,477.57 726.53,490.15 726.63,502.37 726.73,514.06 726.83,525.04 726.93,535.16 727.03,544.26 727.13,552.23 727.23,558.93 727.33,564.27 727.43,568.17 727.53,570.59 727.63,571.47 727.63,571.47 727.73,564.64 727.83,555.51 727.93,547.48 728.03,540.62 728.13,534.71 728.23,529.54 728.33,524.95 728.43,520.85 728.53,517.14 728.63,513.78 728.73,510.70 728.83,507.87 728.93,505.27 729.03,502.85 729.13,500.62 729.23,498.53 729.33,496.59 729.43,494.77 729.53,493.07 729.63,491.47 729.73,489.97 729.83,488.55 729.93,487.22 730.03,485.96 730.13,484.77 730.23,483.64 730.33,482.58 730.43,481.57 730.53,480.61 730.63,479.70 730.73,478.83 730.83,478.01 730.93,477.22 731.03,476.48 731.13,475.77 731.23,475.09 731.33,474.44 731.43,473.82 731.83,471.61 732.23,469.75 732.63,468.18 733.03,466.85 733.43,465.71 733.83,464.73 734.23,463.89 734.63,463.16 735.03,462.53 735.43,461.98 735.83,461.50 736.23,461.07 736.63,460.71 737.03,460.38 737.43,460.09 737.83,459.84 738.23,459.62 738.63,459.42 739.03,459.25 739.43,459.09 739.83,458.95 740.23,458.83 740.63,458.72 741.03,458.62 741.43,458.53 741.83,458.45 742.23,458.38 742.63,458.31 743.03,458.26 743.43,458.21 743.83,458.16 744.23,458.12 744.63,458.08 745.03,458.04 745.43,458.01 745.83,457.99 746.23,457.96 746.63,457.94 746.68,457.93" fill="none" stroke="#ec8e2e" stroke-width="2.00" stroke-linejoin="round"/>
<path d="M503.43,457.70 504.93,457.70 506.43,457.70 507.93,457.70 509.43,457.70 510.93,457.70 512.43,457.70 513.93,457.70 515.43,457.70 516.93,457.70 518.43,457.69 519.93,457.69 521.43,457.69 522.93,457.68 524.43,457.67 524.83,457.66 525.23,457.66 525.63,457.65 526.03,457.65 526.43,457.64 526.83,457.63 527.23,457.63 527.63,457.62 528.03,457.61 528.43,457.59 528.83,457.58 529.23,457.57 529.63,457.55 530.03,457.53 530.43,457.51 530.83,457.48 531.23,457.45 531.63,457.42 532.03,457.38 532.43,457.34 532.83,457.29 533.23,457.24 533.63,457.17 534.03,457.10 534.43,457.02 534.83,456.93 535.23,456.82 535.63,456.70 536.03,456.56 536.43,456.40 536.83,456.22 537.23,456.01 537.63,455.76 538.03,455.49 538.43,455.17 538.83,454.80 539.23,454.38 539.63,453.89 540.03,453.32 540.43,452.66 540.83,451.90 541.23,451.01 541.63,449.98 542.03,448.78 542.43,447.37 542.83,445.72 543.23,443.78 543.63,441.50 544.03,438.80 544.43,435.59 544.53,434.69 544.63,433.76 544.73,432.78 544.83,431.76 544.93,430.68 545.03,429.56 545.13,428.39 545.23,427.16 545.33,425.86 545.43,424.51 545.53,423.09 545.63,421.59 545.73,420.02 545.83,418.37 545.93,416.64 546.03,414.81 546.13,412.88 546.23,410.85 546.33,408.70 546.43,406.42 546.53,404.02 546.63,401.47 546.73,398.76 546.83,395.88 546.93,392.81 547.03,389.53 547.13,386.01 547.23,382.24 547.33,378.18 547.43,373.80 547.53,369.13 547.63,364.32 547.73,360.29 547.77,359.49 547.83,359.71 547.93,361.32 548.03,364.44 548.13,369.05 548.23,375.06 548.33,382.40 548.43,390.95 548.53,400.59 548.63,411.19 548.73,422.58 548.83,434.59 548.93,447.07 549.03,459.81 549.13,472.64 549.23,485.37 549.33,497.82 549.43,509.80 549.53,521.13 549.63,531.66 549.73,541.22 549.83,549.69 549.93,556.93 550.03,562.84 550.13,567.34 550.23,570.35 550.33,571.84 550.37,572.01 550.43,568.63 550.53,559.46 550.63,550.89 550.73,543.57 550.83,537.29 550.93,531.83 551.03,527.00 551.13,522.70 551.23,518.83 551.33,515.32 551.43,512.12 551.53,509.19 551.63,506.49 551.73,503.99 551.83,501.68 551.93,499.52 552.03,497.52 552.13,495.64 552.23,493.89 552.33,492.24 552.43,490.70 552.53,489.24 552.63,487.87 552.73,486.58 552.83,485.35 552.93,484.20 553.03,483.11 553.13,482.07 553.23,481.09 553.33,480.15 553.43,479.26 553.53,478.42 553.63,477.62 553.73,476.85 553.83,476.12 553.93,475.43 554.03,474.77 554.13,474.14 554.53,471.87 554.93,469.98 555.33,468.37 555.73,467.01 556.13,465.85 556.53,464.85 556.93,463.99 557.33,463.25 557.73,462.61 558.13,462.05 558.53,461.56 558.93,461.13 559.33,460.75 559.73,460.42 560.13,460.13 560.53,459.88 560.93,459.65 561.33,459.45 561.73,459.27 562.13,459.11 562.53,458.97 562.93,458.84 563.33,458.73 563.73,458.63 564.13,458.54 564.53,458.46 564.93,458.39 565.33,458.32 565.73,458.26 566.13,458.21 566.53,458.17 566.93,458.12 567.33,458.08 567.73,458.05 568.13,458.02 568.53,457.99 568.93,457.96 569.33,457.94 569.73,457.92 570.13,457.90 570.53,457.88 570.93,457.87 571.33,457.85 571.73,457.84 572.13,457.83 572.53,457.82 572.93,457.81 573.33,457.80 573.73,457.79 574.13,457.78 575.63,457.76 577.13,457.74 578.63,457.73 580.13,457.72 581.63,457.72 583.13,457.71 584.63,457.71 586.13,457.71 587.63,457.71 589.13,457.70 590.63,457.70 592.13,457.70 593.63,457.70 595.13,457.70 596.63,457.70 598.13,457.70 599.63,457.70 601.13,457.70 602.63,457.70 604.13,457.70 605.63,457.70 607.13,457.69 608.63,457.69 610.13,457.69 611.63,457.68 613.13,457.67 613.53,457.66 613.93,457.66 614.33,457.65 614.73,457.65 615.13,457.64 615.53,457.63 615.93,457.63 616.33,457.62 616.73,457.60 617.13,457.59 617.53,457.58 617.93,457.56 618.33,457.54 618.73,457.52 619.13,457.50 619.53,457.48 619.93,457.45 620.33,457.41 620.73,457.37 621.13,457.33 621.53,457.28 621.93,457.23 622.33,457.16 622.73,457.09 623.13,457.00 623.53,456.91 623.93,456.80 624.33,456.68 624.73,456.53 625.13,456.37 625.53,456.18 625.93,455.97 626.33,455.72 626.73,455.43 627.13,455.11 627.53,454.73 627.93,454.30 628.33,453.79 628.73,453.21 629.13,452.54 629.53,451.75 629.93,450.85 630.33,449.79 630.73,448.55 631.13,447.10 631.53,445.41 631.93,443.41 632.33,441.06 632.73,438.28 632.83,437.50 632.93,436.70 633.03,435.85 633.13,434.97 633.23,434.05 633.33,433.08 633.43,432.07 633.53,431.02 633.63,429.91 633.73,428.75 633.83,427.54 633.93,426.26 634.03,424.93 634.13,423.53 634.23,422.06 634.33,420.51 634.43,418.89 634.53,417.18 634.63,415.38 634.73,413.48 634.83,411.48 634.93,409.36 635.03,407.13 635.13,404.77 635.23,402.26 635.33,399.60 635.43,396.78 635.53,393.77 635.63,390.55 635.73,387.11 635.83,383.42 635.93,379.45 636.03,375.17 636.13,370.58 636.23,365.77 636.33,361.31 636.40,359.49 636.43,359.53 636.53,360.67 636.63,363.33 636.73,367.49 636.83,373.08 636.93,380.03 637.03,388.22 637.13,397.55 637.23,407.86 637.33,419.03 637.43,430.87 637.53,443.22 637.63,455.91 637.73,468.73 637.83,481.51 637.93,494.06 638.03,506.20 638.13,517.75 638.23,528.54 638.33,538.42 638.43,547.23 638.53,554.86 638.63,561.19 638.73,566.12 638.83,569.60 638.93,571.55 639.00,572.01 639.03,570.94 639.13,562.29 639.23,553.37 639.33,545.68 639.43,539.11 639.53,533.42 639.63,528.41 639.73,523.97 639.83,519.97 639.93,516.36 640.03,513.07 640.13,510.06 640.23,507.29 640.33,504.73 640.43,502.36 640.53,500.16 640.63,498.11 640.73,496.20 640.83,494.41 640.93,492.73 641.03,491.16 641.13,489.68 641.23,488.28 641.33,486.96 641.43,485.72 641.53,484.55 641.63,483.43 641.73,482.38 641.83,481.38 641.93,480.43 642.03,479.53 642.13,478.67 642.23,477.86 642.33,477.08 642.43,476.34 642.53,475.64 642.63,474.97 642.73,474.32 643.13,472.03 643.53,470.11 643.93,468.49 644.33,467.11 644.73,465.93 645.13,464.92 645.53,464.06 645.93,463.30 646.33,462.65 646.73,462.09 647.13,461.59 647.53,461.16 647.93,460.78 648.33,460.45 648.73,460.15 649.13,459.89 649.53,459.67 649.93,459.46 650.33,459.28 650.73,459.12 651.13,458.98 651.53,458.85 651.93,458.74 652.33,458.64 652.73,458.55 653.13,458.47 653.53,458.39 653.93,458.33 654.33,458.27 654.73,458.22 655.13,458.17 655.53,458.13 655.93,458.09 656.33,458.05 656.73,458.02 657.13,457.99 657.53,457.97 657.93,457.94 658.33,457.92 658.73,457.90 659.13,457.88 659.53,457.87 659.93,457.85 660.33,457.84 660.73,457.83 661.13,457.82 661.53,457.81 661.93,457.80 662.33,457.79 662.73,457.78 664.23,457.76 665.73,457.74 667.23,457.73 668.73,457.72 670.23,457.72 671.73,457.71 673.23,457.71 674.73,457.71 676.23,457.71 677.73,457.70 679.23,457.70 680.73,457.70 682.23,457.70 683.73,457.70 685.23,457.70 686.73,457.70 688.23,457.70 689.73,457.70 691.23,457.70 692.73,457.70 694.23,457.70 695.73,457.69 697.23,457.69 698.73,457.69 700.23,457.68 701.73,457.67 702.13,457.66 702.53,457.66 702.93,457.65 703.33,457.65 703.73,457.64 704.13,457.63 704.53,457.63 704.93,457.62 705.33,457.61 705.73,457.59 706.13,457.58 706.53,457.56 706.93,457.55 707.33,457.53 707.73,457.50 708.13,457.48 708.53,457.45 708.93,457.42 709.33,457.38 709.73,457.33 710.13,457.29 710.53,457.23 710.93,457.17 711.33,457.09 711.73,457.01 712.13,456.92 712.53,456.81 712.93,456.69 713.33,456.54 713.73,456.38 714.13,456.20 714.53,455.98 714.93,455.74 715.33,455.46 715.73,455.13 716.13,454.76 716.53,454.33 716.93,453.83 717.33,453.26 717.73,452.59 718.13,451.82 718.53,450.92 718.93,449.87 719.33,448.65 719.73,447.22 720.13,445.55 720.53,443.58 720.93,441.26 721.33,438.51 721.73,435.24 721.83,434.33 721.93,433.38 722.03,432.39 722.13,431.34 722.23,430.25 722.33,429.11 722.43,427.91 722.53,426.66 722.63,425.34 722.73,423.96 722.83,422.51 722.93,420.99 723.03,419.39 723.13,417.71 723.23,415.94 723.33,414.07 723.43,412.10 723.53,410.02 723.63,407.83 723.73,405.50 723.83,403.04 723.93,400.43 724.03,397.66 724.13,394.71 724.23,391.56 724.33,388.19 724.43,384.58 724.53,380.69 724.63,376.51 724.73,372.01 724.83,367.25 724.93,362.55 725.03,359.53 725.03,359.49 725.13,360.16 725.23,362.36 725.33,366.07 725.43,371.23 725.53,377.77 725.63,385.60 725.73,394.59 725.83,404.62 725.93,415.54 726.03,427.20 726.13,439.41 726.23,452.01 726.33,464.81 726.43,477.63 726.53,490.27 726.63,502.55 726.73,514.30 726.83,525.34 726.93,535.51 727.03,544.66 727.13,552.67 727.23,559.40 727.33,564.77 727.43,568.69 727.53,571.12 727.63,572.01 727.63,572.01 727.73,565.14 727.83,555.97 727.93,547.90 728.03,541.01 728.13,535.07 728.23,529.88 728.33,525.27 728.43,521.15 728.53,517.42 728.63,514.04 728.73,510.95 728.83,508.11 728.93,505.49 729.03,503.07 729.13,500.82 729.23,498.72 729.33,496.77 729.43,494.94 729.53,493.23 729.63,491.63 729.73,490.12 729.83,488.70 729.93,487.36 730.03,486.09 730.13,484.90 730.23,483.77 730.33,482.69 730.43,481.68 730.53,480.72 730.63,479.80 730.73,478.93 730.83,478.10 730.93,477.32 731.03,476.57 731.13,475.85 731.23,475.17 731.33,474.52 731.43,473.90 731.83,471.67 732.23,469.81 732.63,468.23 733.03,466.89 733.43,465.75 733.83,464.76 734.23,463.92 734.63,463.18 735.03,462.55 735.43,462.00 735.83,461.51 736.23,461.09 736.63,460.72 737.03,460.39 737.43,460.11 737.83,459.85 738.23,459.63 738.63,459.43 739.03,459.25 739.43,459.10 739.83,458.96 740.23,458.83 740.63,458.72 741.03,458.62 741.43,458.53 741.83,458.45 742.23,458.38 742.63,458.32 743.03,458.26 743.43,458.21 743.83,458.16 744.23,458.12 744.63,458.08 745.03,458.05 745.43,458.02 745.83,457.99 746.23,457.96 746.63,457.94 746.68,457.94" fill="none" stroke="#84842a" stroke-width="2.00" stroke-linejoin="round"/>
<path d="M503.43,457.70 504.93,457.70 506.43,457.70 507.93,457.70 509.43,457.70 510.93,457.70 512.43,457.70 513.93,457.70 515.43,457.70 516.93,457.70 518.43,457.69 519.93,457.69 521.43,457.69 522.93,457.68 524.43,457.67 524.83,457.66 525.23,457.66 525.63,457.65 526.03,457.65 526.43,457.64 526.83,457.63 527.23,457.63 527.63,457.62 528.03,457.61 528.43,457.59 528.83,457.58 529.23,457.56 529.63,457.55 530.03,457.53 530.43,457.50 530.83,457.48 531.23,457.45 531.63,457.42 532.03,457.38 532.43,457.34 532.83,457.29 533.23,457.23 533.63,457.17 534.03,457.10 534.43,457.02 534.83,456.92 535.23,456.81 535.63,456.69 536.03,456.55 536.43,456.39 536.83,456.21 537.23,456.00 537.63,455.75 538.03,455.47 538.43,455.15 538.83,454.78 539.23,454.36 539.63,453.86 540.03,453.29 540.43,452.63 540.83,451.87 541.23,450.98 541.63,449.94 542.03,448.73 542.43,447.32 542.83,445.66 543.23,443.71 543.63,441.41 544.03,438.69 544.43,435.47 544.53,434.57 544.63,433.63 544.73,432.64 544.83,431.61 544.93,430.54 545.03,429.41 545.13,428.23 545.23,426.99 545.33,425.69 545.43,424.33 545.53,422.90 545.63,421.40 545.73,419.82 545.83,418.16 545.93,416.41 546.03,414.57 546.13,412.63 546.23,410.59 546.33,408.43 546.43,406.14 546.53,403.73 546.63,401.16 546.73,398.44 546.83,395.54 546.93,392.45 547.03,389.16 547.13,385.62 547.23,381.83 547.33,377.74 547.43,373.34 547.53,368.64 547.63,363.81 547.73,359.75 547.77,358.95 547.83,359.18 547.93,360.79 548.03,363.93 548.13,368.56 548.23,374.61 548.33,381.98 548.43,390.57 548.53,400.27 548.63,410.91 548.73,422.36 548.83,434.44 548.93,446.97 549.03,459.78 549.13,472.68 549.23,485.47 549.33,497.98 549.43,510.02 549.53,521.41 549.63,531.99 549.73,541.61 549.83,550.11 549.93,557.39 550.03,563.33 550.13,567.85 550.23,570.88 550.33,572.38 550.37,572.55 550.43,569.16 550.53,559.93 550.63,551.33 550.73,543.98 550.83,537.67 550.93,532.17 551.03,527.33 551.13,523.01 551.23,519.12 551.33,515.59 551.43,512.38 551.53,509.43 551.63,506.72 551.73,504.21 551.83,501.88 551.93,499.72 552.03,497.70 552.13,495.82 552.23,494.06 552.33,492.40 552.43,490.85 552.53,489.39 552.63,488.01 552.73,486.71 552.83,485.48 552.93,484.32 553.03,483.22 553.13,482.18 553.23,481.19 553.33,480.26 553.43,479.37 553.53,478.52 553.63,477.71 553.73,476.94 553.83,476.21 553.93,475.51 554.03,474.85 554.13,474.21 554.53,471.94 554.93,470.03 555.33,468.42 555.73,467.06 556.13,465.89 556.53,464.89 556.93,464.02 557.33,463.28 557.73,462.63 558.13,462.07 558.53,461.58 558.93,461.15 559.33,460.77 559.73,460.44 560.13,460.14 560.53,459.89 560.93,459.66 561.33,459.46 561.73,459.28 562.13,459.12 562.53,458.98 562.93,458.85 563.33,458.74 563.73,458.64 564.13,458.54 564.53,458.46 564.93,458.39 565.33,458.33 565.73,458.27 566.13,458.21 566.53,458.17 566.93,458.12 567.33,458.09 567.73,458.05 568.13,458.02 568.53,457.99 568.93,457.97 569.33,457.94 569.73,457.92 570.13,457.90 570.53,457.88 570.93,457.87 571.33,457.85 571.73,457.84 572.13,457.83 572.53,457.82 572.93,457.81 573.33,457.80 573.73,457.79 574.13,457.78 575.63,457.76 577.13,457.74 578.63,457.73 580.13,457.72 581.63,457.72 583.13,457.71 584.63,457.71 586.13,457.71 587.63,457.71 589.13,457.70 590.63,457.70 592.13,457.70 593.63,457.70 595.13,457.70 596.63,457.70 598.13,457.70 599.63,457.70 601.13,457.70 602.63,457.70 604.13,457.70 605.63,457.70 607.13,457.69 608.63,457.69 610.13,457.69 611.63,457.68 613.13,457.67 613.53,457.66 613.93,457.66 614.33,457.65 614.73,457.65 615.13,457.64 615.53,457.63 615.93,457.62 616.33,457.62 616.73,457.60 617.13,457.59 617.53,457.58 617.93,457.56 618.33,457.54 618.73,457.52 619.13,457.50 619.53,457.47 619.93,457.44 620.33,457.41 620.73,457.37 621.13,457.33 621.53,457.28 621.93,457.22 622.33,457.16 622.73,457.08 623.13,457.00 623.53,456.90 623.93,456.79 624.33,456.67 624.73,456.53 625.13,456.36 625.53,456.17 625.93,455.96 626.33,455.71 626.73,455.42 627.13,455.09 627.53,454.71 627.93,454.28 628.33,453.77 628.73,453.19 629.13,452.51 629.53,451.72 629.93,450.81 630.33,449.74 630.73,448.50 631.13,447.05 631.53,445.34 631.93,443.34 632.33,440.97 632.73,438.17 632.83,437.39 632.93,436.58 633.03,435.73 633.13,434.85 633.23,433.92 633.33,432.95 633.43,431.93 633.53,430.87 633.63,429.76 633.73,428.59 633.83,427.37 633.93,426.09 634.03,424.75 634.13,423.34 634.23,421.86 634.33,420.31 634.43,418.67 634.53,416.96 634.63,415.14 634.73,413.24 634.83,411.22 634.93,409.10 635.03,406.85 635.13,404.48 635.23,401.96 635.33,399.29 635.43,396.44 635.53,393.42 635.63,390.19 635.73,386.73 635.83,383.01 635.93,379.02 636.03,374.72 636.13,370.10 636.23,365.27 636.33,360.78 636.40,358.95 636.43,359.00 636.53,360.13 636.63,362.81 636.73,366.99 636.83,372.62 636.93,379.59 637.03,387.83 637.13,397.20 637.23,407.57 637.33,418.79 637.43,430.70 637.53,443.11 637.63,455.86 637.73,468.75 637.83,481.59 637.93,494.21 638.03,506.41 638.13,518.01 638.23,528.86 638.33,538.78 638.43,547.64 638.53,555.31 638.63,561.67 638.73,566.63 638.83,570.12 638.93,572.09 639.00,572.55 639.03,571.47 639.13,562.78 639.23,553.82 639.33,546.10 639.43,539.49 639.53,533.77 639.63,528.75 639.73,524.28 639.83,520.26 639.93,516.63 640.03,513.33 640.13,510.30 640.23,507.52 640.33,504.95 640.43,502.57 640.53,500.36 640.63,498.30 640.73,496.38 640.83,494.58 640.93,492.90 641.03,491.31 641.13,489.83 641.23,488.42 641.33,487.10 641.43,485.85 641.53,484.67 641.63,483.55 641.73,482.49 641.83,481.49 641.93,480.54 642.03,479.63 642.13,478.77 642.23,477.95 642.33,477.17 642.43,476.43 642.53,475.72 642.63,475.05 642.73,474.40 643.13,472.10 643.53,470.17 643.93,468.54 644.33,467.15 644.73,465.97 645.13,464.96 645.53,464.09 645.93,463.33 646.33,462.68 646.73,462.11 647.13,461.61 647.53,461.18 647.93,460.80 648.33,460.46 648.73,460.17 649.13,459.90 649.53,459.67 649.93,459.47 650.33,459.29 650.73,459.13 651.13,458.99 651.53,458.86 651.93,458.74 652.33,458.64 652.73,458.55 653.13,458.47 653.53,458.40 653.93,458.33 654.33,458.27 654.73,458.22 655.13,458.17 655.53,458.13 655.93,458.09 656.33,458.05 656.73,458.02 657.13,457.99 657.53,457.97 657.93,457.94 658.33,457.92 658.73,457.90 659.13,457.89 659.53,457.87 659.93,457.86 660.33,457.84 660.73,457.83 661.13,457.82 661.53,457.81 661.93,457.80 662.33,457.79 662.73,457.78 664.23,457.76 665.73,457.74 667.23,457.73 668.73,457.72 670.23,457.72 671.73,457.71 673.23,457.71 674.73,457.71 676.23,457.71 677.73,457.70 679.23,457.70 680.73,457.70 682.23,457.70 683.73,457.70 685.23,457.70 686.73,457.70 688.23,457.70 689.73,457.70 691.23,457.70 692.73,457.70 694.23,457.70 695.73,457.69 697.23,457.69 698.73,457.69 700.23,457.68 701.73,457.67 702.13,457.66 702.53,457.66 702.93,457.65 703.33,457.65 703.73,457.64 704.13,457.63 704.53,457.63 704.93,457.62 705.33,457.61 705.73,457.59 706.13,457.58 706.53,457.56 706.93,457.55 707.33,457.53 707.73,457.50 708.13,457.48 708.53,457.45 708.93,457.41 709.33,457.38 709.73,457.33 710.13,457.28 710.53,457.23 710.93,457.16 711.33,457.09 711.73,457.01 712.13,456.91 712.53,456.80 712.93,456.68 713.33,456.54 713.73,456.37 714.13,456.19 714.53,455.97 714.93,455.73 715.33,455.45 715.73,455.12 716.13,454.75 716.53,454.31 716.93,453.81 717.33,453.23 717.73,452.56 718.13,451.79 718.53,450.88 718.93,449.83 719.33,448.60 719.73,447.17 720.13,445.48 720.53,443.50 720.93,441.17 721.33,438.40 721.73,435.12 721.83,434.20 721.93,433.25 722.03,432.25 722.13,431.20 722.23,430.10 722.33,428.95 722.43,427.75 722.53,426.49 722.63,425.17 722.73,423.78 722.83,422.32 722.93,420.79 723.03,419.18 723.13,417.49 723.23,415.71 723.33,413.83 723.43,411.85 723.53,409.76 723.63,407.55 723.73,405.22 723.83,402.74 723.93,400.12 724.03,397.33 724.13,394.36 724.23,391.19 724.33,387.81 724.43,384.18 724.53,380.27 724.63,376.07 724.73,371.54 724.83,366.75 724.93,362.03 725.03,358.99 725.03,358.95 725.13,359.62 725.23,361.84 725.33,365.56 725.43,370.75 725.53,377.33 725.63,385.19 725.73,394.23 725.83,404.31 725.93,415.29 726.03,427.00 726.13,439.28 726.23,451.94 726.33,464.81 726.43,477.69 726.53,490.39 726.63,502.74 726.73,514.55 726.83,525.64 726.93,535.86 727.03,545.06 727.13,553.10 727.23,559.87 727.33,565.27 727.43,569.21 727.53,571.65 727.63,572.54 727.63,572.55 727.73,565.65 727.83,556.43 727.93,548.32 728.03,541.41 728.13,535.44 728.23,530.22 728.33,525.59 728.43,521.44 728.53,517.70 728.63,514.31 728.73,511.20 728.83,508.35 728.93,505.71 729.03,503.28 729.13,501.02 729.23,498.92 729.33,496.95 729.43,495.12 729.53,493.40 729.63,491.79 729.73,490.27 729.83,488.84 729.93,487.50 730.03,486.23 730.13,485.02 730.23,483.89 730.33,482.81 730.43,481.79 730.53,480.82 730.63,479.90 730.73,479.03 730.83,478.20 730.93,477.41 731.03,476.65 731.13,475.94 731.23,475.25 731.33,474.60 731.43,473.97 731.83,471.74 732.23,469.86 732.63,468.28 733.03,466.93 733.43,465.78 733.83,464.80 734.23,463.95 734.63,463.21 735.03,462.57 735.43,462.02 735.83,461.53 736.23,461.11 736.63,460.73 737.03,460.41 737.43,460.12 737.83,459.86 738.23,459.64 738.63,459.44 739.03,459.26 739.43,459.10 739.83,458.96 740.23,458.84 740.63,458.73 741.03,458.63 741.43,458.54 741.83,458.46 742.23,458.38 742.63,458.32 743.03,458.26 743.43,458.21 743.83,458.16 744.23,458.12 744.63,458.08 745.03,458.05 745.43,458.02 745.83,457.99 746.23,457.96 746.63,457.94 746.68,457.94" fill="none" stroke="#1a8159" stroke-width="2.00" stroke-linejoin="round"/>
<line x1="79.50" y1="37.60" x2="106.00" y2="37.60" stroke="#c42a2c" stroke-width="2"/><text x="109.00" y="41.80" class="lga">Gap: 3 mm</text>
<line x1="246.30" y1="37.20" x2="273.00" y2="37.20" stroke="#ec8e2e" stroke-width="2"/><text x="276.00" y="41.40" class="lga">Gap: 5 mm</text>
<line x1="75.00" y1="262.10" x2="100.30" y2="262.10" stroke="#84842a" stroke-width="2"/><text x="104.00" y="266.30" class="lga">Gap: 7 mm</text>
<line x1="249.50" y1="261.60" x2="276.00" y2="261.60" stroke="#1a8159" stroke-width="2"/><text x="279.20" y="265.80" class="lga">Gap: 9 mm</text>
<line x1="627.10" y1="33.30" x2="652.40" y2="33.30" stroke="#151515" stroke-width="2"/><text x="656.40" y="37.50" class="lg">2.0 Hz</text>
<line x1="627.10" y1="49.90" x2="652.40" y2="49.90" stroke="#ec8e2e" stroke-width="2"/><text x="656.40" y="54.10" class="lg">2.5 Hz</text>
<line x1="702.90" y1="31.70" x2="728.20" y2="31.70" stroke="#84842a" stroke-width="2"/><text x="732.30" y="35.90" class="lg">3.0 Hz</text>
<line x1="702.90" y1="47.90" x2="728.20" y2="47.90" stroke="#1a8159" stroke-width="2"/><text x="732.30" y="52.10" class="lg">3.5 Hz</text>
<line x1="79.70" y1="349.20" x2="105.90" y2="349.20" stroke="#c42a2c" stroke-width="2"/><text x="108.50" y="353.40" class="lgc">Sigma= 100 <tspan class="mu">&#956;</tspan>C m<tspan class="sup" dx="0.6" dy="-6.2">-2</tspan></text>
<line x1="236.00" y1="349.40" x2="262.00" y2="349.40" stroke="#ec8e2e" stroke-width="2"/><text x="265.00" y="353.60" class="lgc">Sigma= 120 <tspan class="mu">&#956;</tspan>C m<tspan class="sup" dx="0.6" dy="-6.2">-2</tspan></text>
<line x1="78.90" y1="571.40" x2="104.70" y2="571.40" stroke="#84842a" stroke-width="2"/><text x="107.50" y="575.60" class="lgc">Sigma= 140 <tspan class="mu">&#956;</tspan>C m<tspan class="sup" dx="0.6" dy="-6.2">-2</tspan></text>
<line x1="236.00" y1="571.40" x2="262.00" y2="571.40" stroke="#1a8159" stroke-width="2"/><text x="265.00" y="575.60" class="lgc">Sigma= 180 <tspan class="mu">&#956;</tspan>C m<tspan class="sup" dx="0.6" dy="-6.2">-2</tspan></text>
<line x1="473.00" y1="345.40" x2="498.30" y2="345.40" stroke="#c42a2c" stroke-width="2"/><text x="502.20" y="349.60" class="lga"><tspan class="mu">&#951;</tspan>=1.05</text>
<line x1="551.90" y1="345.40" x2="578.20" y2="345.40" stroke="#ec8e2e" stroke-width="2"/><text x="582.10" y="349.60" class="lga"><tspan class="mu">&#951;</tspan>=1.10</text>
<line x1="627.10" y1="345.40" x2="652.40" y2="345.40" stroke="#84842a" stroke-width="2"/><text x="656.20" y="349.60" class="lga"><tspan class="mu">&#951;</tspan>=1.15</text>
<line x1="698.90" y1="345.40" x2="725.20" y2="345.40" stroke="#1a8159" stroke-width="2"/><text x="728.00" y="349.60" class="lga"><tspan class="mu">&#951;</tspan>=1.20</text>
<text x="232.50" y="313.50" class="ti" text-anchor="middle">Time (s)</text>
<text x="618.65" y="313.90" class="ti" text-anchor="middle">Time (s)</text>
<text x="226.50" y="621.40" class="ti" text-anchor="middle">Time (s)</text>
<text x="619.70" y="627.00" class="ti" text-anchor="middle">Time (s)</text>
<text transform="translate(33.80,150.10) rotate(-90)" class="ti" text-anchor="middle" textLength="119.5" lengthAdjust="spacingAndGlyphs">Output voltage (V)</text>
<text transform="translate(423.40,157.50) rotate(-90)" class="ti" text-anchor="middle" textLength="119.5" lengthAdjust="spacingAndGlyphs">Output voltage (V)</text>
<text transform="translate(33.60,459.90) rotate(-90)" class="ti" text-anchor="middle" textLength="119.5" lengthAdjust="spacingAndGlyphs">Output voltage (V)</text>
<text transform="translate(422.90,459.40) rotate(-90)" class="ti" text-anchor="middle" textLength="119.5" lengthAdjust="spacingAndGlyphs">Output voltage (V)</text>
<text x="17.3" y="27.3" class="pl">(a)</text>
<text x="397" y="27.2" class="pl">(b)</text>
<text x="20" y="338.5" class="pl">(c)</text>
<text x="403.5" y="338.7" class="pl">(d)</text>
</svg>
</body></html>
